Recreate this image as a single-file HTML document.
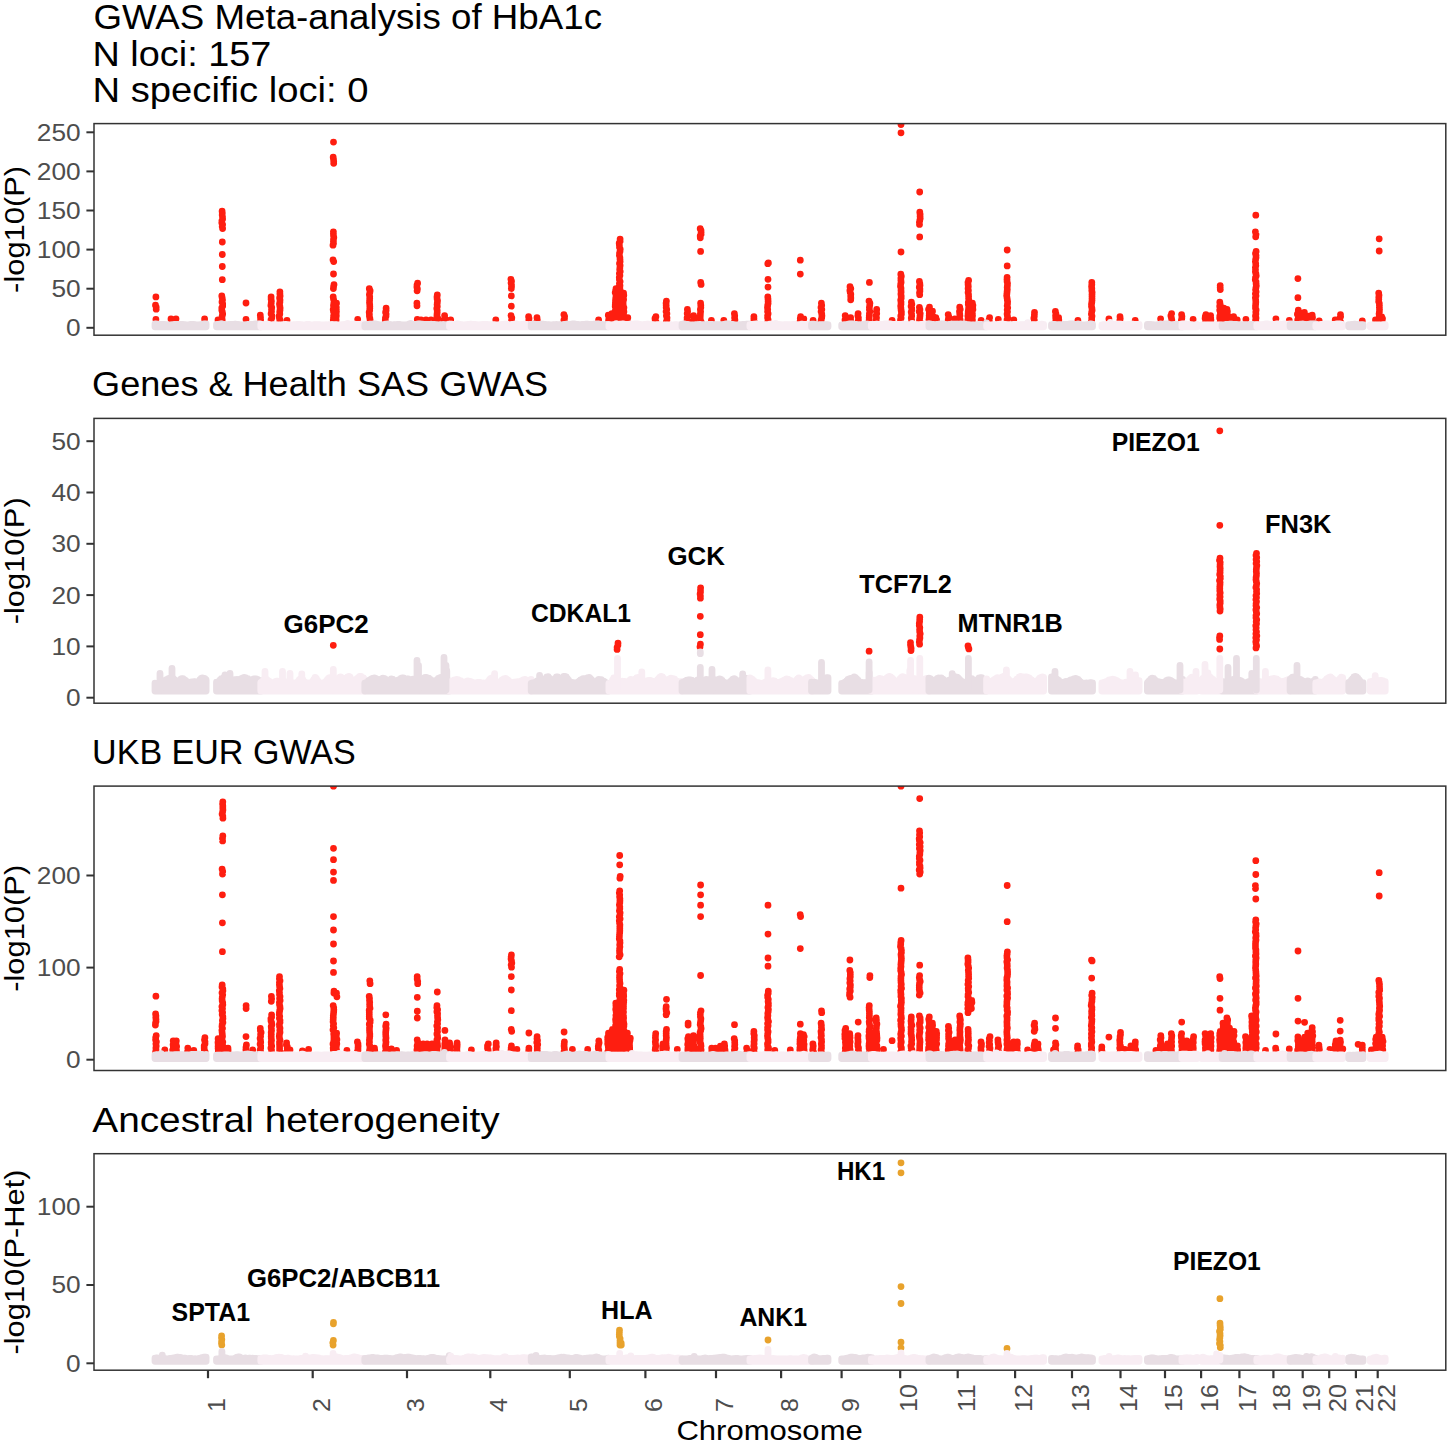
<!DOCTYPE html><html><head><meta charset="utf-8"><style>html,body{margin:0;padding:0;background:#fff;overflow:hidden;}svg{display:block;}</style></head><body><svg width="1450" height="1444" viewBox="0 0 1450 1444" font-family='"Liberation Sans", sans-serif'>
<rect width="1450" height="1444" fill="#FFFFFF"/>
<text x="93.5" y="29" font-size="34.5" fill="#000" font-weight="normal" text-anchor="start" textLength="508.5" lengthAdjust="spacingAndGlyphs">GWAS Meta-analysis of HbA1c</text>
<text x="92.5" y="65.8" font-size="34.5" fill="#000" font-weight="normal" text-anchor="start" textLength="178.9" lengthAdjust="spacingAndGlyphs">N loci: 157</text>
<text x="92.5" y="101.8" font-size="34.5" fill="#000" font-weight="normal" text-anchor="start" textLength="276.1" lengthAdjust="spacingAndGlyphs">N specific loci: 0</text>
<text x="92.1" y="396" font-size="34.5" fill="#000" font-weight="normal" text-anchor="start" textLength="456" lengthAdjust="spacingAndGlyphs">Genes &amp; Health SAS GWAS</text>
<text x="92.1" y="764" font-size="34.5" fill="#000" font-weight="normal" text-anchor="start" textLength="263.6" lengthAdjust="spacingAndGlyphs">UKB EUR GWAS</text>
<text x="92.3" y="1132" font-size="34.5" fill="#000" font-weight="normal" text-anchor="start" textLength="407.3" lengthAdjust="spacingAndGlyphs">Ancestral heterogeneity</text>
<clipPath id="c0"><rect x="94" y="123.6" width="1351.8" height="211.6"/></clipPath>
<g clip-path="url(#c0)">
<path d="M155.9 296.9h0M155.5 305.2h0M156.2 307.2h0M156.2 309.2h0M155.9 319.3h0M171 319h0M176 318.8h0M204.6 319h0M218 320h0M222.1 211.2h0M222.3 213.1h0M222.2 215.1h0M222.5 217h0M222.6 218.9h0M221.9 220.8h0M221.8 222.7h0M222.6 224.6h0M222.2 226.6h0M222.6 228.5h0M222.3 242h0M222.3 254.5h0M222.3 266.5h0M222.3 279.7h0M221.8 296h0M222.2 298h0M222.5 300h0M222 302h0M222.7 304h0M222.7 306h0M221.8 308h0M221.8 310h0M222.3 312h0M222.7 314h0M222.2 316h0M222 318h0M222.2 320h0M221.8 322h0M246 303h0M246 319.3h0M260.3 315.2h0M260.5 317.5h0M260.6 319.7h0M260.3 322h0M271.1 297h0M271.1 299.1h0M271.4 301.2h0M271.2 303.3h0M270.9 305.4h0M271.7 307.4h0M271.5 309.5h0M271.5 311.6h0M271.1 313.7h0M271.9 315.8h0M271.8 317.8h0M271 319.9h0M271.2 322h0M279.9 291.8h0M279.9 293.8h0M280.1 295.9h0M279.6 297.9h0M280 299.9h0M279.9 301.9h0M279.5 303.9h0M279.8 305.9h0M280.1 307.9h0M280 309.9h0M279.7 311.9h0M279.8 314h0M279.2 316h0M279.4 318h0M280 320h0M279.6 322h0M287 320.3h0M333.5 142.1h0M333.2 157.2h0M333.5 159.2h0M333.7 161.3h0M333.7 163.3h0M333.4 231.8h0M333.4 233.7h0M333.5 235.6h0M333.8 237.5h0M333.5 239.5h0M333.4 241.4h0M333.5 243.3h0M333 245.2h0M333 259.8h0M333.7 261.6h0M333.5 274h0M334 284.6h0M333.6 286.5h0M333.4 288.5h0M333.2 297h0M333.5 299.1h0M334 301.2h0M333.8 303.3h0M333.5 305.4h0M333.9 307.4h0M333.2 309.5h0M333.5 311.6h0M334 313.7h0M333.6 315.8h0M333.5 317.8h0M333.3 319.9h0M333.5 322h0M336.5 303.2h0M335.5 305.3h0M336.3 307.4h0M336.3 309.5h0M336.4 311.6h0M336.2 313.7h0M336.3 315.7h0M336 317.8h0M336.1 319.9h0M335.9 322h0M357.7 319.3h0M369.3 288.7h0M370.1 290.7h0M369.8 292.6h0M369.4 294.6h0M369.7 296.6h0M369.7 298.5h0M369.6 300.5h0M369.5 302.4h0M369.7 304.4h0M369.8 306.3h0M369.8 308.3h0M369.7 310.3h0M369.2 312.2h0M369.4 314.2h0M369.4 316.1h0M369.8 318.1h0M370.1 320h0M370 322h0M386.1 308.2h0M386.1 310.2h0M385.6 312.2h0M386.1 314.1h0M386 316.1h0M385.4 318.1h0M385.3 320h0M385.3 322h0M417.6 283.2h0M417 285.1h0M416.9 287h0M417.4 288.9h0M417.1 290.8h0M416.9 303.2h0M417 305.8h0M417.3 319.3h0M421 320h0M426 320h0M431 320h0M437.3 294.9h0M437 296.9h0M437.1 298.8h0M437.5 300.7h0M437.3 302.7h0M437.1 304.6h0M437.3 306.5h0M436.8 308.5h0M437.2 310.4h0M437.2 312.3h0M437 314.3h0M436.9 316.2h0M437.7 318.1h0M437.3 320.1h0M437 322h0M444.6 315.6h0M444.8 317.8h0M444 319.9h0M444 322h0M450.7 319.8h0M495.8 319.8h0M510.9 279.4h0M511.5 281.2h0M511 283h0M511.5 284.9h0M511.5 286.7h0M511.3 288.5h0M511.3 295.9h0M511.3 306.2h0M511 315.6h0M511.8 317.8h0M511.6 319.9h0M511.3 322h0M528.6 316.7h0M529 318.5h0M528.8 320.2h0M529 322h0M537 317.7h0M537.3 319.9h0M536.8 322h0M563.9 314.6h0M564.6 316.5h0M564.5 318.3h0M563.9 320.2h0M564.5 322h0M598.6 319.8h0M608.3 315.2h0M608.9 317.5h0M608.7 319.7h0M608.4 322h0M611.9 313.6h0M611.6 315.7h0M612.5 317.8h0M611.6 319.9h0M612.4 322h0M616 288.7h0M615.6 290.7h0M615.2 292.6h0M615.9 294.6h0M616 296.6h0M615.7 298.5h0M615.5 300.5h0M615.4 302.4h0M615.3 304.4h0M615.2 306.3h0M615.7 308.3h0M615.4 310.3h0M615.2 312.2h0M615.1 314.2h0M615.7 316.1h0M615.3 318.1h0M615.5 320h0M615.3 322h0M620.1 239.1h0M620.1 241.2h0M619.2 243.2h0M619.4 245.2h0M619.5 247.2h0M620.2 249.2h0M620 251.3h0M619.5 253.3h0M619.4 255.3h0M619.9 257.3h0M620 259.3h0M620.1 261.4h0M619.5 263.4h0M620.1 265.4h0M619.9 267.4h0M619.7 269.4h0M620.2 271.5h0M619.4 273.5h0M619.9 275.5h0M619.3 277.5h0M619.4 279.6h0M620.1 281.6h0M619.4 283.6h0M620 285.6h0M619.8 287.6h0M620 289.7h0M619.6 291.7h0M619.5 293.7h0M619.5 295.7h0M620.1 297.7h0M619.8 299.8h0M620.2 301.8h0M620.1 303.8h0M619.3 305.8h0M619.8 307.9h0M619.3 309.9h0M619.2 311.9h0M619.3 313.9h0M620.1 315.9h0M620 318h0M620 320h0M619.5 322h0M623.6 293.2h0M623.8 295.3h0M623.4 297.3h0M623.6 299.4h0M623.2 301.4h0M623.1 303.5h0M623.3 305.6h0M623.9 307.6h0M623.6 309.7h0M623.9 311.7h0M623.5 313.8h0M623.3 315.8h0M623.8 317.9h0M623.8 319.9h0M623 322h0M627.8 317.7h0M627.2 319.9h0M627.2 322h0M655.9 316.7h0M655 318.5h0M655.2 320.2h0M656 322h0M666.4 301.1h0M666.1 303.2h0M666.2 305.3h0M666.2 307.4h0M666.7 309.5h0M666.1 311.6h0M666.9 313.7h0M666.4 315.7h0M667 317.8h0M666.9 319.9h0M666.3 322h0M687.4 309.4h0M687.6 311.5h0M687.2 313.6h0M687.8 315.7h0M687.1 317.8h0M687.1 319.9h0M688.1 322h0M693.6 315.6h0M693.9 317.8h0M693.7 319.9h0M693.6 322h0M700.2 228.7h0M701 230.5h0M701.1 232.3h0M701.1 234.2h0M700.2 236h0M700.3 237.8h0M700.6 251.4h0M700.7 282.5h0M701.1 284.4h0M700.6 303.2h0M700.8 305.3h0M700.8 307.4h0M700.4 309.5h0M700.6 311.6h0M700.4 313.7h0M700.3 315.7h0M700.2 317.8h0M700.4 319.9h0M701.1 322h0M711.4 320.3h0M723.8 320.3h0M734.4 313.6h0M734.7 315.7h0M734.6 317.8h0M734.9 319.9h0M734.4 322h0M753.9 316.7h0M753.9 318.5h0M753.9 320.2h0M754.4 322h0M768.4 262.9h0M767.8 263.7h0M768 279.3h0M768 287.1h0M767.8 297h0M768 299.1h0M768.1 301.2h0M768.1 303.3h0M767.7 305.4h0M767.5 307.4h0M767.7 309.5h0M767.6 311.6h0M768.1 313.7h0M767.6 315.8h0M767.6 317.8h0M768.1 319.9h0M767.8 322h0M800.3 260.2h0M800.3 274.1h0M800.6 316.7h0M800.3 318.5h0M800.7 320.2h0M800 322h0M803.8 318.8h0M813.1 320.3h0M821.4 303.2h0M821.7 305.3h0M821 307.4h0M821.8 309.5h0M821.1 311.6h0M821.7 313.7h0M821.9 315.7h0M821.7 317.8h0M821.2 319.9h0M821 322h0M845.2 315.6h0M845.6 317.8h0M845 319.9h0M845.6 322h0M850 286.7h0M850.8 288.6h0M849.9 290.5h0M850.2 292.3h0M850.8 294.2h0M850.7 296h0M850.8 297.9h0M850.7 299.8h0M850.6 317.7h0M850.6 319.9h0M850.1 322h0M858.1 313.6h0M857.9 315.7h0M858.4 317.8h0M858.4 319.9h0M858 322h0M869.4 282.4h0M869 301.1h0M869.9 303.2h0M869.7 305.3h0M869.4 307.4h0M869.4 309.5h0M869.8 311.6h0M869.4 313.7h0M869.3 315.7h0M869.2 317.8h0M869.2 319.9h0M868.9 322h0M876.7 309.4h0M876.5 311.5h0M876.7 313.6h0M876.2 315.7h0M876.5 317.8h0M876.2 319.9h0M876.2 322h0M892.1 320.3h0M901 124.5h0M901 132.8h0M901 252h0M900.8 274.2h0M901.3 276.2h0M900.9 278.2h0M900.9 280.2h0M901.1 282.2h0M900.7 284.2h0M900.5 286.2h0M901 288.2h0M901 290.2h0M901.1 292.1h0M900.9 294.1h0M901.2 296.1h0M901.2 298.1h0M900.7 300.1h0M901 302.1h0M901 304.1h0M900.7 306.1h0M900.9 308.1h0M901.1 310.1h0M901.4 312h0M901.4 314h0M900.8 316h0M901.1 318h0M900.5 320h0M900.6 322h0M911.4 302.2h0M911.8 304.2h0M911.1 306.2h0M911.7 308.2h0M911.8 310.1h0M911.2 312.1h0M911.6 314.1h0M911.7 316.1h0M911.3 318h0M911.6 320h0M911.6 322h0M919.7 192h0M919.8 212.2h0M920.1 214.3h0M920.1 216.3h0M920.2 218.3h0M919.8 220.3h0M919.4 222.3h0M919.5 224.4h0M919.7 236.9h0M919.4 281.5h0M919.8 283.4h0M920 285.3h0M919.3 287.2h0M919.9 289h0M919.9 290.9h0M919.5 292.8h0M919.7 294.7h0M919.4 307.3h0M919.9 309.4h0M919.2 311.5h0M920.2 313.6h0M920 315.7h0M919.8 317.8h0M919.5 319.9h0M920.1 322h0M929.5 307.2h0M928.6 309.3h0M929.3 311.4h0M929.3 313.6h0M929.2 315.7h0M929.2 317.8h0M928.9 319.9h0M929.4 322h0M932.5 311.2h0M931.9 313.4h0M932.3 315.5h0M931.9 317.7h0M931.7 319.8h0M931.8 322h0M935.8 317.7h0M936.6 319.9h0M936.7 322h0M948.2 314.6h0M948.7 316.5h0M948.5 318.3h0M948.2 320.2h0M948.4 322h0M954.8 318.8h0M959.7 307.2h0M960.2 309.3h0M959.5 311.4h0M959.7 313.6h0M959.9 315.7h0M959.5 317.8h0M960.1 319.9h0M960.1 322h0M968.6 280.5h0M968 282.5h0M968.1 284.5h0M968.3 286.5h0M968.1 288.4h0M968.4 290.4h0M968.1 292.4h0M968.5 294.4h0M968.6 296.3h0M968.6 298.3h0M968.8 300.3h0M968.3 302.3h0M968.3 304.2h0M968.7 306.2h0M968.6 308.2h0M968.4 310.2h0M968.2 312.1h0M968.1 314.1h0M967.9 316.1h0M968.6 318.1h0M967.9 320h0M968.5 322h0M972.4 303.2h0M972.9 305.3h0M972.7 307.4h0M972.9 309.5h0M972 311.6h0M972.4 313.7h0M972.5 315.7h0M972.2 317.8h0M972.4 319.9h0M972.3 322h0M981.1 320.3h0M989.6 317.7h0M989.1 319.9h0M989.5 322h0M998.3 319.3h0M1007.2 250h0M1007.2 265.9h0M1007.1 277.3h0M1007 279.4h0M1007.1 281.4h0M1007.5 283.4h0M1007.4 285.5h0M1007.2 287.5h0M1007.3 289.5h0M1007.1 291.5h0M1006.9 293.6h0M1006.7 295.6h0M1007 297.6h0M1007.3 299.7h0M1007.6 301.7h0M1007.5 303.7h0M1007.2 305.8h0M1007.7 307.8h0M1007.2 309.8h0M1007.5 311.8h0M1007.1 313.9h0M1007.4 315.9h0M1007.7 317.9h0M1007 320h0M1006.9 322h0M1013.8 319.8h0M1034.5 312.5h0M1034.4 314.4h0M1034.3 316.3h0M1033.9 318.2h0M1034.3 320.1h0M1034.3 322h0M1055.4 311.5h0M1055.9 313.6h0M1055.6 315.7h0M1055.7 317.8h0M1055.9 319.9h0M1055.7 322h0M1058.6 317.7h0M1058.8 319.9h0M1058.7 322h0M1077.9 320.5h0M1091.8 282.5h0M1091.8 284.5h0M1091.6 286.5h0M1091.8 288.5h0M1091.8 290.4h0M1092.1 292.4h0M1092 294.4h0M1092 296.3h0M1092 298.3h0M1092 300.3h0M1091.8 302.3h0M1091.5 304.2h0M1091.5 306.2h0M1091.9 308.2h0M1092.1 310.2h0M1091.7 312.1h0M1091.4 314.1h0M1092 316.1h0M1091.7 318.1h0M1091.7 320h0M1091.2 322h0M1108.9 318.8h0M1120 316.7h0M1120.2 318.5h0M1119.9 320.2h0M1119.9 322h0M1135.2 320.5h0M1160.6 318.8h0M1171.6 313.6h0M1170.9 315.7h0M1171.4 317.8h0M1171.8 319.9h0M1171.6 322h0M1181.6 314.6h0M1181.9 316.5h0M1181.8 318.3h0M1181.4 320.2h0M1181.4 322h0M1193.1 319.3h0M1205.9 314.6h0M1205.3 316.5h0M1205.1 318.3h0M1205.8 320.2h0M1205.5 322h0M1210.6 315.6h0M1210.7 317.8h0M1210.9 319.9h0M1210.4 322h0M1220.2 285.6h0M1220.2 287.6h0M1220.3 289.6h0M1219.8 302.2h0M1220.1 304.2h0M1219.7 306.2h0M1220.1 308.2h0M1219.7 310.1h0M1220.3 312.1h0M1220.4 314.1h0M1219.8 316.1h0M1219.7 318h0M1220.5 320h0M1220.2 322h0M1223.8 308.2h0M1223 310.2h0M1223.9 312.2h0M1223.6 314.1h0M1223.3 316.1h0M1223.4 318.1h0M1223.8 320h0M1223.8 322h0M1227 309.4h0M1227.4 311.5h0M1227 313.6h0M1227.8 315.7h0M1227.2 317.8h0M1227.7 319.9h0M1227.5 322h0M1233.6 316.7h0M1233.3 318.5h0M1233.5 320.2h0M1233.1 322h0M1237.2 319.8h0M1245.9 319.3h0M1255.8 215.2h0M1255.4 231.8h0M1256 234.3h0M1255.7 236.8h0M1256.1 251.5h0M1255.5 253.5h0M1256 255.6h0M1256 257.6h0M1255.6 259.6h0M1255.4 261.6h0M1255.7 263.6h0M1255.8 265.6h0M1255.4 267.6h0M1255.5 269.7h0M1255.4 271.7h0M1255.9 273.7h0M1256.2 275.7h0M1255.5 277.7h0M1255.3 279.7h0M1256 281.7h0M1256.1 283.7h0M1256.3 285.8h0M1255.9 287.8h0M1255.6 289.8h0M1256.1 291.8h0M1255.4 293.8h0M1256 295.8h0M1255.4 297.8h0M1255.7 299.9h0M1255.8 301.9h0M1255.7 303.9h0M1255.5 305.9h0M1255.5 307.9h0M1256.1 309.9h0M1255.8 311.9h0M1255.9 313.9h0M1255.5 316h0M1256 318h0M1255.6 320h0M1255.9 322h0M1275.9 318.8h0M1289.3 320.5h0M1297.9 278.6h0M1297.9 297.7h0M1298.3 310.2h0M1298.4 312.2h0M1297.4 314.2h0M1298.2 316.1h0M1298.3 318.1h0M1297.7 320h0M1297.8 322h0M1304.4 312.4h0M1304.7 314.3h0M1304.2 316.3h0M1304.7 318.2h0M1304.6 320.1h0M1304 322h0M1308.9 316.2h0M1308 318.2h0M1308.1 320.1h0M1308.7 322h0M1312.2 315.2h0M1312.5 317.5h0M1312.2 319.7h0M1312.6 322h0M1319.2 320.9h0M1335.2 320h0M1340.5 314.6h0M1340.6 316.5h0M1339.7 318.3h0M1339.8 320.2h0M1340.5 322h0M1362.3 320.8h0M1375.5 320h0M1379.2 238.8h0M1379.2 251h0M1378.7 293.1h0M1379 295.2h0M1378.8 297.3h0M1378.8 299.3h0M1378.7 301.4h0M1379.3 303.4h0M1379.4 305.5h0M1379.4 307.6h0M1379.5 309.6h0M1379.4 311.7h0M1379.1 313.8h0M1379.3 315.8h0M1379.7 317.9h0M1379.3 319.9h0M1378.9 322h0M1381.7 316.9h0M1382.5 318.6h0M1382.2 320.3h0M1381.9 322h0" stroke="#FE1E10" stroke-width="6.8" stroke-linecap="round" fill="none"/>
<path d="M155 324V326.8M156.2 324V326.8M157.4 324.1V326.8M158.6 324.2V326.8M159.8 324.3V326.8M161.1 324.4V326.8M162.3 324.4V326.8M163.5 324.3V326.8M164.7 324.4V326.8M165.9 324.6V326.8M167.1 324.7V326.8M168.4 324.8V326.8M169.6 324.8V326.8M170.8 324.8V326.8M172 324.7V326.8M173.2 324.6V326.8M174.4 324.5V326.8M175.7 324.4V326.8M176.9 324.4V326.8M178.1 324.3V326.8M179.3 324.3V326.8M180.5 324.4V326.8M181.7 324.5V326.8M183 324.5V326.8M184.2 324.6V326.8M185.4 324.6V326.8M186.6 324.8V326.8M187.8 324.8V326.8M189 324.7V326.8M190.3 324.5V326.8M191.5 324.3V326.8M192.7 324.3V326.8M193.9 324.5V326.8M195.1 324.8V326.8M196.4 324.8V326.8M197.6 324.9V326.8M198.8 324.8V326.8M200 324.6V326.8M201.2 324.5V326.8M202.4 324.2V326.8M203.7 323.9V326.8M204.9 323.8V326.8M206.1 324V326.8M216.5 324.5V326.8M217.8 324.3V326.8M219 324.1V326.8M220.2 324V326.8M221.4 323.7V326.8M222.6 324.1V326.8M223.8 324.3V326.8M225 324.4V326.8M226.2 324.7V326.8M227.4 324.6V326.8M228.6 324.4V326.8M229.8 324.3V326.8M231 324.3V326.8M232.2 324.3V326.8M233.4 324.4V326.8M234.6 324.1V326.8M235.8 324.1V326.8M237 324.3V326.8M238.2 324.5V326.8M239.4 324.8V326.8M240.6 324.9V326.8M241.8 324.8V326.8M243 324.8V326.8M244.2 324.8V326.8M245.4 324.7V326.8M246.6 324.6V326.8M247.8 324.5V326.8M249 324.5V326.8M250.2 324.4V326.8M251.4 324.4V326.8M252.6 324.4V326.8M253.8 324.3V326.8M255 324V326.8M256.2 323.8V326.8M257.4 323.8V326.8M258.6 323.8V326.8M259.8 324V326.8M261 324.3V326.8" stroke="#E8DEE4" stroke-width="6.8" stroke-linecap="round" fill="none"/>
<path d="M260.8 324.1V326.8M262 324.4V326.8M263.2 324.7V326.8M264.4 324.5V326.8M265.6 324.3V326.8M266.8 324.2V326.8M268.1 324.2V326.8M269.3 324.4V326.8M270.5 324.6V326.8M271.7 324.8V326.8M272.9 324.7V326.8M274.1 324.7V326.8M275.3 324.6V326.8M276.5 324.6V326.8M277.7 324.8V326.8M278.9 324.8V326.8M280.1 324.9V326.8M281.3 324.8V326.8M282.5 324.7V326.8M283.7 324.6V326.8M284.9 324.5V326.8M286.2 324.5V326.8M287.4 324.6V326.8M288.6 324.7V326.8M289.8 324.8V326.8M291 324.8V326.8M292.2 324.8V326.8M293.4 324.7V326.8M294.6 324.6V326.8M295.8 324.6V326.8M297 324.5V326.8M298.2 324.5V326.8M299.4 324.5V326.8M300.6 324.6V326.8M301.8 324.6V326.8M303 324.8V326.8M304.3 324.8V326.8M305.5 324.6V326.8M306.7 324.4V326.8M307.9 324.4V326.8M309.1 324.5V326.8M310.3 324.7V326.8M311.5 324.8V326.8M312.7 324.8V326.8M313.9 324.7V326.8M315.1 324.7V326.8M316.3 324.7V326.8M317.5 324.7V326.8M318.7 324.7V326.8M319.9 324.7V326.8M321.1 324.8V326.8M322.4 324.8V326.8M323.6 324.8V326.8M324.8 324.8V326.8M326 324.7V326.8M327.2 324.8V326.8M328.4 324.6V326.8M329.6 324.7V326.8M330.8 324.6V326.8M332 324.5V326.8M333.2 324.6V326.8M334.4 324.6V326.8M335.6 324.7V326.8M336.8 324.7V326.8M338 324.8V326.8M339.2 324.8V326.8M340.5 324.8V326.8M341.7 324.7V326.8M342.9 324.7V326.8M344.1 324.5V326.8M345.3 324.2V326.8M346.5 324.1V326.8M347.7 323.4V326.8M348.9 324.3V326.8M350.1 324.3V326.8M351.3 324.2V326.8M352.5 324.1V326.8M353.7 324.1V326.8M354.9 324.1V326.8M356.1 324.3V326.8M357.3 324.4V326.8M358.6 324.5V326.8M359.8 324.5V326.8M361 324.2V326.8M362.2 324V326.8M363.4 323.8V326.8M364.6 323.9V326.8" stroke="#F8EDF3" stroke-width="6.8" stroke-linecap="round" fill="none"/>
<path d="M364.8 324.7V326.8M366 324.6V326.8M367.2 324.4V326.8M368.4 324.3V326.8M369.6 324.1V326.8M370.8 324.2V326.8M372 324.1V326.8M373.2 323.9V326.8M374.4 323.9V326.8M375.6 324V326.8M376.8 324.2V326.8M378 324.5V326.8M379.2 324.7V326.8M380.5 324.8V326.8M381.7 324.8V326.8M382.9 324.7V326.8M384.1 324.5V326.8M385.3 324.2V326.8M386.5 324.1V326.8M387.7 324V326.8M388.9 324.2V326.8M390.1 324.4V326.8M391.3 324.7V326.8M392.5 324.8V326.8M393.7 324.7V326.8M394.9 324.7V326.8M396.1 324.6V326.8M397.3 324.3V326.8M398.6 324.3V326.8M399.8 324.4V326.8M401 324.6V326.8M402.2 324.8V326.8M403.4 324.8V326.8M404.6 324.8V326.8M405.8 324.8V326.8M407 324.6V326.8M408.2 324.3V326.8M409.4 324V326.8M410.6 323.5V326.8M411.8 324V326.8M413 324.3V326.8M414.2 324.4V326.8M415.4 324.3V326.8M416.7 324.1V326.8M417.9 324V326.8M419.1 324V326.8M420.3 323.9V326.8M421.5 324.1V326.8M422.7 324.1V326.8M423.9 324.3V326.8M425.1 324.4V326.8M426.3 324.4V326.8M427.5 324.4V326.8M428.7 324.3V326.8M429.9 324.3V326.8M431.1 324.2V326.8M432.3 324.3V326.8M433.5 324.4V326.8M434.8 324.4V326.8M436 324.6V326.8M437.2 324.7V326.8M438.4 324.8V326.8M439.6 324.7V326.8M440.8 324.6V326.8M442 324.6V326.8M443.2 324.5V326.8M444.4 324.6V326.8M445.6 324.7V326.8M446.8 324.8V326.8M448 324.5V326.8M449.2 324.2V326.8" stroke="#E8DEE4" stroke-width="6.8" stroke-linecap="round" fill="none"/>
<path d="M449.5 324.1V326.8M450.8 324.1V326.8M452 324.2V326.8M453.2 324.3V326.8M454.4 324.4V326.8M455.6 324.2V326.8M456.8 323.9V326.8M458.1 323.8V326.8M459.3 324.1V326.8M460.5 324.5V326.8M461.7 324.8V326.8M462.9 324.8V326.8M464.1 324.8V326.8M465.4 324.7V326.8M466.6 324.6V326.8M467.8 324.4V326.8M469 324.4V326.8M470.2 324.2V326.8M471.4 324.2V326.8M472.7 324.3V326.8M473.9 324.4V326.8M475.1 324.5V326.8M476.3 324.7V326.8M477.5 324.7V326.8M478.7 324.8V326.8M480 324.7V326.8M481.2 324.6V326.8M482.4 324.5V326.8M483.6 324.4V326.8M484.8 324.4V326.8M486 324.4V326.8M487.3 324.5V326.8M488.5 324.6V326.8M489.7 324.7V326.8M490.9 324.7V326.8M492.1 324.8V326.8M493.3 324.7V326.8M494.6 324.7V326.8M495.8 324.8V326.8M497 324.8V326.8M498.2 324.8V326.8M499.4 324.7V326.8M500.6 324.7V326.8M501.9 324.4V326.8M503.1 324.3V326.8M504.3 324.2V326.8M505.5 324.2V326.8M506.7 324.2V326.8M507.9 324.4V326.8M509.2 324.6V326.8M510.4 324.6V326.8M511.6 324.5V326.8M512.8 324.3V326.8M514 324.1V326.8M515.2 323.9V326.8M516.5 324V326.8M517.7 324.2V326.8M518.9 324.5V326.8M520.1 324.6V326.8M521.3 324.4V326.8M522.5 324.3V326.8M523.8 324.2V326.8M525 324.2V326.8M526.2 324.3V326.8M527.4 324.4V326.8M528.6 324.6V326.8M529.8 324.4V326.8M531.1 324.3V326.8" stroke="#F8EDF3" stroke-width="6.8" stroke-linecap="round" fill="none"/>
<path d="M531.2 324.3V326.8M532.4 324.1V326.8M533.6 324.1V326.8M534.8 324.1V326.8M536 324.3V326.8M537.2 324.4V326.8M538.4 324.4V326.8M539.6 324.3V326.8M540.8 324.2V326.8M542 324.2V326.8M543.3 324.2V326.8M544.5 324.3V326.8M545.7 324.4V326.8M546.9 324.6V326.8M548.1 324.6V326.8M549.3 324.7V326.8M550.5 324.8V326.8M551.7 324.8V326.8M552.9 324.7V326.8M554.1 324.6V326.8M555.3 324.6V326.8M556.5 324.5V326.8M557.7 324.6V326.8M558.9 324.6V326.8M560.1 324.7V326.8M561.4 324.8V326.8M562.6 324.6V326.8M563.8 324.5V326.8M565 324.3V326.8M566.2 324.2V326.8M567.4 324.2V326.8M568.6 324.3V326.8M569.8 324.3V326.8M571 324.2V326.8M572.2 324V326.8M573.4 324V326.8M574.6 324V326.8M575.8 324.2V326.8M577 324.3V326.8M578.2 324.4V326.8M579.5 324.6V326.8M580.7 324.6V326.8M581.9 324.5V326.8M583.1 324.4V326.8M584.3 324.3V326.8M585.5 324.2V326.8M586.7 324.2V326.8M587.9 324.2V326.8M589.1 324.3V326.8M590.3 324.3V326.8M591.5 324.4V326.8M592.7 324.3V326.8M593.9 324.2V326.8M595.1 324.1V326.8M596.3 324V326.8M597.6 324V326.8M598.8 324V326.8M600 324.1V326.8M601.2 324.3V326.8M602.4 324.4V326.8M603.6 324.6V326.8M604.8 324.7V326.8M606 324.5V326.8M607.2 324.5V326.8M608.4 324.5V326.8" stroke="#E8DEE4" stroke-width="6.8" stroke-linecap="round" fill="none"/>
<path d="M608.9 324.8V326.8M610.2 324.8V326.8M611.4 324.8V326.8M612.6 324.7V326.8M613.8 324.6V326.8M615 324.5V326.8M616.2 323.6V326.8M617.4 324.3V326.8M618.7 324.3V326.8M619.9 324.2V326.8M621.1 324.1V326.8M622.3 324V326.8M623.5 324V326.8M624.7 324.2V326.8M626 324.4V326.8M627.2 324.5V326.8M628.4 324.4V326.8M629.6 324.2V326.8M630.8 324.2V326.8M632 324.1V326.8M633.2 324.1V326.8M634.5 323.9V326.8M635.7 323.8V326.8M636.9 323.8V326.8M638.1 324V326.8M639.3 324.3V326.8M640.5 324.5V326.8M641.8 324.7V326.8M643 324.6V326.8M644.2 324.5V326.8M645.4 324.3V326.8M646.6 324.1V326.8M647.8 324.1V326.8M649 324.1V326.8M650.3 324.3V326.8M651.5 324.5V326.8M652.7 324.6V326.8M653.9 324.7V326.8M655.1 324.8V326.8M656.3 324.7V326.8M657.6 324.7V326.8M658.8 324.6V326.8M660 324.6V326.8M661.2 324.7V326.8M662.4 324.8V326.8M663.6 324.8V326.8M664.8 324.8V326.8M666.1 324.9V326.8M667.3 324.9V326.8M668.5 324.9V326.8M669.7 324.8V326.8M670.9 324.7V326.8M672.1 324.8V326.8M673.4 324.8V326.8M674.6 324.7V326.8M675.8 324.7V326.8M677 324.7V326.8M678.2 324.8V326.8M679.4 324.9V326.8M680.6 324.8V326.8M681.9 324.8V326.8" stroke="#F8EDF3" stroke-width="6.8" stroke-linecap="round" fill="none"/>
<path d="M682 324.1V326.8M683.3 324V326.8M684.5 324V326.8M685.7 324.2V326.8M686.9 324.4V326.8M688.1 324.5V326.8M689.3 324.7V326.8M690.5 324.8V326.8M691.7 324.8V326.8M693 324.8V326.8M694.2 324.9V326.8M695.4 324.7V326.8M696.6 324.6V326.8M697.8 324.6V326.8M699 324.5V326.8M700.2 324.5V326.8M701.4 324.6V326.8M702.7 324.7V326.8M703.9 324.7V326.8M705.1 324.8V326.8M706.3 324.6V326.8M707.5 324.5V326.8M708.7 324.4V326.8M709.9 324.3V326.8M711.1 324.3V326.8M712.4 324.5V326.8M713.6 324.6V326.8M714.8 324.7V326.8M716 324.7V326.8M717.2 324.7V326.8M718.4 324.7V326.8M719.6 324.7V326.8M720.9 324.7V326.8M722.1 324.6V326.8M723.3 324.5V326.8M724.5 324.3V326.8M725.7 324V326.8M726.9 323.9V326.8M728.1 323.8V326.8M729.3 324V326.8M730.6 324.2V326.8M731.8 324.4V326.8M733 324.5V326.8M734.2 324.7V326.8M735.4 324.8V326.8M736.6 324.9V326.8M737.8 324.8V326.8M739 324.7V326.8M740.3 324.6V326.8M741.5 324.6V326.8M742.7 324.5V326.8M743.9 324.3V326.8M745.1 324.3V326.8M746.3 324.2V326.8M747.5 324.2V326.8M748.7 324.2V326.8M750 324.2V326.8" stroke="#E8DEE4" stroke-width="6.8" stroke-linecap="round" fill="none"/>
<path d="M749.9 324.6V326.8M751.1 324.4V326.8M752.4 324.3V326.8M753.6 324.2V326.8M754.8 324.1V326.8M756 324V326.8M757.2 324V326.8M758.5 324.1V326.8M759.7 324.1V326.8M760.9 324.2V326.8M762.1 324.4V326.8M763.4 324.6V326.8M764.6 324.7V326.8M765.8 324.7V326.8M767 324.6V326.8M768.3 324.4V326.8M769.5 324.2V326.8M770.7 324.1V326.8M771.9 324V326.8M773.1 324.1V326.8M774.4 324.3V326.8M775.6 323.4V326.8M776.8 324.6V326.8M778 324.4V326.8M779.3 324.5V326.8M780.5 324.6V326.8M781.7 324.7V326.8M782.9 324.8V326.8M784.2 324.7V326.8M785.4 324.7V326.8M786.6 324.7V326.8M787.8 324.7V326.8M789.1 324.7V326.8M790.3 324.6V326.8M791.5 324.6V326.8M792.7 324.5V326.8M793.9 324.5V326.8M795.2 324.5V326.8M796.4 324.6V326.8M797.6 324.6V326.8M798.8 324.7V326.8M800.1 324.4V326.8M801.3 324.2V326.8M802.5 324.1V326.8M803.7 324.3V326.8M805 324.4V326.8M806.2 324.3V326.8M807.4 324.3V326.8M808.6 324.2V326.8M809.8 324.3V326.8M811.1 324.4V326.8M812.3 324.3V326.8" stroke="#F8EDF3" stroke-width="6.8" stroke-linecap="round" fill="none"/>
<path d="M811.5 324.2V326.8M812.8 324.1V326.8M814.1 324.2V326.8M815.3 324.5V326.8M816.6 324.7V326.8M817.9 324.8V326.8M819.1 324.6V326.8M820.4 324.6V326.8M821.7 324.6V326.8M822.9 324.6V326.8M824.2 324.6V326.8M825.5 324.6V326.8M826.7 324.6V326.8M828 324.7V326.8M841.7 324.8V326.8M843 324.8V326.8M844.2 324.7V326.8M845.5 324.6V326.8M846.7 324.5V326.8M848 324.2V326.8M849.2 324V326.8M850.5 323.9V326.8M851.7 323.9V326.8M853 324V326.8M854.2 324.1V326.8M855.5 324.3V326.8M856.7 324.5V326.8M858 324.7V326.8M859.2 324.7V326.8M860.5 324.7V326.8M861.7 324.6V326.8M862.9 324.4V326.8M864.2 324.2V326.8M865.4 324.2V326.8M866.7 324.1V326.8M867.9 324.2V326.8M869.2 324.3V326.8M870.4 324.5V326.8M871.7 324.3V326.8" stroke="#E8DEE4" stroke-width="6.8" stroke-linecap="round" fill="none"/>
<path d="M871.3 324.7V326.8M872.5 324.6V326.8M873.7 324.5V326.8M874.9 324.3V326.8M876.1 324.2V326.8M877.3 324.2V326.8M878.5 324.3V326.8M879.7 324.4V326.8M880.9 324.5V326.8M882.1 324.4V326.8M883.3 324.2V326.8M884.5 324V326.8M885.7 323.9V326.8M887 323.8V326.8M888.2 323.9V326.8M889.4 323.9V326.8M890.6 324V326.8M891.8 324.2V326.8M893 324.4V326.8M894.2 324.5V326.8M895.4 324.5V326.8M896.6 324.5V326.8M897.8 324.5V326.8M899 324.5V326.8M900.2 324.5V326.8M901.4 324.4V326.8M902.6 324.2V326.8M903.8 324.2V326.8M905 324.2V326.8M906.2 324.3V326.8M907.4 324.4V326.8M908.6 324.6V326.8M909.8 324.7V326.8M911 324.6V326.8M912.2 323.5V326.8M913.4 324.7V326.8M914.7 324.7V326.8M915.9 324.6V326.8M917.1 324.7V326.8M918.3 324.7V326.8M919.5 324.6V326.8M920.7 324.4V326.8M921.9 324.3V326.8M923.1 324.2V326.8M924.3 324.1V326.8M925.5 324V326.8M926.7 324.1V326.8M927.9 324.1V326.8M929.1 324.1V326.8" stroke="#F8EDF3" stroke-width="6.8" stroke-linecap="round" fill="none"/>
<path d="M928.9 323.8V326.8M930.2 323.9V326.8M931.4 324.1V326.8M932.6 324.3V326.8M933.8 324.5V326.8M935.1 324.6V326.8M936.3 324.5V326.8M937.5 324.3V326.8M938.7 324.1V326.8M940 324V326.8M941.2 323.9V326.8M942.4 324V326.8M943.6 324V326.8M944.9 324.2V326.8M946.1 324.4V326.8M947.3 324.6V326.8M948.5 324.4V326.8M949.7 324.4V326.8M951 324.2V326.8M952.2 324.1V326.8M953.4 324.1V326.8M954.6 324.1V326.8M955.9 324.1V326.8M957.1 324.2V326.8M958.3 324.1V326.8M959.5 324.1V326.8M960.8 324V326.8M962 324.2V326.8M963.2 324.2V326.8M964.4 324.2V326.8M965.7 324.2V326.8M966.9 324.4V326.8M968.1 324.6V326.8M969.3 324.7V326.8M970.5 324.8V326.8M971.8 324.8V326.8M973 324.9V326.8M974.2 324.8V326.8M975.4 324.8V326.8M976.7 324.6V326.8M977.9 324.5V326.8M979.1 324.3V326.8M980.3 324.4V326.8M981.6 324.5V326.8M982.8 324.7V326.8M984 324.8V326.8M985.2 324.8V326.8M986.5 322.9V326.8" stroke="#E8DEE4" stroke-width="6.8" stroke-linecap="round" fill="none"/>
<path d="M986.6 324.8V326.8M987.8 324.8V326.8M989 324.8V326.8M990.2 324.8V326.8M991.4 324.8V326.8M992.7 324.7V326.8M993.9 324.7V326.8M995.1 324.7V326.8M996.3 324.6V326.8M997.5 324.4V326.8M998.7 324.3V326.8M999.9 324.2V326.8M1001.1 324.1V326.8M1002.4 324.1V326.8M1003.6 324.2V326.8M1004.8 324.3V326.8M1006 324.5V326.8M1007.2 324.6V326.8M1008.4 324.7V326.8M1009.6 324.7V326.8M1010.9 324.7V326.8M1012.1 324.6V326.8M1013.3 324.5V326.8M1014.5 324.5V326.8M1015.7 324.5V326.8M1016.9 324.5V326.8M1018.1 324.6V326.8M1019.3 324.6V326.8M1020.6 324.7V326.8M1021.8 324.7V326.8M1023 324.7V326.8M1024.2 324.7V326.8M1025.4 324.7V326.8M1026.6 324.7V326.8M1027.8 322.6V326.8M1029.1 324.7V326.8M1030.3 324.7V326.8M1031.5 324.7V326.8M1032.7 324.7V326.8M1033.9 324.7V326.8M1035.1 324.7V326.8M1036.3 324.6V326.8M1037.5 324.5V326.8M1038.8 324.3V326.8M1040 324.3V326.8M1041.2 324.2V326.8M1042.4 324.2V326.8M1043.6 324.3V326.8" stroke="#F8EDF3" stroke-width="6.8" stroke-linecap="round" fill="none"/>
<path d="M1051.5 324.6V326.8M1052.7 324.5V326.8M1053.9 324.5V326.8M1055.1 324.5V326.8M1056.3 324.6V326.8M1057.5 324.7V326.8M1058.7 324.7V326.8M1059.9 324.7V326.8M1061.1 324.7V326.8M1062.3 324.6V326.8M1063.6 324.5V326.8M1064.8 324.5V326.8M1066 324.5V326.8M1067.2 324.3V326.8M1068.4 324.1V326.8M1069.6 323.9V326.8M1070.8 323.8V326.8M1072 323.9V326.8M1073.2 324V326.8M1074.4 324.3V326.8M1075.6 324.4V326.8M1076.8 324.1V326.8M1078 324V326.8M1079.2 324.1V326.8M1080.4 324.4V326.8M1081.7 324.7V326.8M1082.9 324.8V326.8M1084.1 324.9V326.8M1085.3 324.8V326.8M1086.5 324.7V326.8M1087.7 324.6V326.8M1088.9 324.3V326.8M1090.1 323.9V326.8M1091.3 323.8V326.8M1092.5 324.1V326.8" stroke="#E8DEE4" stroke-width="6.8" stroke-linecap="round" fill="none"/>
<path d="M1101.9 324.8V326.8M1103.1 324.7V326.8M1104.3 324.7V326.8M1105.5 324.6V326.8M1106.7 324.7V326.8M1107.9 324.8V326.8M1109.1 324.7V326.8M1110.3 322.4V326.8M1111.5 324.8V326.8M1112.7 324.7V326.8M1113.9 324.5V326.8M1115.1 324.4V326.8M1116.3 324.2V326.8M1117.5 324.2V326.8M1118.7 324.1V326.8M1119.9 324.1V326.8M1121.1 324.1V326.8M1122.3 324.3V326.8M1123.5 324.5V326.8M1124.7 324.6V326.8M1125.9 324.6V326.8M1127.1 324.6V326.8M1128.3 324.4V326.8M1129.5 324.4V326.8M1130.7 324.2V326.8M1131.9 324.2V326.8M1133.1 324.2V326.8M1134.3 324.3V326.8M1135.5 324.3V326.8M1136.7 324.4V326.8M1137.9 324.5V326.8M1139.1 324.4V326.8" stroke="#F8EDF3" stroke-width="6.8" stroke-linecap="round" fill="none"/>
<path d="M1147.4 324.4V326.8M1148.6 324.4V326.8M1149.8 324.4V326.8M1151 324.5V326.8M1152.2 324.7V326.8M1153.5 324.7V326.8M1154.7 324.8V326.8M1155.9 324.8V326.8M1157.1 324.6V326.8M1158.3 324.4V326.8M1159.5 324.1V326.8M1160.7 324V326.8M1162 324.1V326.8M1163.2 324.2V326.8M1164.4 324V326.8M1165.6 323.8V326.8M1166.8 323.8V326.8M1168 324V326.8M1169.3 324.4V326.8M1170.5 324.6V326.8M1171.7 324.6V326.8M1172.9 324.6V326.8M1174.1 324.4V326.8M1175.3 324.4V326.8M1176.5 324.3V326.8M1177.8 324.4V326.8M1179 324.3V326.8M1180.2 324.4V326.8M1181.4 324.4V326.8M1182.6 324.5V326.8" stroke="#E8DEE4" stroke-width="6.8" stroke-linecap="round" fill="none"/>
<path d="M1181.9 323.9V326.8M1183.1 323.8V326.8M1184.4 323.8V326.8M1185.6 323.9V326.8M1186.9 324.1V326.8M1188.1 324.3V326.8M1189.4 324.5V326.8M1190.6 324.6V326.8M1191.9 324.7V326.8M1193.1 324.8V326.8M1194.4 324.8V326.8M1195.6 324.7V326.8M1196.9 324.4V326.8M1201.7 324.9V326.8M1202.9 324.9V326.8M1204.2 324.8V326.8M1205.4 324.8V326.8M1206.7 324.9V326.8M1207.9 324.8V326.8M1209.1 324.8V326.8M1210.4 324.8V326.8M1211.6 324.8V326.8M1212.9 324.8V326.8M1214.1 324.8V326.8M1215.4 324.8V326.8M1216.6 324.9V326.8M1217.9 324.8V326.8M1219.1 324.9V326.8M1220.3 324.9V326.8" stroke="#F8EDF3" stroke-width="6.8" stroke-linecap="round" fill="none"/>
<path d="M1222.1 324.8V326.8M1223.3 324.8V326.8M1224.5 324.7V326.8M1225.8 324.5V326.8M1227 324.4V326.8M1228.3 324.3V326.8M1229.5 324.2V326.8M1230.7 324.2V326.8M1232 324.1V326.8M1233.2 324.3V326.8M1234.4 324.3V326.8M1235.7 324.5V326.8M1236.9 324.5V326.8M1238.2 324.7V326.8M1239.4 324.7V326.8M1240.6 324.7V326.8M1241.9 324.7V326.8M1243.1 324.6V326.8M1244.4 324.7V326.8M1245.6 324.7V326.8M1246.8 324.7V326.8M1248.1 324.7V326.8M1249.3 324.5V326.8M1250.5 324.5V326.8M1251.8 324.5V326.8M1253 324.5V326.8M1254.3 324.7V326.8M1255.5 324.7V326.8M1256.7 324.8V326.8" stroke="#E8DEE4" stroke-width="6.8" stroke-linecap="round" fill="none"/>
<path d="M1256.8 324.6V326.8M1258 324.6V326.8M1259.2 324.6V326.8M1260.5 324.7V326.8M1261.7 324.7V326.8M1262.9 324.4V326.8M1264.2 324.2V326.8M1265.4 324V326.8M1266.6 324V326.8M1267.9 324V326.8M1269.1 324.4V326.8M1270.3 324.5V326.8M1271.6 324.6V326.8M1272.8 324.5V326.8M1274 324.3V326.8M1275.2 324.2V326.8M1276.5 324V326.8M1277.7 324V326.8M1278.9 324.1V326.8M1280.2 324.2V326.8M1281.4 324.4V326.8M1282.6 324.3V326.8M1283.9 324V326.8M1285.1 323.9V326.8M1286.3 324.3V326.8M1287.6 324.2V326.8M1288.8 324.1V326.8M1290 323.9V326.8" stroke="#F8EDF3" stroke-width="6.8" stroke-linecap="round" fill="none"/>
<path d="M1290.1 324.3V326.8M1291.4 324.1V326.8M1292.6 323.9V326.8M1293.9 324.1V326.8M1295.2 324.5V326.8M1296.4 324.4V326.8M1297.7 324.3V326.8M1298.9 324.3V326.8M1300.2 324.2V326.8M1301.4 324.1V326.8M1302.7 323.9V326.8M1304 324.1V326.8M1305.2 324.3V326.8M1306.5 324.5V326.8M1307.7 324.4V326.8M1309 324.1V326.8M1310.2 324V326.8M1311.5 323.9V326.8M1312.8 323.9V326.8M1314 323.8V326.8M1315.3 323.9V326.8" stroke="#E8DEE4" stroke-width="6.8" stroke-linecap="round" fill="none"/>
<path d="M1315.8 324.8V326.8M1317 324.8V326.8M1318.2 324.7V326.8M1319.4 324.6V326.8M1320.7 324.5V326.8M1321.9 324.4V326.8M1323.1 324.2V326.8M1324.3 324V326.8M1325.5 324V326.8M1326.8 323.9V326.8M1328 323.9V326.8M1329.2 324V326.8M1330.4 324.2V326.8M1331.6 324.3V326.8M1332.9 324.5V326.8M1334.1 324.5V326.8M1335.3 324.3V326.8M1336.5 324V326.8M1337.7 323.9V326.8M1339 323.8V326.8M1340.2 324V326.8M1341.4 324.2V326.8M1342.6 324.5V326.8" stroke="#F8EDF3" stroke-width="6.8" stroke-linecap="round" fill="none"/>
<path d="M1348.8 324.7V326.8M1350.1 324.6V326.8M1351.4 324.5V326.8M1352.7 324.3V326.8M1354 324.2V326.8M1355.3 324.1V326.8M1356.5 324.3V326.8M1357.8 324.4V326.8M1359.1 324.6V326.8M1360.4 324.7V326.8M1361.7 324.7V326.8M1363 324.7V326.8" stroke="#E8DEE4" stroke-width="6.8" stroke-linecap="round" fill="none"/>
<path d="M1370.2 324.8V326.8M1371.4 324.9V326.8M1372.7 324.9V326.8M1373.9 324.8V326.8M1375.2 324.8V326.8M1376.4 324.8V326.8M1377.7 324.8V326.8M1379 324.8V326.8M1380.2 324.8V326.8M1381.5 324.8V326.8M1382.7 324.7V326.8M1384 324.6V326.8M1385.2 324.6V326.8" stroke="#F8EDF3" stroke-width="6.8" stroke-linecap="round" fill="none"/>
</g>
<rect x="94" y="123.6" width="1351.8" height="211.6" fill="none" stroke="#333333" stroke-width="1.5"/>
<line x1="86.4" x2="94" y1="327.8" y2="327.8" stroke="#333333" stroke-width="2"/>
<text x="80.6" y="336.2" font-size="23.5" fill="#4D4D4D" font-weight="normal" text-anchor="end" textLength="14.6" lengthAdjust="spacingAndGlyphs">0</text>
<line x1="86.4" x2="94" y1="288.7" y2="288.7" stroke="#333333" stroke-width="2"/>
<text x="80.6" y="297.1" font-size="23.5" fill="#4D4D4D" font-weight="normal" text-anchor="end" textLength="29.2" lengthAdjust="spacingAndGlyphs">50</text>
<line x1="86.4" x2="94" y1="249.6" y2="249.6" stroke="#333333" stroke-width="2"/>
<text x="80.6" y="258" font-size="23.5" fill="#4D4D4D" font-weight="normal" text-anchor="end" textLength="43.8" lengthAdjust="spacingAndGlyphs">100</text>
<line x1="86.4" x2="94" y1="210.5" y2="210.5" stroke="#333333" stroke-width="2"/>
<text x="80.6" y="218.9" font-size="23.5" fill="#4D4D4D" font-weight="normal" text-anchor="end" textLength="43.8" lengthAdjust="spacingAndGlyphs">150</text>
<line x1="86.4" x2="94" y1="171.4" y2="171.4" stroke="#333333" stroke-width="2"/>
<text x="80.6" y="179.8" font-size="23.5" fill="#4D4D4D" font-weight="normal" text-anchor="end" textLength="43.8" lengthAdjust="spacingAndGlyphs">200</text>
<line x1="86.4" x2="94" y1="132.3" y2="132.3" stroke="#333333" stroke-width="2"/>
<text x="80.6" y="140.7" font-size="23.5" fill="#4D4D4D" font-weight="normal" text-anchor="end" textLength="43.8" lengthAdjust="spacingAndGlyphs">250</text>
<text transform="translate(23.5 229.4) rotate(-90)" font-size="28" fill="#000" text-anchor="middle" textLength="127" lengthAdjust="spacingAndGlyphs">-log10(P)</text>
<clipPath id="c1"><rect x="94" y="418.4" width="1351.8" height="284.8"/></clipPath>
<g clip-path="url(#c1)">
<path d="M333.3 645.3h0M618 643.2h0M617.9 645.3h0M617.1 647.3h0M617.1 649.4h0M700.6 587.8h0M700.5 589.9h0M700.5 592h0M700.1 594h0M700.4 596.1h0M700.4 598.2h0M700.3 616.3h0M700.3 634.7h0M700.4 644.2h0M700 646.8h0M869.1 651.2h0M910.5 642.7h0M910.5 644.7h0M910.8 646.6h0M911.1 648.5h0M911 650.5h0M919.8 617.2h0M919.7 619.3h0M919.6 621.4h0M919.3 623.4h0M919.3 625.5h0M919.8 627.6h0M919.6 629.7h0M919.7 631.7h0M920.2 633.8h0M919.8 635.9h0M919.9 638h0M919.5 640h0M919.3 642.1h0M919.6 644.2h0M968 645.8h0M968.4 647.4h0M968.9 648.9h0M1219.8 430.8h0M1219.8 525.3h0M1220 558.2h0M1219.5 560.3h0M1220.2 562.3h0M1220.1 564.3h0M1220 566.4h0M1220.2 568.4h0M1220.1 570.4h0M1220.1 572.5h0M1219.7 574.5h0M1220.3 576.5h0M1220.3 578.6h0M1219.5 580.6h0M1220.1 582.6h0M1220 584.6h0M1219.8 586.7h0M1219.8 588.7h0M1219.8 590.7h0M1220.2 592.8h0M1219.8 594.8h0M1220.1 596.8h0M1219.7 598.9h0M1220.2 600.9h0M1220.2 602.9h0M1219.8 605h0M1219.9 607h0M1220.2 609h0M1220 611.1h0M1219.8 635.9h0M1219.5 637.7h0M1219.6 639.4h0M1219.8 649h0M1256.5 553.3h0M1256 555.3h0M1256.7 557.4h0M1256.1 559.4h0M1256.7 561.4h0M1256.1 563.4h0M1256.8 565.4h0M1256.5 567.4h0M1256.3 569.4h0M1256.3 571.4h0M1256.5 573.4h0M1256.4 575.5h0M1256.1 577.5h0M1256 579.5h0M1256.3 581.5h0M1256.7 583.5h0M1256.4 585.5h0M1255.9 587.5h0M1256.6 589.5h0M1256.5 591.5h0M1256.7 593.6h0M1256 595.6h0M1256.5 597.6h0M1255.9 599.6h0M1256.5 601.6h0M1256.1 603.6h0M1256 605.6h0M1256.7 607.6h0M1255.9 609.7h0M1256.3 611.7h0M1256.7 613.7h0M1256 615.7h0M1256 617.7h0M1256.7 619.7h0M1256.2 621.7h0M1256.5 623.7h0M1255.8 625.7h0M1256.2 627.8h0M1256 629.8h0M1256.5 631.8h0M1255.9 633.8h0M1256.8 635.8h0M1255.8 637.8h0M1256.5 639.8h0M1255.8 641.8h0M1256.1 643.8h0M1256.6 645.9h0M1256 647.9h0" stroke="#FE1E10" stroke-width="6.8" stroke-linecap="round" fill="none"/>
<path d="M155 683.2V691M156.2 683.3V691M157.4 683.4V691M158.6 683.3V691M159.8 682.9V691M161.1 682.8V691M162.3 682.4V691M163.5 681.5V691M164.7 680.9V691M165.9 680V691M167.1 679.4V691M168.4 678.7V691M169.6 678.1V691M170.8 678.1V691M172 668.4V691M173.2 678.5V691M174.4 679.6V691M175.7 680.8V691M176.9 681.1V691M178.1 681.8V691M179.3 680.8V691M180.5 679.5V691M181.7 678.7V691M183 678.6V691M184.2 679.6V691M185.4 680.4V691M186.6 681.5V691M187.8 682.8V691M189 682.5V691M190.3 682.2V691M191.5 682V691M192.7 681.8V691M193.9 681.7V691M195.1 681.6V691M196.4 682.1V691M197.6 682V691M198.8 681.3V691M200 679.7V691M201.2 678.5V691M202.4 678V691M203.7 678.1V691M204.9 678.7V691M206.1 680V691M216.5 682.2V691M217.8 681.9V691M219 681.3V691M220.2 679.9V691M221.4 678.7V691M222.6 678.3V691M223.8 677.3V691M225 674.8V691M226.2 677V691M227.4 677.5V691M228.6 678.2V691M229.8 679.3V691M231 680.7V691M232.2 681.3V691M233.4 680.4V691M234.6 679.7V691M235.8 679.9V691M237 679.3V691M238.2 679.6V691M239.4 680.4V691M240.6 679.2V691M241.8 678.4V691M243 677.8V691M244.2 677.5V691M245.4 677.7V691M246.6 678.3V691M247.8 678.6V691M249 680V691M250.2 681.1V691M251.4 680.5V691M252.6 679.6V691M253.8 679V691M255 679V691M256.2 678.9V691M257.4 679.5V691M258.6 680.8V691M259.8 680.7V691M261 680.7V691" stroke="#E8DEE4" stroke-width="6.8" stroke-linecap="round" fill="none"/>
<path d="M260.8 682.6V691M262 681.6V691M263.2 680.6V691M264.4 679.2V691M265.6 679V691M266.8 679.7V691M268.1 680.6V691M269.3 681.4V691M270.5 682.6V691M271.7 683.2V691M272.9 683.2V691M274.1 682.4V691M275.3 681.6V691M276.5 681.2V691M277.7 681.1V691M278.9 682.1V691M280.1 682.6V691M281.3 682.7V691M282.5 671.5V691M283.7 682.2V691M284.9 681.8V691M286.2 682V691M287.4 682.1V691M288.6 682.4V691M289.8 682.3V691M291 682.9V691M292.2 683.2V691M293.4 683V691M294.6 683.2V691M295.8 683.1V691M297 682.7V691M298.2 681.5V691M299.4 679.7V691M300.6 678.6V691M301.8 673.9V691M303 679.8V691M304.3 681.8V691M305.5 682.6V691M306.7 682.9V691M307.9 683V691M309.1 683.2V691M310.3 682.9V691M311.5 682.5V691M312.7 681.2V691M313.9 679.3V691M315.1 677.3V691M316.3 678.5V691M317.5 680.5V691M318.7 682.1V691M319.9 682.8V691M321.1 683.3V691M322.4 682.8V691M323.6 682.7V691M324.8 682.3V691M326 681.3V691M327.2 679.8V691M328.4 678.5V691M329.6 677.7V691M330.8 677.8V691M332 677.9V691M333.2 678.9V691M334.4 679.9V691M335.6 681.2V691M336.8 680.9V691M338 679.3V691M339.2 677.7V691M340.5 676.8V691M341.7 677.6V691M342.9 678.8V691M344.1 680.6V691M345.3 680.3V691M346.5 678.2V691M347.7 677V691M348.9 676.4V691M350.1 677.1V691M351.3 679.3V691M352.5 681.2V691M353.7 681.6V691M354.9 680.8V691M356.1 679.5V691M357.3 678.4V691M358.6 677.4V691M359.8 676.4V691M361 676.4V691M362.2 677.3V691M363.4 677.9V691M364.6 679.3V691" stroke="#F8EDF3" stroke-width="6.8" stroke-linecap="round" fill="none"/>
<path d="M364.8 683.1V691M366 682.7V691M367.2 682.3V691M368.4 681V691M369.6 680.1V691M370.8 679.5V691M372 678.7V691M373.2 678.2V691M374.4 677.9V691M375.6 678.5V691M376.8 679.2V691M378 679.6V691M379.2 680.9V691M380.5 679.4V691M381.7 678.8V691M382.9 678.1V691M384.1 678.3V691M385.3 679.2V691M386.5 680.1V691M387.7 681.1V691M388.9 681.5V691M390.1 679.9V691M391.3 679V691M392.5 679.2V691M393.7 680.2V691M394.9 681.6V691M396.1 681.7V691M397.3 681.1V691M398.6 680V691M399.8 679.3V691M401 678.5V691M402.2 678V691M403.4 678V691M404.6 679V691M405.8 679.1V691M407 678.8V691M408.2 679V691M409.4 679.6V691M410.6 679.8V691M411.8 679.3V691M413 679.1V691M414.2 680V691M415.4 681.7V691M416.7 682.5V691M417.9 681.8V691M419.1 681.4V691M420.3 680.8V691M421.5 680V691M422.7 678.9V691M423.9 678.2V691M425.1 677.5V691M426.3 677.5V691M427.5 677.9V691M428.7 678.1V691M429.9 679.2V691M431.1 680.1V691M432.3 680.8V691M433.5 681.9V691M434.8 681.3V691M436 680.6V691M437.2 679.6V691M438.4 678.5V691M439.6 678V691M440.8 677.3V691M442 677.6V691M443.2 678.2V691M444.4 679.4V691M445.6 680V691M446.8 671V691M448 680.4V691M449.2 681.1V691" stroke="#E8DEE4" stroke-width="6.8" stroke-linecap="round" fill="none"/>
<path d="M449.5 682.4V691M450.8 681.8V691M452 680.9V691M453.2 680.6V691M454.4 679.9V691M455.6 679.6V691M456.8 679.5V691M458.1 679.6V691M459.3 680.6V691M460.5 680.7V691M461.7 681.7V691M462.9 682.1V691M464.1 682.4V691M465.4 682V691M466.6 681.5V691M467.8 680.9V691M469 681.3V691M470.2 681.3V691M471.4 682V691M472.7 682.5V691M473.9 682.7V691M475.1 682.9V691M476.3 682.7V691M477.5 682.5V691M478.7 682.4V691M480 682.5V691M481.2 683.1V691M482.4 683.3V691M483.6 683V691M484.8 683.4V691M486 682.8V691M487.3 682.4V691M488.5 681.2V691M489.7 679.5V691M490.9 678.3V691M492.1 677.9V691M493.3 679.3V691M494.6 673.7V691M495.8 682.3V691M497 682.7V691M498.2 682.6V691M499.4 682.4V691M500.6 681.4V691M501.9 680.1V691M503.1 679.3V691M504.3 678.7V691M505.5 678.5V691M506.7 679.2V691M507.9 680V691M509.2 681.3V691M510.4 682.3V691M511.6 682.6V691M512.8 682.8V691M514 682.2V691M515.2 682.1V691M516.5 682.1V691M517.7 681.7V691M518.9 682V691M520.1 681.7V691M521.3 680.9V691M522.5 680.3V691M523.8 679.6V691M525 679.5V691M526.2 680.1V691M527.4 680.9V691M528.6 681.7V691M529.8 680.9V691M531.1 679.4V691" stroke="#F8EDF3" stroke-width="6.8" stroke-linecap="round" fill="none"/>
<path d="M531.2 683.3V691M532.4 682.9V691M533.6 682.8V691M534.8 682.6V691M536 681.8V691M537.2 680.9V691M538.4 681.1V691M539.6 675.5V691M540.8 682.3V691M542 682.5V691M543.3 682V691M544.5 679.9V691M545.7 678.3V691M546.9 677V691M548.1 676.6V691M549.3 678.2V691M550.5 680V691M551.7 681.4V691M552.9 682.5V691M554.1 680.8V691M555.3 678.3V691M556.5 677V691M557.7 677V691M558.9 679V691M560.1 680.9V691M561.4 679.8V691M562.6 678.2V691M563.8 676.5V691M565 676.4V691M566.2 676.9V691M567.4 678.6V691M568.6 680.2V691M569.8 681.9V691M571 682.4V691M572.2 682.5V691M573.4 683V691M574.6 683.1V691M575.8 682.6V691M577 682.6V691M578.2 681.8V691M579.5 681V691M580.7 679.9V691M581.9 679.4V691M583.1 678.7V691M584.3 678.7V691M585.5 678.3V691M586.7 678.5V691M587.9 677.7V691M589.1 677.4V691M590.3 678.3V691M591.5 679.7V691M592.7 681.4V691M593.9 682.2V691M595.1 681.9V691M596.3 681.3V691M597.6 680.3V691M598.8 679.5V691M600 679.8V691M601.2 679.7V691M602.4 680.6V691M603.6 681.1V691M604.8 682V691M606 682.8V691M607.2 683.1V691M608.4 683.4V691" stroke="#E8DEE4" stroke-width="6.8" stroke-linecap="round" fill="none"/>
<path d="M608.9 683.3V691M610.2 683.2V691M611.4 682.2V691M612.6 680V691M613.8 677.9V691M615 677.8V691M616.2 679.8V691M617.4 681.9V691M618.7 682.2V691M619.9 681.7V691M621.1 681.5V691M622.3 681.2V691M623.5 681.5V691M624.7 681.5V691M626 682.2V691M627.2 682.4V691M628.4 681.7V691M629.6 680.5V691M630.8 679.3V691M632 680.1V691M633.2 681.5V691M634.5 680.3V691M635.7 678.9V691M636.9 677.6V691M638.1 677.4V691M639.3 677.8V691M640.5 678.8V691M641.8 671.8V691M643 681.7V691M644.2 682.3V691M645.4 681.6V691M646.6 680.9V691M647.8 681V691M649 680.4V691M650.3 680.3V691M651.5 680.8V691M652.7 681.7V691M653.9 681.8V691M655.1 682.1V691M656.3 681.3V691M657.6 679.7V691M658.8 678.5V691M660 677.1V691M661.2 676.3V691M662.4 676.9V691M663.6 678.5V691M664.8 680.4V691M666.1 680.8V691M667.3 680.1V691M668.5 679.6V691M669.7 678.8V691M670.9 678.1V691M672.1 678.3V691M673.4 678.6V691M674.6 679.2V691M675.8 680.6V691M677 681.2V691M678.2 682V691M679.4 681.8V691M680.6 681.7V691M681.9 681.6V691" stroke="#F8EDF3" stroke-width="6.8" stroke-linecap="round" fill="none"/>
<path d="M682 682.7V691M683.3 682.1V691M684.5 681.6V691M685.7 681V691M686.9 680.2V691M688.1 680V691M689.3 679.8V691M690.5 680V691M691.7 680.1V691M693 681.1V691M694.2 681.4V691M695.4 681.7V691M696.6 680.8V691M697.8 679.8V691M699 679.7V691M700.2 680.3V691M701.4 680.8V691M702.7 681.5V691M703.9 680.6V691M705.1 679.8V691M706.3 679.5V691M707.5 680.1V691M708.7 681V691M709.9 680V691M711.1 678.9V691M712.4 678.7V691M713.6 679.5V691M714.8 680V691M716 680.9V691M717.2 680.9V691M718.4 679.4V691M719.6 678.8V691M720.9 679.3V691M722.1 680.5V691M723.3 682V691M724.5 682.6V691M725.7 683.3V691M726.9 683.2V691M728.1 683.1V691M729.3 682.7V691M730.6 681.5V691M731.8 680.5V691M733 679.2V691M734.2 678.7V691M735.4 679.3V691M736.6 680.6V691M737.8 681.7V691M739 681.6V691M740.3 681.3V691M741.5 680V691M742.7 673.9V691M743.9 679.1V691M745.1 678.2V691M746.3 678.3V691M747.5 678.4V691M748.7 679.2V691M750 679.7V691" stroke="#E8DEE4" stroke-width="6.8" stroke-linecap="round" fill="none"/>
<path d="M749.9 678V691M751.1 678.6V691M752.4 679.3V691M753.6 680.4V691M754.8 681.9V691M756 682.5V691M757.2 682.6V691M758.5 682.6V691M759.7 683.2V691M760.9 683.5V691M762.1 683.3V691M763.4 683V691M764.6 682.9V691M765.8 682V691M767 681.7V691M768.3 681.5V691M769.5 681.1V691M770.7 681.6V691M771.9 681.3V691M773.1 680.7V691M774.4 681V691M775.6 681.9V691M776.8 682.7V691M778 682.9V691M779.3 682.9V691M780.5 682V691M781.7 681.4V691M782.9 680.8V691M784.2 680.1V691M785.4 679.7V691M786.6 678.9V691M787.8 679.1V691M789.1 679.9V691M790.3 680.4V691M791.5 681.6V691M792.7 682.4V691M793.9 682.7V691M795.2 681.6V691M796.4 680.1V691M797.6 678.9V691M798.8 678V691M800.1 679.1V691M801.3 680.5V691M802.5 681.3V691M803.7 680.1V691M805 679.1V691M806.2 678.4V691M807.4 677.7V691M808.6 677.5V691M809.8 678.3V691M811.1 679.7V691M812.3 680.7V691" stroke="#F8EDF3" stroke-width="6.8" stroke-linecap="round" fill="none"/>
<path d="M811.5 682.2V691M812.8 682.5V691M814.1 682.5V691M815.3 682.3V691M816.6 682.6V691M817.9 683.2V691M819.1 683.2V691M820.4 683.4V691M821.7 683.2V691M822.9 682.5V691M824.2 681.1V691M825.5 679V691M826.7 677.7V691M828 677.6V691M841.7 683.3V691M843 683.1V691M844.2 682.7V691M845.5 681.9V691M846.7 680.8V691M848 679.4V691M849.2 678.9V691M850.5 678.4V691M851.7 679.4V691M853 678V691M854.2 676.9V691M855.5 677.6V691M856.7 679V691M858 680.1V691M859.2 681.7V691M860.5 682.2V691M861.7 682.6V691M862.9 682.7V691M864.2 682.7V691M865.4 682.7V691M866.7 682.7V691M867.9 683.1V691M869.2 672.6V691M870.4 682.8V691M871.7 683V691" stroke="#E8DEE4" stroke-width="6.8" stroke-linecap="round" fill="none"/>
<path d="M871.3 681.2V691M872.5 681V691M873.7 680.2V691M874.9 680.5V691M876.1 680.5V691M877.3 679.6V691M878.5 679.2V691M879.7 678.3V691M880.9 678.6V691M882.1 679.2V691M883.3 679.6V691M884.5 680.6V691M885.7 679V691M887 677.8V691M888.2 676.8V691M889.4 676.5V691M890.6 676.9V691M891.8 677.9V691M893 679.2V691M894.2 681.1V691M895.4 682V691M896.6 682.6V691M897.8 681.5V691M899 680.2V691M900.2 678.7V691M901.4 677.5V691M902.6 676.7V691M903.8 677.1V691M905 677.9V691M906.2 679.7V691M907.4 681.1V691M908.6 681.9V691M909.8 670.5V691M911 680V691M912.2 679.1V691M913.4 678.6V691M914.7 678.6V691M915.9 679.3V691M917.1 680.7V691M918.3 681.4V691M919.5 681.8V691M920.7 681.7V691M921.9 680.9V691M923.1 679.8V691M924.3 679.1V691M925.5 678.8V691M926.7 678.3V691M927.9 678.5V691M929.1 678.5V691" stroke="#F8EDF3" stroke-width="6.8" stroke-linecap="round" fill="none"/>
<path d="M928.9 678.1V691M930.2 678.6V691M931.4 679.6V691M932.6 680.4V691M933.8 681.4V691M935.1 680.4V691M936.3 679.5V691M937.5 678.5V691M938.7 678V691M940 678.1V691M941.2 678V691M942.4 679V691M943.6 679.7V691M944.9 680.7V691M946.1 681.7V691M947.3 682.3V691M948.5 680.9V691M949.7 680V691M951 679.3V691M952.2 673.6V691M953.4 676.9V691M954.6 676.9V691M955.9 676.9V691M957.1 677.1V691M958.3 678.2V691M959.5 679.4V691M960.8 680.7V691M962 681.9V691M963.2 682V691M964.4 682.6V691M965.7 683V691M966.9 682.3V691M968.1 680.9V691M969.3 679.9V691M970.5 678.9V691M971.8 678.6V691M973 680.1V691M974.2 681.4V691M975.4 681.2V691M976.7 680.1V691M977.9 679.3V691M979.1 678V691M980.3 677.6V691M981.6 677.7V691M982.8 678.6V691M984 679.9V691M985.2 681V691M986.5 681.7V691" stroke="#E8DEE4" stroke-width="6.8" stroke-linecap="round" fill="none"/>
<path d="M986.6 678.9V691M987.8 680.4V691M989 682.4V691M990.2 682.3V691M991.4 681.9V691M992.7 681.1V691M993.9 680V691M995.1 679.2V691M996.3 678.3V691M997.5 677.7V691M998.7 677.9V691M999.9 677.8V691M1001.1 677.7V691M1002.4 676.9V691M1003.6 676.5V691M1004.8 676V691M1006 676.8V691M1007.2 678.3V691M1008.4 679.1V691M1009.6 680.5V691M1010.9 681.5V691M1012.1 682V691M1013.3 681.8V691M1014.5 681.3V691M1015.7 680.7V691M1016.9 679.2V691M1018.1 678.3V691M1019.3 676.8V691M1020.6 676.3V691M1021.8 676.7V691M1023 677.2V691M1024.2 677.5V691M1025.4 676.8V691M1026.6 676.8V691M1027.8 677.3V691M1029.1 677.9V691M1030.3 679.1V691M1031.5 680V691M1032.7 681.1V691M1033.9 682V691M1035.1 681.9V691M1036.3 681.7V691M1037.5 680.6V691M1038.8 679.2V691M1040 677.9V691M1041.2 677.3V691M1042.4 676.9V691M1043.6 677.5V691" stroke="#F8EDF3" stroke-width="6.8" stroke-linecap="round" fill="none"/>
<path d="M1051.5 676.8V691M1052.7 676.7V691M1053.9 677.1V691M1055.1 677.8V691M1056.3 678.8V691M1057.5 679.6V691M1058.7 680.4V691M1059.9 681.6V691M1061.1 682.1V691M1062.3 682.6V691M1063.6 682.3V691M1064.8 681.8V691M1066 681.5V691M1067.2 682.1V691M1068.4 681.3V691M1069.6 680.7V691M1070.8 680V691M1072 680V691M1073.2 679.3V691M1074.4 678.6V691M1075.6 678.4V691M1076.8 678.9V691M1078 679.4V691M1079.2 680.6V691M1080.4 681.9V691M1081.7 682.8V691M1082.9 682.8V691M1084.1 683.2V691M1085.3 683.2V691M1086.5 683V691M1087.7 683.1V691M1088.9 682.9V691M1090.1 682.6V691M1091.3 682.7V691M1092.5 682.8V691" stroke="#E8DEE4" stroke-width="6.8" stroke-linecap="round" fill="none"/>
<path d="M1101.9 682.8V691M1103.1 683.1V691M1104.3 682.5V691M1105.5 681.8V691M1106.7 681.5V691M1107.9 681.1V691M1109.1 680V691M1110.3 679.7V691M1111.5 679.3V691M1112.7 679.1V691M1113.9 679.3V691M1115.1 679.9V691M1116.3 680.3V691M1117.5 681.1V691M1118.7 681.9V691M1119.9 682.3V691M1121.1 682.7V691M1122.3 683.2V691M1123.5 683V691M1124.7 682.8V691M1125.9 682.2V691M1127.1 682.6V691M1128.3 682.2V691M1129.5 682.9V691M1130.7 683.1V691M1131.9 683.3V691M1133.1 683V691M1134.3 683.2V691M1135.5 674.9V691M1136.7 682.9V691M1137.9 682V691M1139.1 680.6V691" stroke="#F8EDF3" stroke-width="6.8" stroke-linecap="round" fill="none"/>
<path d="M1147.4 682.8V691M1148.6 681.5V691M1149.8 680.3V691M1151 679V691M1152.2 678.2V691M1153.5 678.3V691M1154.7 679.6V691M1155.9 681.1V691M1157.1 681.6V691M1158.3 681.6V691M1159.5 681.8V691M1160.7 682.2V691M1162 682.7V691M1163.2 682.3V691M1164.4 682.2V691M1165.6 681.5V691M1166.8 680.5V691M1168 679.8V691M1169.3 679.8V691M1170.5 680.3V691M1171.7 681.2V691M1172.9 681.9V691M1174.1 682.6V691M1175.3 682.7V691M1176.5 683.4V691M1177.8 683.3V691M1179 683.3V691M1180.2 682.9V691M1181.4 681.4V691M1182.6 679.4V691" stroke="#E8DEE4" stroke-width="6.8" stroke-linecap="round" fill="none"/>
<path d="M1181.9 682.1V691M1183.1 682V691M1184.4 682.8V691M1185.6 682.5V691M1186.9 681.8V691M1188.1 680.6V691M1189.4 679.5V691M1190.6 678.1V691M1191.9 677.2V691M1193.1 677.3V691M1194.4 678.2V691M1195.6 679.8V691M1196.9 680.9V691M1201.7 679.8V691M1202.9 678.5V691M1204.2 677.8V691M1205.4 676.7V691M1206.7 676.1V691M1207.9 673V691M1209.1 676.3V691M1210.4 677.3V691M1211.6 678.6V691M1212.9 679.4V691M1214.1 680.6V691M1215.4 681.1V691M1216.6 681.5V691M1217.9 681.5V691M1219.1 681.7V691M1220.3 682.1V691" stroke="#F8EDF3" stroke-width="6.8" stroke-linecap="round" fill="none"/>
<path d="M1222.1 682.3V691M1223.3 681.7V691M1224.5 682.2V691M1225.8 682.3V691M1227 682.4V691M1228.3 681.7V691M1229.5 680.9V691M1230.7 680.3V691M1232 680V691M1233.2 679.4V691M1234.4 680V691M1235.7 680.5V691M1236.9 681.2V691M1238.2 680.5V691M1239.4 680.2V691M1240.6 680.7V691M1241.9 681.4V691M1243.1 682.3V691M1244.4 682.8V691M1245.6 683.1V691M1246.8 682.3V691M1248.1 681.8V691M1249.3 681.5V691M1250.5 681.7V691M1251.8 673.3V691M1253 681.8V691M1254.3 682.2V691M1255.5 682.7V691M1256.7 682.1V691" stroke="#E8DEE4" stroke-width="6.8" stroke-linecap="round" fill="none"/>
<path d="M1256.8 681.6V691M1258 681.8V691M1259.2 681.5V691M1260.5 681.7V691M1261.7 681.9V691M1262.9 682.8V691M1264.2 682.4V691M1265.4 671.4V691M1266.6 681.4V691M1267.9 681.2V691M1269.1 680.3V691M1270.3 679.7V691M1271.6 678.8V691M1272.8 678.6V691M1274 678.4V691M1275.2 678.7V691M1276.5 678.8V691M1277.7 680V691M1278.9 680.6V691M1280.2 681.6V691M1281.4 682.1V691M1282.6 681.7V691M1283.9 681.2V691M1285.1 681V691M1286.3 680.4V691M1287.6 679.8V691M1288.8 679.4V691M1290 679.6V691" stroke="#F8EDF3" stroke-width="6.8" stroke-linecap="round" fill="none"/>
<path d="M1290.1 679.4V691M1291.4 678.1V691M1292.6 677.2V691M1293.9 677.2V691M1295.2 677.2V691M1296.4 677.9V691M1297.7 679.2V691M1298.9 679.4V691M1300.2 679.4V691M1301.4 680.2V691M1302.7 681V691M1304 681.6V691M1305.2 681.8V691M1306.5 681.4V691M1307.7 680.8V691M1309 681.6V691M1310.2 682.4V691M1311.5 682.1V691M1312.8 681.3V691M1314 680.9V691M1315.3 679.4V691" stroke="#E8DEE4" stroke-width="6.8" stroke-linecap="round" fill="none"/>
<path d="M1315.8 683V691M1317 682.8V691M1318.2 682.3V691M1319.4 682V691M1320.7 682.5V691M1321.9 682.3V691M1323.1 682.3V691M1324.3 681.5V691M1325.5 680.4V691M1326.8 679V691M1328 678.2V691M1329.2 677.3V691M1330.4 676.9V691M1331.6 678V691M1332.9 679.1V691M1334.1 680.1V691M1335.3 681.5V691M1336.5 682.2V691M1337.7 681.6V691M1339 680V691M1340.2 678.3V691M1341.4 677.2V691M1342.6 677.6V691" stroke="#F8EDF3" stroke-width="6.8" stroke-linecap="round" fill="none"/>
<path d="M1348.8 682.5V691M1350.1 682V691M1351.4 680.1V691M1352.7 678.7V691M1354 676.9V691M1355.3 676.5V691M1356.5 677V691M1357.8 678.1V691M1359.1 680V691M1360.4 681.4V691M1361.7 682.4V691M1363 682.6V691" stroke="#E8DEE4" stroke-width="6.8" stroke-linecap="round" fill="none"/>
<path d="M1370.2 681.6V691M1371.4 681.5V691M1372.7 681.4V691M1373.9 681V691M1375.2 675.6V691M1376.4 681.2V691M1377.7 680.7V691M1379 680.7V691M1380.2 680.5V691M1381.5 680.5V691M1382.7 680.7V691M1384 681.5V691M1385.2 681.7V691" stroke="#F8EDF3" stroke-width="6.8" stroke-linecap="round" fill="none"/>
<path d="M417 660.4V690M418.5 665.4V690M444 657.4V690M446 665.4V690M700.3 653.7V652M700.3 667.4V690M712 669.4V690M821.5 662.4V690M869.1 661.9V690M968.4 658.4V690M1055 671.4V690M1236.5 658.4V690M1256.3 658.4V690M1297 665.4V690M230 673.4V690M160 673.4V690M1180 665.4V690M1228 667.4V690" stroke="#E8DEE4" stroke-width="6.8" stroke-linecap="round" fill="none"/>
<path d="M333.3 669.4V690M617.5 658.4V690M1205 664.4V690M767.9 669.8V690M910.6 660.4V690M919.8 658.4V690M1006.4 669.8V690M1219.8 658.4V690M1130 671.4V690M265 671.4V690M290 673.4V690M1196 671.4V690" stroke="#F8EDF3" stroke-width="6.8" stroke-linecap="round" fill="none"/>
</g>
<rect x="94" y="418.4" width="1351.8" height="284.8" fill="none" stroke="#333333" stroke-width="1.5"/>
<line x1="86.4" x2="94" y1="697.7" y2="697.7" stroke="#333333" stroke-width="2"/>
<text x="80.6" y="706.1" font-size="23.5" fill="#4D4D4D" font-weight="normal" text-anchor="end" textLength="14.6" lengthAdjust="spacingAndGlyphs">0</text>
<line x1="86.4" x2="94" y1="646.4" y2="646.4" stroke="#333333" stroke-width="2"/>
<text x="80.6" y="654.8" font-size="23.5" fill="#4D4D4D" font-weight="normal" text-anchor="end" textLength="29.2" lengthAdjust="spacingAndGlyphs">10</text>
<line x1="86.4" x2="94" y1="595.1" y2="595.1" stroke="#333333" stroke-width="2"/>
<text x="80.6" y="603.5" font-size="23.5" fill="#4D4D4D" font-weight="normal" text-anchor="end" textLength="29.2" lengthAdjust="spacingAndGlyphs">20</text>
<line x1="86.4" x2="94" y1="543.8" y2="543.8" stroke="#333333" stroke-width="2"/>
<text x="80.6" y="552.2" font-size="23.5" fill="#4D4D4D" font-weight="normal" text-anchor="end" textLength="29.2" lengthAdjust="spacingAndGlyphs">30</text>
<line x1="86.4" x2="94" y1="492.5" y2="492.5" stroke="#333333" stroke-width="2"/>
<text x="80.6" y="500.9" font-size="23.5" fill="#4D4D4D" font-weight="normal" text-anchor="end" textLength="29.2" lengthAdjust="spacingAndGlyphs">40</text>
<line x1="86.4" x2="94" y1="441.2" y2="441.2" stroke="#333333" stroke-width="2"/>
<text x="80.6" y="449.6" font-size="23.5" fill="#4D4D4D" font-weight="normal" text-anchor="end" textLength="29.2" lengthAdjust="spacingAndGlyphs">50</text>
<text transform="translate(23.5 560.8) rotate(-90)" font-size="28" fill="#000" text-anchor="middle" textLength="127" lengthAdjust="spacingAndGlyphs">-log10(P)</text>
<clipPath id="c2"><rect x="94" y="786.1" width="1351.8" height="284.4"/></clipPath>
<g clip-path="url(#c2)">
<path d="M155.9 996.2h0M155.6 1013.9h0M155.9 1015.8h0M155.8 1017.6h0M156 1019.5h0M156 1021.4h0M155.5 1023.2h0M155.4 1025.1h0M156.2 1035.6h0M155.7 1037.7h0M155.6 1039.7h0M156.4 1041.8h0M155.9 1043.8h0M156.2 1045.9h0M155.9 1047.9h0M156 1050h0M155.6 1052h0M164.8 1050h0M173.2 1040.8h0M173.5 1042.7h0M173.1 1044.6h0M173.3 1046.4h0M173.3 1048.3h0M172.7 1050.1h0M173.4 1052h0M176.3 1040.8h0M176 1042.7h0M175.7 1044.6h0M176.6 1046.4h0M176.2 1048.3h0M176.4 1050.1h0M176.6 1052h0M187.8 1048.1h0M188 1050.1h0M187.5 1052h0M193.8 1050.5h0M204.9 1037.7h0M204.5 1039.8h0M205 1041.8h0M205 1043.8h0M204.2 1045.9h0M204.2 1047.9h0M204.3 1050h0M205.1 1052h0M218.1 1038.7h0M218.3 1040.6h0M218 1042.5h0M218.2 1044.4h0M218.1 1046.3h0M218.1 1048.2h0M218.3 1050.1h0M218.3 1052h0M222.8 801.8h0M222.6 803.9h0M222.8 805.9h0M222.8 808h0M222.9 810h0M222.6 812h0M222.1 814.1h0M222.8 816.1h0M222.9 818.2h0M222.8 836h0M222.5 838.5h0M222.6 840.9h0M222.1 869.1h0M222.7 871.5h0M222.5 874h0M222.4 894.8h0M222.4 922.8h0M222.4 951.7h0M222.2 984.9h0M222 986.9h0M222.8 988.9h0M222.9 990.8h0M222 992.8h0M222.7 994.8h0M222.3 996.8h0M222.1 998.7h0M222.2 1000.7h0M222.7 1002.7h0M222.8 1004.7h0M221.9 1006.6h0M222.5 1008.6h0M221.9 1010.6h0M222.6 1012.5h0M222.2 1014.5h0M222.8 1016.5h0M222.9 1018.5h0M222.4 1020.4h0M222.9 1022.4h0M222.2 1024.4h0M222 1026.4h0M222.5 1028.3h0M221.9 1030.3h0M222.1 1032.3h0M222.3 1034.2h0M222.5 1036.2h0M222.1 1038.2h0M221.9 1040.2h0M222.8 1042.1h0M222.2 1044.1h0M222.9 1046.1h0M222.8 1048.1h0M222.3 1050h0M222.4 1052h0M228 1048.2h0M228.1 1050.1h0M228.1 1052h0M246.1 1005.6h0M246.1 1008.5h0M246 1036.6h0M246.4 1045h0M246 1047.4h0M245.9 1049.7h0M246.2 1052h0M252.8 1050h0M260.3 1028.4h0M260.4 1030.4h0M261.1 1032.4h0M260.6 1034.3h0M260.6 1036.3h0M260.1 1038.3h0M260.5 1040.2h0M260.7 1042.2h0M260.1 1044.1h0M260.7 1046.1h0M260.7 1048.1h0M260.2 1050h0M260.7 1052h0M271.4 996.3h0M271.6 998.8h0M271.3 1001.3h0M271.6 1014.9h0M271.6 1016.9h0M270.9 1018.8h0M271 1020.8h0M271.6 1022.7h0M271.9 1024.7h0M271.2 1026.6h0M271.4 1028.6h0M271.5 1030.5h0M271.2 1032.5h0M271.3 1034.4h0M271.2 1036.4h0M271.3 1038.3h0M271.5 1040.3h0M271.2 1042.2h0M271.3 1044.2h0M271.7 1046.1h0M270.9 1048.1h0M271.5 1050h0M271.6 1052h0M279.5 976.7h0M279.4 978.7h0M280 980.7h0M279.4 982.7h0M279.4 984.7h0M279.6 986.6h0M279.9 988.6h0M279.3 990.6h0M279.5 992.6h0M279.5 994.6h0M280 996.5h0M279.6 998.5h0M280.1 1000.5h0M279.4 1002.5h0M279.5 1004.5h0M279.9 1006.4h0M280.1 1008.4h0M279.7 1010.4h0M279.4 1012.4h0M279.3 1014.4h0M279.7 1016.3h0M279.4 1018.3h0M280 1020.3h0M280 1022.3h0M279.4 1024.3h0M279.5 1026.2h0M280 1028.2h0M279.8 1030.2h0M280 1032.2h0M279.5 1034.2h0M279.3 1036.2h0M279.5 1038.1h0M280 1040.1h0M279.5 1042.1h0M279.5 1044.1h0M279.6 1046.1h0M279.6 1048h0M279.6 1050h0M280.1 1052h0M286.6 1042.9h0M286.4 1044.7h0M287.3 1046.6h0M287.3 1048.4h0M287.4 1050.2h0M286.8 1052h0M290 1050h0M302.4 1051h0M308.6 1049.5h0M333.5 786.2h0M333.5 848.3h0M333.5 859.7h0M333.5 872.1h0M333.5 880.4h0M333.5 916.6h0M333.5 930h0M333.5 944h0M333.5 961h0M333.5 972.4h0M334 991.2h0M333.9 993h0M333.2 1005.6h0M333.7 1007.6h0M333.8 1009.7h0M333.7 1011.7h0M333.5 1013.7h0M333.3 1015.7h0M333.3 1017.7h0M333.2 1019.7h0M333.1 1021.8h0M333.6 1023.8h0M333.3 1025.8h0M333.8 1027.8h0M333 1029.8h0M333.9 1031.8h0M333.7 1033.9h0M333.9 1035.9h0M333.9 1037.9h0M333.9 1039.9h0M333.6 1041.9h0M333 1043.9h0M333.7 1046h0M333.2 1048h0M333.3 1050h0M333.7 1052h0M336.5 993.2h0M336.4 995h0M336.9 996.8h0M336.6 1033.2h0M336.3 1035.3h0M336.3 1037.4h0M336.9 1039.5h0M336.5 1041.6h0M336.8 1043.7h0M336.4 1045.7h0M336.2 1047.8h0M336.5 1049.9h0M336.8 1052h0M346.9 1050.5h0M357.4 1041.9h0M358 1043.9h0M358.1 1046h0M358 1048h0M358 1050h0M357.2 1052h0M369.8 980.8h0M370.1 983.7h0M369.2 996.3h0M369.5 998.3h0M369.5 1000.3h0M369.7 1002.3h0M369.6 1004.3h0M369.7 1006.3h0M370 1008.3h0M369.2 1010.2h0M369.3 1012.2h0M369.3 1014.2h0M369.3 1016.2h0M369.3 1018.2h0M370.2 1020.2h0M370.1 1022.2h0M369.3 1024.2h0M369.7 1026.2h0M369.5 1028.1h0M369.5 1030.1h0M369.6 1032.1h0M369.8 1034.1h0M369.8 1036.1h0M369.6 1038.1h0M369.4 1040.1h0M369.5 1042.1h0M369.3 1044h0M369.8 1046h0M369.9 1048h0M369.6 1050h0M369.3 1052h0M374.5 1048.2h0M374.7 1050.1h0M374.9 1052h0M385.8 1014.8h0M386.1 1024.2h0M385.7 1026.2h0M386.1 1028.2h0M385.9 1030.2h0M385.7 1032.2h0M385.7 1034.1h0M385.8 1036.1h0M386 1038.1h0M385.7 1040.1h0M386 1042.1h0M385.8 1044.1h0M385.5 1046h0M385.8 1048h0M386 1050h0M385.4 1052h0M391.4 1049h0M396.6 1050.5h0M417.2 976.7h0M417.2 979h0M417.7 981.4h0M417.7 983.7h0M417.3 997.3h0M417.3 1011.2h0M417.3 1018h0M417.2 1039.8h0M417.7 1041.9h0M417.6 1043.9h0M417.1 1045.9h0M417.3 1047.9h0M416.9 1050h0M417.6 1052h0M423.2 1043.9h0M423.4 1045.9h0M423.3 1048h0M423.2 1050h0M423.2 1052h0M427.1 1043.9h0M426.6 1045.9h0M427.1 1048h0M426.5 1050h0M426.6 1052h0M432 1043.9h0M431.2 1045.9h0M431.3 1048h0M431.3 1050h0M432.1 1052h0M437.3 992h0M437 1005.6h0M436.8 1007.6h0M437.6 1009.7h0M436.9 1011.7h0M437.6 1013.7h0M437.5 1015.7h0M437.6 1017.7h0M437.8 1019.7h0M437.4 1021.8h0M437.6 1023.8h0M436.8 1025.8h0M437.6 1027.8h0M437.3 1029.8h0M437.5 1031.8h0M436.9 1033.9h0M437.5 1035.9h0M437.7 1037.9h0M436.9 1039.9h0M437.1 1041.9h0M437.4 1043.9h0M437.6 1046h0M437 1048h0M437 1050h0M437 1052h0M444.9 1030.4h0M445 1039.8h0M445.2 1041.9h0M444.8 1043.9h0M444.8 1045.9h0M444.8 1047.9h0M444.8 1050h0M444.8 1052h0M449.6 1042.9h0M450 1044.7h0M450.5 1046.6h0M449.9 1048.4h0M450.2 1050.2h0M449.7 1052h0M457.1 1042.9h0M457.2 1044.7h0M457.1 1046.6h0M456.9 1048.4h0M456.9 1050.2h0M457 1052h0M471.4 1050h0M488.3 1043.9h0M487.5 1045.9h0M487.5 1048h0M488.1 1050h0M488.3 1052h0M496.2 1042.9h0M496.1 1044.7h0M496.4 1046.6h0M495.9 1048.4h0M496 1050.2h0M495.9 1052h0M511.4 954.9h0M511.1 957h0M511 959h0M511.5 961h0M511.8 963.1h0M511.1 965.1h0M511.5 967.2h0M511.3 976.6h0M511.3 990h0M511.3 1010.7h0M511.2 1029.4h0M511.7 1031.3h0M511.4 1046h0M511.1 1048h0M511 1050h0M510.8 1052h0M516.9 1049.5h0M528.9 1033h0M528.9 1048.1h0M528.8 1050.1h0M528.6 1052h0M537.1 1036.7h0M537 1038.6h0M537.5 1040.5h0M536.8 1042.5h0M537.7 1044.4h0M537.2 1046.3h0M537.3 1048.2h0M537.2 1050.1h0M537.5 1052h0M564.1 1032h0M564.4 1041.8h0M564.2 1043.9h0M564.1 1045.9h0M564.3 1047.9h0M564.5 1050h0M564 1052h0M572.4 1049.5h0M587.7 1049.5h0M598.8 1040.8h0M599.1 1042.7h0M598.6 1044.6h0M598.3 1046.4h0M598.3 1048.3h0M598.8 1050.1h0M598.8 1052h0M608.5 1033.2h0M608.4 1035.3h0M607.7 1037.4h0M607.7 1039.5h0M607.8 1041.6h0M607.7 1043.7h0M608.2 1045.7h0M608.4 1047.8h0M608.4 1049.9h0M607.8 1052h0M612.5 1029.4h0M611.9 1031.5h0M612 1033.5h0M612.3 1035.6h0M611.7 1037.6h0M611.7 1039.7h0M612.4 1041.7h0M611.9 1043.8h0M612 1045.8h0M612.2 1047.9h0M612.3 1049.9h0M611.6 1052h0M615.8 1003.2h0M615.9 1005.3h0M616 1007.3h0M615.7 1009.3h0M616.1 1011.4h0M616.5 1013.4h0M615.9 1015.4h0M616 1017.5h0M615.6 1019.5h0M615.8 1021.5h0M616.2 1023.6h0M615.6 1025.6h0M616.4 1027.6h0M616.4 1029.6h0M615.6 1031.7h0M616.4 1033.7h0M615.9 1035.7h0M616.3 1037.8h0M616.3 1039.8h0M615.8 1041.8h0M616.2 1043.9h0M616.2 1045.9h0M616.3 1047.9h0M615.8 1050h0M616.3 1052h0M619.7 855.5h0M619.7 864.8h0M620.2 876.3h0M619.9 878.2h0M619.7 890.8h0M619.3 892.8h0M619.7 894.8h0M619.6 896.8h0M619.9 898.8h0M619.9 900.8h0M619.8 902.8h0M619.4 904.8h0M619.8 906.8h0M619.8 908.8h0M619.4 910.8h0M620.1 912.8h0M619.9 914.8h0M619.3 916.8h0M620.1 918.8h0M619.3 920.8h0M619.5 922.8h0M619.9 924.8h0M619.8 926.8h0M619.8 928.8h0M619.8 930.8h0M619.7 932.8h0M619.5 934.8h0M619.4 936.8h0M619.3 938.8h0M619.9 940.8h0M620 942.8h0M619.7 944.8h0M619.9 946.8h0M619.6 948.8h0M619.5 950.8h0M619.6 952.8h0M620.1 954.8h0M619.2 956.8h0M619.7 969.4h0M619.4 971.4h0M620 973.5h0M619.6 975.5h0M619.5 977.5h0M619.6 979.5h0M619.7 981.5h0M620 983.5h0M619.6 985.5h0M620 987.6h0M619.3 989.6h0M619.5 991.6h0M619.3 993.6h0M619.3 995.6h0M620 997.6h0M619.9 999.6h0M619.4 1001.7h0M619.4 1003.7h0M619.6 1005.7h0M619.9 1007.7h0M620 1009.7h0M619.9 1011.7h0M619.8 1013.7h0M619.3 1015.7h0M619.6 1017.8h0M619.4 1019.8h0M619.7 1021.8h0M619.8 1023.8h0M619.4 1025.8h0M619.5 1027.8h0M620 1029.8h0M619.2 1031.9h0M620 1033.9h0M620.1 1035.9h0M620.1 1037.9h0M619.6 1039.9h0M619.8 1041.9h0M619.8 1043.9h0M619.8 1046h0M620.2 1048h0M619.9 1050h0M619.5 1052h0M623.9 990.2h0M623.5 992.2h0M623.6 994.2h0M623.7 996.2h0M623 998.2h0M623.8 1000.2h0M623.7 1002.2h0M623.5 1004.2h0M623.5 1006.2h0M623.5 1008.2h0M623.2 1010.2h0M623.5 1012.1h0M623 1014.1h0M623.5 1016.1h0M623.6 1018.1h0M623.4 1020.1h0M623.6 1022.1h0M624 1024.1h0M623.9 1026.1h0M623.1 1028.1h0M623.8 1030.1h0M623.6 1032.1h0M623.1 1034.1h0M623.4 1036.1h0M623.2 1038.1h0M623.1 1040h0M623.5 1042h0M623.9 1044h0M623.3 1046h0M623.9 1048h0M623.7 1050h0M623.1 1052h0M627.4 1033.2h0M627.1 1035.3h0M627.4 1037.4h0M627.2 1039.5h0M627.2 1041.6h0M626.8 1043.7h0M627.3 1045.7h0M627.4 1047.8h0M627.4 1049.9h0M626.9 1052h0M630.3 1038.2h0M630 1040.2h0M629.6 1042.2h0M629.5 1044.1h0M629.6 1046.1h0M629.7 1048.1h0M629.7 1050h0M630 1052h0M655.7 1033.6h0M655.5 1035.7h0M655.4 1037.7h0M655.6 1039.8h0M655.3 1041.8h0M655.5 1043.8h0M655.8 1045.9h0M655.4 1047.9h0M655.2 1050h0M655.9 1052h0M663 1043.9h0M662.7 1045.9h0M662.7 1048h0M662.8 1050h0M662.9 1052h0M666.5 999.3h0M666.2 1006.7h0M666 1008.7h0M666.2 1010.8h0M666.8 1012.8h0M666.1 1014.8h0M666.5 1029.4h0M666.2 1031.5h0M666.2 1033.5h0M666.2 1035.6h0M666.4 1037.6h0M666.2 1039.7h0M666 1041.7h0M666.1 1043.8h0M666.2 1045.8h0M666.5 1047.9h0M666.1 1049.9h0M666 1052h0M677.3 1049.5h0M688.1 1023.2h0M688.1 1025.1h0M688.4 1036.7h0M687.8 1038.6h0M688.1 1040.5h0M688.1 1042.5h0M687.7 1044.4h0M688.7 1046.3h0M687.9 1048.2h0M687.8 1050.1h0M688.2 1052h0M693.5 1035.6h0M693.9 1037.7h0M693.6 1039.7h0M693.4 1041.8h0M693.4 1043.8h0M694 1045.9h0M693.6 1047.9h0M694.1 1050h0M693.8 1052h0M700.6 885h0M700.6 894.8h0M700.6 905.2h0M700.6 916.6h0M700.6 975.5h0M701 1010.8h0M700.4 1012.8h0M700.3 1014.8h0M700.4 1016.7h0M700.9 1018.7h0M700.7 1020.6h0M700.4 1022.6h0M700.2 1024.6h0M700.8 1026.5h0M701.1 1028.5h0M700.7 1030.4h0M700.1 1032.4h0M700.1 1034.4h0M700.2 1036.3h0M700.3 1038.3h0M700.1 1040.2h0M700.2 1042.2h0M700.8 1044.2h0M701 1046.1h0M700.3 1048.1h0M701.1 1050h0M700.6 1052h0M711.7 1048.1h0M711.8 1050.1h0M711.8 1052h0M715.5 1048.2h0M715.8 1050.1h0M716.1 1052h0M720.4 1046.2h0M719.6 1048.2h0M719.8 1050.1h0M720.3 1052h0M724.4 1043.9h0M724.7 1045.9h0M724.6 1048h0M725 1050h0M725.2 1052h0M734.5 1024.7h0M734.2 1038.7h0M734.7 1040.6h0M734.7 1042.5h0M734.8 1044.4h0M734.6 1046.3h0M734.9 1048.2h0M734.4 1050.1h0M734.4 1052h0M746.6 1048.1h0M747.2 1050.1h0M746.9 1052h0M753.9 1031.5h0M753.8 1033.6h0M754.3 1035.6h0M754.2 1037.7h0M754.3 1039.7h0M754 1041.8h0M754.1 1043.8h0M753.8 1045.9h0M754.3 1047.9h0M753.6 1050h0M754.1 1052h0M768 905.2h0M768 934.1h0M768 958h0M768 966.2h0M768.3 991.2h0M768.2 993.3h0M767.6 995.3h0M767.7 997.3h0M768.3 999.3h0M768.1 1001.4h0M768.4 1003.4h0M768.4 1005.4h0M767.9 1007.4h0M768.4 1009.5h0M768.2 1011.5h0M767.8 1013.5h0M767.9 1015.5h0M767.6 1017.6h0M767.9 1019.6h0M768.5 1021.6h0M767.6 1023.6h0M768.1 1025.7h0M767.6 1027.7h0M767.6 1029.7h0M768.1 1031.7h0M767.7 1033.8h0M767.5 1035.8h0M767.7 1037.8h0M768.1 1039.8h0M768.1 1041.9h0M767.5 1043.9h0M767.7 1045.9h0M768.5 1047.9h0M767.7 1050h0M768.1 1052h0M774.8 1050.5h0M790.3 1050h0M800.2 914.6h0M800.6 916.5h0M800.3 948.6h0M800.3 1024.2h0M800.4 1033.6h0M800.6 1035.7h0M800.3 1037.7h0M800 1039.8h0M800 1041.8h0M799.9 1043.8h0M800.6 1045.9h0M799.9 1047.9h0M799.8 1050h0M800.8 1052h0M803.5 1034.6h0M804.2 1036.6h0M803.4 1038.5h0M803.8 1040.4h0M803.5 1042.4h0M804.1 1044.3h0M803.9 1046.2h0M803.9 1048.1h0M804.1 1050.1h0M804.2 1052h0M812.9 1043.9h0M813.2 1045.9h0M813 1048h0M812.7 1050h0M813.4 1052h0M821.5 1010.8h0M821.7 1012.7h0M821.1 1023.2h0M821.4 1025.3h0M821.4 1027.3h0M821.6 1029.4h0M821 1031.5h0M821.2 1033.5h0M821.4 1035.6h0M821 1037.6h0M821.5 1039.7h0M821.6 1041.7h0M821.3 1043.8h0M821.5 1045.8h0M821.5 1047.9h0M821.1 1049.9h0M821.3 1052h0M845.7 1028.4h0M845 1030.4h0M845.1 1032.4h0M844.8 1034.3h0M844.9 1036.3h0M844.9 1038.3h0M845.6 1040.2h0M845.4 1042.2h0M845.6 1044.1h0M845.7 1046.1h0M845.3 1048.1h0M845.6 1050h0M845.2 1052h0M849.9 960h0M849.8 970.5h0M850.3 972.6h0M850.3 974.6h0M850.3 976.7h0M849.9 978.7h0M850.2 980.8h0M849.8 982.8h0M850.4 984.9h0M850.3 986.9h0M849.7 989h0M850.3 991h0M849.6 993.1h0M849.5 995.1h0M850.1 997.2h0M849.7 1033.6h0M849.9 1035.7h0M850 1037.7h0M849.4 1039.8h0M850.1 1041.8h0M849.7 1043.8h0M849.8 1045.9h0M849.7 1047.9h0M850.1 1050h0M850.1 1052h0M858.2 1022.1h0M858 1035.6h0M857.8 1037.7h0M858 1039.7h0M858.1 1041.8h0M857.8 1043.8h0M857.9 1045.9h0M858.5 1047.9h0M858.4 1050h0M858.7 1052h0M869.9 975.6h0M869.8 977.5h0M869.3 1005.6h0M869.1 1007.6h0M869.2 1009.7h0M869.4 1011.7h0M869.4 1013.7h0M869.4 1015.7h0M869.3 1017.7h0M869.8 1019.7h0M869.2 1021.8h0M869.4 1023.8h0M869.8 1025.8h0M869.7 1027.8h0M869.2 1029.8h0M869.1 1031.8h0M869.7 1033.9h0M868.9 1035.9h0M869 1037.9h0M869.4 1039.9h0M869.4 1041.9h0M869.1 1043.9h0M869 1046h0M869.1 1048h0M869.7 1050h0M869.4 1052h0M873.5 1033.2h0M873.3 1035.3h0M873.5 1037.4h0M872.5 1039.5h0M872.7 1041.6h0M872.5 1043.7h0M872.9 1045.7h0M872.8 1047.8h0M872.6 1049.9h0M873 1052h0M876.2 1018h0M876.4 1020h0M876.3 1022h0M876.9 1024h0M876.5 1026h0M876.4 1028h0M876.1 1030h0M876.5 1032h0M876.7 1034h0M876.8 1036h0M877 1038h0M876.9 1040h0M876.3 1042h0M876.2 1044h0M876.9 1046h0M876.9 1048h0M876.6 1050h0M876.9 1052h0M883.5 1049.5h0M892.1 1040.7h0M901 786.2h0M901 888.2h0M901.1 940.5h0M900.8 942.5h0M900.7 944.5h0M900.5 946.5h0M901.1 948.5h0M901.4 950.5h0M901.4 952.5h0M901 954.5h0M901.2 956.5h0M901.4 958.4h0M901.3 960.4h0M901.1 962.4h0M900.9 964.4h0M901 966.4h0M900.7 968.4h0M900.7 970.4h0M901.2 972.4h0M901.5 974.4h0M901 976.4h0M900.9 978.4h0M900.9 980.3h0M901 982.3h0M901.3 984.3h0M901 986.3h0M901.5 988.3h0M900.7 990.3h0M900.8 992.3h0M901 994.3h0M900.9 996.3h0M901.4 998.3h0M901.3 1000.2h0M901.4 1002.2h0M901.1 1004.2h0M900.5 1006.2h0M901.1 1008.2h0M901 1010.2h0M901 1012.2h0M900.8 1014.2h0M901.2 1016.2h0M901.4 1018.2h0M900.6 1020.2h0M901.2 1022.1h0M900.9 1024.1h0M901 1026.1h0M901.4 1028.1h0M901.5 1030.1h0M901.1 1032.1h0M900.7 1034.1h0M901.4 1036.1h0M900.7 1038.1h0M900.9 1040.1h0M901.3 1042h0M900.8 1044h0M900.8 1046h0M901.4 1048h0M901.4 1050h0M900.8 1052h0M911.3 1017h0M911.2 1019.1h0M911 1021.1h0M911.2 1023.2h0M911.9 1025.3h0M911 1027.3h0M911.1 1029.4h0M911.1 1031.4h0M911 1033.5h0M911.4 1035.5h0M911.6 1037.6h0M911.7 1039.7h0M911.5 1041.7h0M911.7 1043.8h0M910.9 1045.8h0M911.2 1047.9h0M911.9 1049.9h0M911 1052h0M919.7 798.6h0M919.5 830.8h0M919.7 832.8h0M919.5 834.8h0M919.7 836.7h0M919.2 838.7h0M919.4 840.6h0M920.2 842.6h0M919.3 844.6h0M920.1 846.5h0M919.4 848.5h0M920.2 850.4h0M919.9 852.4h0M919.8 854.4h0M919.3 856.3h0M919.3 858.3h0M920 860.2h0M919.4 862.2h0M919.4 864.2h0M920 866.1h0M920.1 868.1h0M919.2 870h0M920.2 872h0M919.7 874h0M919.7 965.2h0M919.6 975.6h0M919.3 977.6h0M919.6 979.5h0M920.2 981.5h0M919.5 983.4h0M919.3 985.3h0M919.3 987.3h0M919.3 989.2h0M919.6 991.2h0M920.1 993.1h0M919.3 995.1h0M919.4 1016h0M920.1 1018h0M920.2 1020h0M920.2 1022h0M919.4 1024h0M919.6 1026h0M920.2 1028h0M919.7 1030h0M919.9 1032h0M919.5 1034h0M919.2 1036h0M919.5 1038h0M919.9 1040h0M920 1042h0M919.8 1044h0M919.7 1046h0M919.7 1048h0M919.6 1050h0M919.7 1052h0M929.3 1017h0M928.7 1019.1h0M929.1 1021.1h0M929.4 1023.2h0M929.3 1025.3h0M928.7 1027.3h0M929.5 1029.4h0M929.3 1031.4h0M928.7 1033.5h0M928.8 1035.5h0M928.7 1037.6h0M928.6 1039.7h0M929.5 1041.7h0M928.9 1043.8h0M929.4 1045.8h0M928.6 1047.9h0M928.5 1049.9h0M929.4 1052h0M932.4 1023.2h0M932.6 1025.3h0M932.3 1027.3h0M932.1 1029.4h0M932.4 1031.5h0M931.7 1033.5h0M932.1 1035.6h0M932 1037.6h0M931.7 1039.7h0M932.2 1041.7h0M931.9 1043.8h0M932.1 1045.8h0M932 1047.9h0M931.9 1049.9h0M932 1052h0M936.3 1031.5h0M936.7 1033.6h0M936.6 1035.6h0M936.6 1037.7h0M936.5 1039.7h0M936 1041.8h0M936.7 1043.8h0M936 1045.9h0M935.8 1047.9h0M936.2 1050h0M936.4 1052h0M948.4 1026.3h0M948.7 1028.3h0M948.4 1030.3h0M949.1 1032.3h0M948.6 1034.2h0M948.6 1036.2h0M948.6 1038.2h0M949 1040.2h0M949.1 1042.1h0M948.6 1044.1h0M948.5 1046.1h0M948.7 1048.1h0M948.2 1050h0M948.5 1052h0M955.1 1039.8h0M955.1 1041.9h0M954.4 1043.9h0M955.2 1045.9h0M954.7 1047.9h0M955.3 1050h0M954.7 1052h0M959.7 1016h0M960 1018h0M960.4 1020h0M959.9 1022h0M960.4 1024h0M960.2 1026h0M959.9 1028h0M959.8 1030h0M960 1032h0M959.9 1034h0M959.9 1036h0M960.2 1038h0M960.4 1040h0M960.1 1042h0M959.6 1044h0M959.7 1046h0M959.9 1048h0M960.1 1050h0M959.6 1052h0M967.9 958h0M968.1 960.1h0M968.1 962.1h0M967.8 964.1h0M968.3 966.1h0M968.7 968.1h0M968.3 970.2h0M968.5 972.2h0M968.6 974.2h0M968.6 976.2h0M968.7 978.3h0M968.2 980.3h0M968.5 982.3h0M967.9 984.3h0M968.7 986.4h0M968.2 988.4h0M968.3 990.4h0M968.7 992.4h0M968.1 994.5h0M968 996.5h0M968.6 998.5h0M968.4 1000.5h0M967.9 1002.6h0M967.8 1004.6h0M968.2 1006.6h0M967.8 1008.6h0M968.6 1010.6h0M968 1012.7h0M968.1 1029.4h0M968.2 1031.5h0M968.3 1033.5h0M968.2 1035.6h0M968.4 1037.6h0M968.5 1039.7h0M968.2 1041.7h0M967.9 1043.8h0M968.8 1045.8h0M968.5 1047.9h0M967.9 1049.9h0M968.2 1052h0M971.7 1000.5h0M971.9 1002.5h0M971 1004.5h0M970.9 1006.5h0M971.4 1008.5h0M981 1041.9h0M981.5 1043.9h0M981.4 1046h0M980.9 1048h0M981 1050h0M981.2 1052h0M990 1036.7h0M989.3 1038.6h0M989.5 1040.5h0M989.2 1042.5h0M989.7 1044.4h0M989.1 1046.3h0M990 1048.2h0M989.6 1050.1h0M989.7 1052h0M997.9 1039.8h0M998 1041.9h0M998.3 1043.9h0M998.7 1045.9h0M998.3 1047.9h0M998.1 1050h0M998.8 1052h0M1007.2 885.5h0M1007.2 921.7h0M1007.4 951.8h0M1007.2 953.8h0M1006.9 955.8h0M1007 957.8h0M1007.6 959.8h0M1006.8 961.8h0M1007.2 963.9h0M1007.3 965.9h0M1007.1 967.9h0M1007.5 969.9h0M1007.6 971.9h0M1007.6 973.9h0M1007.4 975.9h0M1006.9 977.9h0M1006.8 979.9h0M1007.1 981.9h0M1007 983.9h0M1006.9 985.9h0M1007.6 987.9h0M1006.9 989.9h0M1007.5 991.9h0M1007.6 993.9h0M1006.8 995.9h0M1007.6 997.9h0M1007.1 999.9h0M1006.9 1001.9h0M1006.9 1003.9h0M1006.7 1005.9h0M1007.2 1007.9h0M1007.1 1009.9h0M1007.6 1011.9h0M1007.5 1013.9h0M1006.8 1015.9h0M1007.1 1017.9h0M1007.1 1019.9h0M1006.9 1021.9h0M1007 1024h0M1007 1026h0M1007.4 1028h0M1007 1030h0M1006.8 1032h0M1006.9 1034h0M1007.1 1036h0M1007.3 1038h0M1006.9 1040h0M1007.4 1042h0M1006.9 1044h0M1007.4 1046h0M1007.3 1048h0M1006.9 1050h0M1007.5 1052h0M1013.7 1041.9h0M1013.8 1043.9h0M1013.9 1046h0M1013.9 1048h0M1013.7 1050h0M1013.4 1052h0M1017.3 1041.9h0M1017.4 1043.9h0M1017 1046h0M1017.1 1048h0M1016.8 1050h0M1017.4 1052h0M1027.6 1050h0M1034.6 1023.2h0M1034.1 1025.2h0M1034.7 1027.2h0M1034.9 1029.3h0M1034.2 1031.3h0M1034.9 1041.9h0M1034.4 1043.9h0M1034.1 1046h0M1034.6 1048h0M1034.2 1050h0M1034.6 1052h0M1038 1043.9h0M1037.5 1045.9h0M1037.9 1048h0M1038.3 1050h0M1037.9 1052h0M1053.5 1050h0M1055.5 1018h0M1055.5 1028.3h0M1055.5 1042.9h0M1055.9 1044.7h0M1055.4 1046.6h0M1055.5 1048.4h0M1055.6 1050.2h0M1055.8 1052h0M1077.6 1046h0M1077.5 1048h0M1078.2 1050h0M1078 1052h0M1091.5 960.1h0M1092.1 960.9h0M1091.7 978.1h0M1092.1 993.2h0M1091.7 995.3h0M1092.2 997.3h0M1092 999.3h0M1091.9 1001.3h0M1091.5 1003.4h0M1091.2 1005.4h0M1091.9 1007.4h0M1091.9 1009.4h0M1091.6 1011.5h0M1091.7 1013.5h0M1091.8 1015.5h0M1091.4 1017.5h0M1091.9 1019.6h0M1091.8 1021.6h0M1091.6 1023.6h0M1091.3 1025.7h0M1091.8 1027.7h0M1091.5 1029.7h0M1091.9 1031.7h0M1091.4 1033.8h0M1091.6 1035.8h0M1091.4 1037.8h0M1091.6 1039.8h0M1091.8 1041.9h0M1091.3 1043.9h0M1091.3 1045.9h0M1091.7 1047.9h0M1091.4 1050h0M1091.7 1052h0M1101.8 1047h0M1101.7 1049.5h0M1102.1 1052h0M1108.9 1037.1h0M1120.5 1032.5h0M1120.5 1034.5h0M1120.1 1036.4h0M1120 1038.4h0M1119.7 1040.3h0M1119.9 1042.3h0M1119.9 1044.2h0M1120.5 1046.2h0M1119.7 1048.1h0M1120.5 1050.1h0M1120.1 1052h0M1124.8 1049.5h0M1130.9 1046h0M1130.8 1048h0M1131.5 1050h0M1130.7 1052h0M1135.3 1041.9h0M1135.2 1043.9h0M1134.9 1046h0M1134.9 1048h0M1135.7 1050h0M1135.5 1052h0M1155.9 1050.5h0M1160.8 1035.6h0M1161 1037.7h0M1160.2 1039.7h0M1160.8 1041.8h0M1160.9 1043.8h0M1160.3 1045.9h0M1160.6 1047.9h0M1161.1 1050h0M1160.4 1052h0M1167.6 1043.9h0M1167 1045.9h0M1167.5 1048h0M1167.1 1050h0M1167.3 1052h0M1171.3 1033.6h0M1171.8 1035.7h0M1171.6 1037.7h0M1171.4 1039.8h0M1171.6 1041.8h0M1171.3 1043.8h0M1171.7 1045.9h0M1171.2 1047.9h0M1171.4 1050h0M1171.5 1052h0M1181.7 1022.1h0M1181.6 1033.6h0M1181.2 1035.7h0M1181.4 1037.7h0M1181.8 1039.8h0M1181.4 1041.8h0M1182 1043.8h0M1181.7 1045.9h0M1182.2 1047.9h0M1182 1050h0M1181.9 1052h0M1186.8 1040.8h0M1186.4 1042.7h0M1187 1044.6h0M1187.1 1046.4h0M1187.3 1048.3h0M1186.6 1050.1h0M1186.6 1052h0M1193.6 1036.7h0M1193.3 1038.6h0M1193.1 1040.5h0M1193.3 1042.5h0M1192.7 1044.4h0M1193.1 1046.3h0M1193.3 1048.2h0M1193.2 1050.1h0M1192.8 1052h0M1205.1 1033.6h0M1205.6 1035.7h0M1205.9 1037.7h0M1205.1 1039.8h0M1205 1041.8h0M1205.1 1043.8h0M1205.8 1045.9h0M1205.4 1047.9h0M1205.5 1050h0M1206 1052h0M1208.1 1038.2h0M1207.8 1040.2h0M1208.2 1042.2h0M1207.5 1044.1h0M1207.8 1046.1h0M1208.2 1048.1h0M1207.7 1050h0M1207.5 1052h0M1210.7 1033.6h0M1210.5 1035.7h0M1211.2 1037.7h0M1210.3 1039.8h0M1211 1041.8h0M1210.6 1043.8h0M1211 1045.9h0M1210.6 1047.9h0M1210.9 1050h0M1210.5 1052h0M1219.7 976.7h0M1220 978.5h0M1220 998.3h0M1220 1010.2h0M1220.3 1031.5h0M1219.8 1033.6h0M1219.7 1035.6h0M1219.9 1037.7h0M1219.6 1039.7h0M1219.8 1041.8h0M1220.1 1043.8h0M1220 1045.9h0M1220.1 1047.9h0M1219.8 1050h0M1219.5 1052h0M1223 1023.2h0M1223.3 1025.3h0M1223.2 1027.3h0M1223.6 1029.4h0M1223.3 1031.5h0M1223.8 1033.5h0M1223.6 1035.6h0M1223.7 1037.6h0M1223.7 1039.7h0M1223.5 1041.7h0M1223.4 1043.8h0M1223.3 1045.8h0M1223.1 1047.9h0M1223.8 1049.9h0M1223.5 1052h0M1226.9 1018h0M1227.7 1020h0M1227.4 1022h0M1227.4 1024h0M1227.2 1026h0M1226.9 1028h0M1227.8 1030h0M1227 1032h0M1227.2 1034h0M1227.8 1036h0M1226.9 1038h0M1227.3 1040h0M1227.3 1042h0M1227 1044h0M1227.7 1046h0M1227.2 1048h0M1226.8 1050h0M1227.3 1052h0M1229.5 1028.2h0M1230.2 1030.2h0M1230.4 1032.2h0M1230.4 1034.2h0M1229.5 1036.2h0M1230.2 1038.1h0M1229.8 1040.1h0M1230 1042.1h0M1229.8 1044.1h0M1229.8 1046.1h0M1229.6 1048h0M1230.1 1050h0M1229.6 1052h0M1234 1031.5h0M1233 1033.6h0M1234 1035.6h0M1233.2 1037.7h0M1233.1 1039.7h0M1233.7 1041.8h0M1233.5 1043.8h0M1233.8 1045.9h0M1233.5 1047.9h0M1233.6 1050h0M1233.1 1052h0M1237.4 1046h0M1237.2 1048h0M1237.7 1050h0M1236.7 1052h0M1245.5 1036.7h0M1246.1 1038.6h0M1246.3 1040.5h0M1245.8 1042.5h0M1246.1 1044.4h0M1246 1046.3h0M1245.8 1048.2h0M1245.9 1050.1h0M1246 1052h0M1251.6 1016h0M1251.9 1018h0M1252.3 1020h0M1251.9 1022h0M1252.1 1024h0M1251.9 1026h0M1252 1028h0M1252.3 1030h0M1252.3 1032h0M1252.6 1034h0M1252.1 1036h0M1251.8 1038h0M1251.9 1040h0M1251.7 1042h0M1251.8 1044h0M1252.2 1046h0M1252.2 1048h0M1251.8 1050h0M1251.8 1052h0M1255.8 860.7h0M1255.8 874.5h0M1255.4 885.6h0M1255.5 888.5h0M1255.8 899h0M1255.8 919.8h0M1255.6 921.8h0M1256.2 923.8h0M1255.9 925.8h0M1255.6 927.8h0M1255.7 929.8h0M1255.3 931.8h0M1256 933.8h0M1256.1 935.9h0M1255.7 937.9h0M1256 939.9h0M1255.6 941.9h0M1255.5 943.9h0M1255.5 945.9h0M1255.5 947.9h0M1255.9 949.9h0M1255.9 951.9h0M1256 953.9h0M1255.4 955.9h0M1256.1 957.9h0M1255.8 959.9h0M1255.7 961.9h0M1255.8 963.9h0M1255.7 965.9h0M1255.5 967.9h0M1255.7 969.9h0M1255.9 971.9h0M1256 973.9h0M1256.2 975.9h0M1255.5 977.9h0M1256.2 979.9h0M1256.1 981.9h0M1256 983.9h0M1256.3 985.9h0M1255.4 987.9h0M1256.1 989.9h0M1256.2 991.9h0M1255.4 993.9h0M1255.9 995.9h0M1256.2 997.9h0M1255.6 999.9h0M1256.2 1001.9h0M1256.2 1003.9h0M1255.7 1005.9h0M1255.4 1007.9h0M1255.5 1009.9h0M1256.1 1011.9h0M1255.7 1014h0M1255.6 1016h0M1255.7 1018h0M1256.2 1020h0M1255.6 1022h0M1255.3 1024h0M1256.2 1026h0M1255.6 1028h0M1255.7 1030h0M1256.3 1032h0M1255.6 1034h0M1255.4 1036h0M1256.2 1038h0M1255.5 1040h0M1255.5 1042h0M1256.2 1044h0M1255.5 1046h0M1256.2 1048h0M1255.6 1050h0M1255.6 1052h0M1265.5 1050.5h0M1275.9 1034h0M1275.6 1048.1h0M1275.9 1050.1h0M1276 1052h0M1289.3 1049h0M1298 951h0M1298 998.3h0M1298 1021.1h0M1297.9 1036.8h0M1298 1038.7h0M1297.8 1040.6h0M1298.3 1042.5h0M1298.4 1044.4h0M1298.3 1046.3h0M1298.3 1048.2h0M1297.6 1050.1h0M1297.8 1052h0M1300.7 1043.2h0M1300.7 1045.4h0M1301.5 1047.6h0M1301.4 1049.8h0M1301.4 1052h0M1304.6 1022.3h0M1304.7 1037.2h0M1304.2 1039.3h0M1304.5 1041.5h0M1304.2 1043.6h0M1305 1045.7h0M1304.4 1047.8h0M1304.4 1049.9h0M1305 1052h0M1307.7 1033.2h0M1308.4 1035.3h0M1307.8 1037.4h0M1308.2 1039.5h0M1307.6 1041.6h0M1308.4 1043.7h0M1307.9 1045.7h0M1307.8 1047.8h0M1308.2 1049.9h0M1308.1 1052h0M1312.2 1027.6h0M1312 1029.7h0M1312.5 1031.7h0M1311.9 1033.7h0M1312.8 1035.8h0M1312.2 1037.8h0M1312.1 1039.8h0M1312.2 1041.8h0M1312 1043.9h0M1312.2 1045.9h0M1312.4 1047.9h0M1312.3 1050h0M1312.2 1052h0M1318.9 1045.1h0M1319.1 1047.4h0M1319.4 1049.7h0M1319 1052h0M1329.9 1049.5h0M1336 1040.9h0M1335.7 1042.8h0M1335.3 1044.6h0M1335.4 1046.5h0M1336 1048.3h0M1335.7 1050.2h0M1335.6 1052h0M1340.2 1020.3h0M1340.2 1031.1h0M1340.2 1040.1h0M1340.5 1042.1h0M1340.1 1044.1h0M1340.1 1046.1h0M1340.1 1048h0M1339.7 1050h0M1340.2 1052h0M1342.8 1049h0M1358.1 1044.3h0M1362.3 1045.1h0M1362.3 1047.4h0M1362.3 1049.7h0M1362.3 1052h0M1371.4 1049.8h0M1376.2 1037.2h0M1375.7 1039.3h0M1376.5 1041.5h0M1375.6 1043.6h0M1376.4 1045.7h0M1375.7 1047.8h0M1376.3 1049.9h0M1375.8 1052h0M1379.2 872.7h0M1379.2 896h0M1378.8 980.3h0M1379.2 982.3h0M1379.5 984.3h0M1379.5 986.3h0M1379.6 988.3h0M1379.7 990.3h0M1378.8 992.3h0M1379.1 994.3h0M1378.8 996.3h0M1379.5 998.2h0M1379.2 1000.2h0M1379.4 1002.2h0M1379.5 1004.2h0M1379.7 1006.2h0M1379.4 1008.2h0M1379.6 1010.2h0M1379.2 1012.2h0M1378.8 1014.2h0M1379.6 1016.2h0M1378.8 1018.2h0M1378.8 1020.1h0M1379.5 1022.1h0M1379 1024.1h0M1379.4 1026.1h0M1378.7 1028.1h0M1378.9 1030.1h0M1379.4 1032.1h0M1378.7 1034.1h0M1379.2 1036.1h0M1379.6 1038.1h0M1378.9 1040.1h0M1379.4 1042h0M1379.4 1044h0M1379.3 1046h0M1379.5 1048h0M1379.4 1050h0M1378.7 1052h0M1382.2 1037.2h0M1382.5 1039.3h0M1383 1041.5h0M1382.2 1043.6h0M1382.6 1045.7h0M1382.1 1047.8h0M1382.8 1049.9h0M1382.4 1052h0" stroke="#FE1E10" stroke-width="6.8" stroke-linecap="round" fill="none"/>
<path d="M155 1054.8V1058.5M156.2 1054.7V1058.5M157.4 1054.7V1058.5M158.6 1054.8V1058.5M159.8 1054.8V1058.5M161.1 1053.7V1058.5M162.3 1055V1058.5M163.5 1055.1V1058.5M164.7 1055.1V1058.5M165.9 1055V1058.5M167.1 1055V1058.5M168.4 1054.9V1058.5M169.6 1054.8V1058.5M170.8 1054.9V1058.5M172 1054.9V1058.5M173.2 1054.9V1058.5M174.4 1054.7V1058.5M175.7 1054.7V1058.5M176.9 1054.6V1058.5M178.1 1054.6V1058.5M179.3 1054.6V1058.5M180.5 1054.6V1058.5M181.7 1054.7V1058.5M183 1054.7V1058.5M184.2 1054.8V1058.5M185.4 1054.9V1058.5M186.6 1055V1058.5M187.8 1054.9V1058.5M189 1054.8V1058.5M190.3 1054.6V1058.5M191.5 1054.4V1058.5M192.7 1054.4V1058.5M193.9 1054.4V1058.5M195.1 1054.5V1058.5M196.4 1054.3V1058.5M197.6 1054.2V1058.5M198.8 1054.1V1058.5M200 1054.2V1058.5M201.2 1054.3V1058.5M202.4 1054.5V1058.5M203.7 1054.7V1058.5M204.9 1054.8V1058.5M206.1 1054.5V1058.5M216.5 1055.1V1058.5M217.8 1055.1V1058.5M219 1055.1V1058.5M220.2 1055.2V1058.5M221.4 1055.1V1058.5M222.6 1055.1V1058.5M223.8 1055V1058.5M225 1055V1058.5M226.2 1055V1058.5M227.4 1055V1058.5M228.6 1055V1058.5M229.8 1055.1V1058.5M231 1055.1V1058.5M232.2 1054.9V1058.5M233.4 1054.8V1058.5M234.6 1054.8V1058.5M235.8 1054.7V1058.5M237 1054.7V1058.5M238.2 1054.7V1058.5M239.4 1054.8V1058.5M240.6 1054.9V1058.5M241.8 1055V1058.5M243 1054.8V1058.5M244.2 1054.5V1058.5M245.4 1054.2V1058.5M246.6 1054.1V1058.5M247.8 1054V1058.5M249 1054.1V1058.5M250.2 1054.3V1058.5M251.4 1054.5V1058.5M252.6 1054.8V1058.5M253.8 1055V1058.5M255 1055V1058.5M256.2 1054.9V1058.5M257.4 1054.7V1058.5M258.6 1054.5V1058.5M259.8 1054.5V1058.5M261 1054.7V1058.5" stroke="#E8DEE4" stroke-width="6.8" stroke-linecap="round" fill="none"/>
<path d="M260.8 1054.9V1058.5M262 1054.9V1058.5M263.2 1054.7V1058.5M264.4 1054.8V1058.5M265.6 1054.8V1058.5M266.8 1054.9V1058.5M268.1 1054.9V1058.5M269.3 1055.1V1058.5M270.5 1055.1V1058.5M271.7 1055.2V1058.5M272.9 1055V1058.5M274.1 1055V1058.5M275.3 1054.9V1058.5M276.5 1054.9V1058.5M277.7 1055V1058.5M278.9 1055.1V1058.5M280.1 1055.1V1058.5M281.3 1055.1V1058.5M282.5 1055.1V1058.5M283.7 1055V1058.5M284.9 1054.9V1058.5M286.2 1054.9V1058.5M287.4 1054.8V1058.5M288.6 1054.8V1058.5M289.8 1054.8V1058.5M291 1054.9V1058.5M292.2 1054.9V1058.5M293.4 1054.9V1058.5M294.6 1055V1058.5M295.8 1055.2V1058.5M297 1055.2V1058.5M298.2 1055V1058.5M299.4 1054.7V1058.5M300.6 1054.3V1058.5M301.8 1054.2V1058.5M303 1054.2V1058.5M304.3 1054.6V1058.5M305.5 1054.9V1058.5M306.7 1055.1V1058.5M307.9 1055.2V1058.5M309.1 1055.2V1058.5M310.3 1055.2V1058.5M311.5 1055.1V1058.5M312.7 1055.1V1058.5M313.9 1055.1V1058.5M315.1 1055V1058.5M316.3 1055V1058.5M317.5 1055V1058.5M318.7 1055V1058.5M319.9 1055.1V1058.5M321.1 1055.1V1058.5M322.4 1055.1V1058.5M323.6 1055V1058.5M324.8 1054.9V1058.5M326 1054.9V1058.5M327.2 1054.8V1058.5M328.4 1054.9V1058.5M329.6 1054.9V1058.5M330.8 1054.8V1058.5M332 1054.6V1058.5M333.2 1054.5V1058.5M334.4 1054.4V1058.5M335.6 1054.4V1058.5M336.8 1054.4V1058.5M338 1054.2V1058.5M339.2 1053.5V1058.5M340.5 1054V1058.5M341.7 1054.1V1058.5M342.9 1054.1V1058.5M344.1 1054.4V1058.5M345.3 1054.6V1058.5M346.5 1054.9V1058.5M347.7 1055V1058.5M348.9 1054.9V1058.5M350.1 1054.6V1058.5M351.3 1054.4V1058.5M352.5 1054.2V1058.5M353.7 1054.2V1058.5M354.9 1054.5V1058.5M356.1 1054.8V1058.5M357.3 1055V1058.5M358.6 1055.1V1058.5M359.8 1055.2V1058.5M361 1055.3V1058.5M362.2 1055.3V1058.5M363.4 1055.2V1058.5M364.6 1055.1V1058.5" stroke="#F8EDF3" stroke-width="6.8" stroke-linecap="round" fill="none"/>
<path d="M364.8 1054.9V1058.5M366 1054.7V1058.5M367.2 1054.7V1058.5M368.4 1054.7V1058.5M369.6 1054.8V1058.5M370.8 1055V1058.5M372 1055.1V1058.5M373.2 1055.1V1058.5M374.4 1055V1058.5M375.6 1054.9V1058.5M376.8 1054.8V1058.5M378 1054.7V1058.5M379.2 1054.7V1058.5M380.5 1054.7V1058.5M381.7 1054.8V1058.5M382.9 1054.9V1058.5M384.1 1055V1058.5M385.3 1055V1058.5M386.5 1055V1058.5M387.7 1055V1058.5M388.9 1055.2V1058.5M390.1 1055.1V1058.5M391.3 1055V1058.5M392.5 1054.8V1058.5M393.7 1054.8V1058.5M394.9 1054.8V1058.5M396.1 1054.6V1058.5M397.3 1054.7V1058.5M398.6 1054.7V1058.5M399.8 1054.8V1058.5M401 1054.7V1058.5M402.2 1054.7V1058.5M403.4 1054.9V1058.5M404.6 1055V1058.5M405.8 1055.1V1058.5M407 1055V1058.5M408.2 1054.9V1058.5M409.4 1054.8V1058.5M410.6 1054.8V1058.5M411.8 1054.7V1058.5M413 1054.6V1058.5M414.2 1054.8V1058.5M415.4 1054.8V1058.5M416.7 1054.9V1058.5M417.9 1054.9V1058.5M419.1 1055.1V1058.5M420.3 1055.1V1058.5M421.5 1055V1058.5M422.7 1054.8V1058.5M423.9 1054.7V1058.5M425.1 1054.6V1058.5M426.3 1054.6V1058.5M427.5 1054.7V1058.5M428.7 1054.8V1058.5M429.9 1054.9V1058.5M431.1 1054.7V1058.5M432.3 1054.5V1058.5M433.5 1054.3V1058.5M434.8 1054.3V1058.5M436 1054.3V1058.5M437.2 1054.6V1058.5M438.4 1054.7V1058.5M439.6 1054.8V1058.5M440.8 1054.7V1058.5M442 1054.6V1058.5M443.2 1054.6V1058.5M444.4 1052.5V1058.5M445.6 1054.6V1058.5M446.8 1054.7V1058.5M448 1054.6V1058.5M449.2 1054.3V1058.5" stroke="#E8DEE4" stroke-width="6.8" stroke-linecap="round" fill="none"/>
<path d="M449.5 1055.1V1058.5M450.8 1055.1V1058.5M452 1055V1058.5M453.2 1055V1058.5M454.4 1055V1058.5M455.6 1054.9V1058.5M456.8 1055V1058.5M458.1 1055V1058.5M459.3 1055V1058.5M460.5 1055.1V1058.5M461.7 1055.2V1058.5M462.9 1055.1V1058.5M464.1 1055.2V1058.5M465.4 1054.9V1058.5M466.6 1054.7V1058.5M467.8 1054.5V1058.5M469 1054.6V1058.5M470.2 1054.6V1058.5M471.4 1054.9V1058.5M472.7 1055.1V1058.5M473.9 1055.1V1058.5M475.1 1055.2V1058.5M476.3 1055.1V1058.5M477.5 1055V1058.5M478.7 1054.8V1058.5M480 1054.7V1058.5M481.2 1054.6V1058.5M482.4 1054.5V1058.5M483.6 1054.5V1058.5M484.8 1054.6V1058.5M486 1054.5V1058.5M487.3 1054.7V1058.5M488.5 1054.8V1058.5M489.7 1054.9V1058.5M490.9 1055V1058.5M492.1 1054.7V1058.5M493.3 1054.6V1058.5M494.6 1054.4V1058.5M495.8 1054.1V1058.5M497 1054.2V1058.5M498.2 1054.2V1058.5M499.4 1054.3V1058.5M500.6 1054.5V1058.5M501.9 1053.3V1058.5M503.1 1054.8V1058.5M504.3 1054.6V1058.5M505.5 1054.3V1058.5M506.7 1054.1V1058.5M507.9 1053.9V1058.5M509.2 1054V1058.5M510.4 1054.2V1058.5M511.6 1054.4V1058.5M512.8 1054.6V1058.5M514 1054.9V1058.5M515.2 1055V1058.5M516.5 1055.1V1058.5M517.7 1055.2V1058.5M518.9 1055.1V1058.5M520.1 1055V1058.5M521.3 1054.9V1058.5M522.5 1054.8V1058.5M523.8 1054.8V1058.5M525 1054.9V1058.5M526.2 1055V1058.5M527.4 1055.1V1058.5M528.6 1055.1V1058.5M529.8 1055.2V1058.5M531.1 1055.2V1058.5" stroke="#F8EDF3" stroke-width="6.8" stroke-linecap="round" fill="none"/>
<path d="M531.2 1055.2V1058.5M532.4 1055.1V1058.5M533.6 1054.9V1058.5M534.8 1054.8V1058.5M536 1054.6V1058.5M537.2 1054.6V1058.5M538.4 1054.7V1058.5M539.6 1054.8V1058.5M540.8 1054.7V1058.5M542 1054.5V1058.5M543.3 1054.4V1058.5M544.5 1054.3V1058.5M545.7 1054.4V1058.5M546.9 1054.4V1058.5M548.1 1054.6V1058.5M549.3 1054.8V1058.5M550.5 1054.9V1058.5M551.7 1055.1V1058.5M552.9 1054.8V1058.5M554.1 1054.5V1058.5M555.3 1054.4V1058.5M556.5 1054.5V1058.5M557.7 1054.7V1058.5M558.9 1054.9V1058.5M560.1 1055.1V1058.5M561.4 1055.1V1058.5M562.6 1055.1V1058.5M563.8 1054.9V1058.5M565 1054.5V1058.5M566.2 1054.2V1058.5M567.4 1054.1V1058.5M568.6 1054.2V1058.5M569.8 1054.6V1058.5M571 1054.9V1058.5M572.2 1055.1V1058.5M573.4 1055.2V1058.5M574.6 1055V1058.5M575.8 1054.8V1058.5M577 1054.4V1058.5M578.2 1054.1V1058.5M579.5 1054V1058.5M580.7 1054.3V1058.5M581.9 1054.6V1058.5M583.1 1054.4V1058.5M584.3 1054.3V1058.5M585.5 1054.3V1058.5M586.7 1054.4V1058.5M587.9 1054.7V1058.5M589.1 1054.9V1058.5M590.3 1055V1058.5M591.5 1054.9V1058.5M592.7 1054.6V1058.5M593.9 1054.5V1058.5M595.1 1054.4V1058.5M596.3 1054.4V1058.5M597.6 1054.4V1058.5M598.8 1054.6V1058.5M600 1054.8V1058.5M601.2 1055V1058.5M602.4 1055.1V1058.5M603.6 1055V1058.5M604.8 1054.8V1058.5M606 1054.6V1058.5M607.2 1054.4V1058.5M608.4 1054.3V1058.5" stroke="#E8DEE4" stroke-width="6.8" stroke-linecap="round" fill="none"/>
<path d="M608.9 1055.2V1058.5M610.2 1055.2V1058.5M611.4 1055.2V1058.5M612.6 1055.2V1058.5M613.8 1055.2V1058.5M615 1055.1V1058.5M616.2 1055.1V1058.5M617.4 1055.1V1058.5M618.7 1055.1V1058.5M619.9 1055.1V1058.5M621.1 1055.1V1058.5M622.3 1055.2V1058.5M623.5 1055.1V1058.5M624.7 1055.1V1058.5M626 1055V1058.5M627.2 1055V1058.5M628.4 1055.1V1058.5M629.6 1055.1V1058.5M630.8 1054.9V1058.5M632 1053.5V1058.5M633.2 1054.8V1058.5M634.5 1054.8V1058.5M635.7 1054.7V1058.5M636.9 1054.7V1058.5M638.1 1054.8V1058.5M639.3 1054.9V1058.5M640.5 1054.9V1058.5M641.8 1055V1058.5M643 1055.1V1058.5M644.2 1055.1V1058.5M645.4 1055.2V1058.5M646.6 1055.1V1058.5M647.8 1055.1V1058.5M649 1055V1058.5M650.3 1055V1058.5M651.5 1055V1058.5M652.7 1055V1058.5M653.9 1055.1V1058.5M655.1 1055.1V1058.5M656.3 1055.2V1058.5M657.6 1055.1V1058.5M658.8 1054.9V1058.5M660 1054.8V1058.5M661.2 1054.5V1058.5M662.4 1054.3V1058.5M663.6 1054.1V1058.5M664.8 1054V1058.5M666.1 1054.1V1058.5M667.3 1054.2V1058.5M668.5 1054.5V1058.5M669.7 1054.7V1058.5M670.9 1054.9V1058.5M672.1 1055.1V1058.5M673.4 1054.9V1058.5M674.6 1054.9V1058.5M675.8 1054.8V1058.5M677 1054.8V1058.5M678.2 1054.7V1058.5M679.4 1054.8V1058.5M680.6 1054.8V1058.5M681.9 1054.9V1058.5" stroke="#F8EDF3" stroke-width="6.8" stroke-linecap="round" fill="none"/>
<path d="M682 1055.2V1058.5M683.3 1055.2V1058.5M684.5 1055.1V1058.5M685.7 1054.9V1058.5M686.9 1054.8V1058.5M688.1 1054.7V1058.5M689.3 1054.9V1058.5M690.5 1055.1V1058.5M691.7 1055.2V1058.5M693 1055.2V1058.5M694.2 1055.2V1058.5M695.4 1055.2V1058.5M696.6 1055.2V1058.5M697.8 1055.2V1058.5M699 1055.1V1058.5M700.2 1055.2V1058.5M701.4 1055.1V1058.5M702.7 1055V1058.5M703.9 1055.1V1058.5M705.1 1055.1V1058.5M706.3 1055.1V1058.5M707.5 1055.2V1058.5M708.7 1055.1V1058.5M709.9 1054.9V1058.5M711.1 1054.6V1058.5M712.4 1054.4V1058.5M713.6 1054.4V1058.5M714.8 1054.6V1058.5M716 1055V1058.5M717.2 1055.1V1058.5M718.4 1055.1V1058.5M719.6 1055.1V1058.5M720.9 1055.2V1058.5M722.1 1055.1V1058.5M723.3 1055.1V1058.5M724.5 1055.1V1058.5M725.7 1055V1058.5M726.9 1054.9V1058.5M728.1 1055V1058.5M729.3 1054.9V1058.5M730.6 1055V1058.5M731.8 1055V1058.5M733 1055V1058.5M734.2 1054.8V1058.5M735.4 1054.5V1058.5M736.6 1054.3V1058.5M737.8 1054.1V1058.5M739 1054.1V1058.5M740.3 1054.3V1058.5M741.5 1054.6V1058.5M742.7 1054.9V1058.5M743.9 1055.1V1058.5M745.1 1055.1V1058.5M746.3 1055.1V1058.5M747.5 1054.9V1058.5M748.7 1054.7V1058.5M750 1054.6V1058.5" stroke="#E8DEE4" stroke-width="6.8" stroke-linecap="round" fill="none"/>
<path d="M749.9 1055.2V1058.5M751.1 1055.2V1058.5M752.4 1055.2V1058.5M753.6 1055.3V1058.5M754.8 1055.2V1058.5M756 1055.2V1058.5M757.2 1055.1V1058.5M758.5 1055V1058.5M759.7 1054.8V1058.5M760.9 1054.8V1058.5M762.1 1054.9V1058.5M763.4 1054.7V1058.5M764.6 1054.6V1058.5M765.8 1054.6V1058.5M767 1054.6V1058.5M768.3 1054.6V1058.5M769.5 1054.6V1058.5M770.7 1054.7V1058.5M771.9 1054.8V1058.5M773.1 1054.9V1058.5M774.4 1054.8V1058.5M775.6 1054.7V1058.5M776.8 1054.7V1058.5M778 1054.8V1058.5M779.3 1054.8V1058.5M780.5 1054.9V1058.5M781.7 1054.9V1058.5M782.9 1055V1058.5M784.2 1055V1058.5M785.4 1055.1V1058.5M786.6 1055V1058.5M787.8 1054.8V1058.5M789.1 1054.7V1058.5M790.3 1054.6V1058.5M791.5 1054.5V1058.5M792.7 1054.6V1058.5M793.9 1054.7V1058.5M795.2 1054.7V1058.5M796.4 1054.8V1058.5M797.6 1055V1058.5M798.8 1055V1058.5M800.1 1055V1058.5M801.3 1054.7V1058.5M802.5 1054.3V1058.5M803.7 1054.2V1058.5M805 1054.5V1058.5M806.2 1054.8V1058.5M807.4 1055.1V1058.5M808.6 1055.1V1058.5M809.8 1055.1V1058.5M811.1 1055.1V1058.5M812.3 1055V1058.5" stroke="#F8EDF3" stroke-width="6.8" stroke-linecap="round" fill="none"/>
<path d="M811.5 1055.3V1058.5M812.8 1055.2V1058.5M814.1 1055.3V1058.5M815.3 1055.2V1058.5M816.6 1055.3V1058.5M817.9 1055.2V1058.5M819.1 1055V1058.5M820.4 1055V1058.5M821.7 1055V1058.5M822.9 1055V1058.5M824.2 1055.1V1058.5M825.5 1055.2V1058.5M826.7 1055.2V1058.5M828 1055V1058.5M841.7 1055.2V1058.5M843 1055.2V1058.5M844.2 1055.1V1058.5M845.5 1055.1V1058.5M846.7 1054.9V1058.5M848 1054.7V1058.5M849.2 1054.5V1058.5M850.5 1054.1V1058.5M851.7 1054.1V1058.5M853 1054.1V1058.5M854.2 1054.2V1058.5M855.5 1054.6V1058.5M856.7 1054.8V1058.5M858 1054.9V1058.5M859.2 1054.9V1058.5M860.5 1054.8V1058.5M861.7 1054.9V1058.5M862.9 1054.9V1058.5M864.2 1054.9V1058.5M865.4 1055V1058.5M866.7 1055V1058.5M867.9 1055V1058.5M869.2 1055.1V1058.5M870.4 1055.1V1058.5M871.7 1055.1V1058.5" stroke="#E8DEE4" stroke-width="6.8" stroke-linecap="round" fill="none"/>
<path d="M871.3 1054.6V1058.5M872.5 1054.5V1058.5M873.7 1054.5V1058.5M874.9 1054.5V1058.5M876.1 1054.7V1058.5M877.3 1054.8V1058.5M878.5 1054.9V1058.5M879.7 1055.1V1058.5M880.9 1055.2V1058.5M882.1 1055.2V1058.5M883.3 1055.1V1058.5M884.5 1055.1V1058.5M885.7 1055V1058.5M887 1055V1058.5M888.2 1055V1058.5M889.4 1055V1058.5M890.6 1055V1058.5M891.8 1054.9V1058.5M893 1055V1058.5M894.2 1055V1058.5M895.4 1055.1V1058.5M896.6 1055.1V1058.5M897.8 1054.9V1058.5M899 1054.7V1058.5M900.2 1054.5V1058.5M901.4 1054.2V1058.5M902.6 1054.1V1058.5M903.8 1054V1058.5M905 1054.1V1058.5M906.2 1054.3V1058.5M907.4 1054.5V1058.5M908.6 1054.7V1058.5M909.8 1055V1058.5M911 1055V1058.5M912.2 1054.9V1058.5M913.4 1053.7V1058.5M914.7 1054.7V1058.5M915.9 1054.6V1058.5M917.1 1054.6V1058.5M918.3 1054.7V1058.5M919.5 1054.8V1058.5M920.7 1054.9V1058.5M921.9 1054.9V1058.5M923.1 1055V1058.5M924.3 1055.1V1058.5M925.5 1055.2V1058.5M926.7 1055.1V1058.5M927.9 1055.1V1058.5M929.1 1055V1058.5" stroke="#F8EDF3" stroke-width="6.8" stroke-linecap="round" fill="none"/>
<path d="M928.9 1054V1058.5M930.2 1054V1058.5M931.4 1054.3V1058.5M932.6 1054.6V1058.5M933.8 1054.9V1058.5M935.1 1054.7V1058.5M936.3 1054.6V1058.5M937.5 1054.3V1058.5M938.7 1054.3V1058.5M940 1054.3V1058.5M941.2 1054.4V1058.5M942.4 1054.6V1058.5M943.6 1054.7V1058.5M944.9 1055V1058.5M946.1 1055.1V1058.5M947.3 1055V1058.5M948.5 1054.8V1058.5M949.7 1054.6V1058.5M951 1054.3V1058.5M952.2 1054.3V1058.5M953.4 1054.2V1058.5M954.6 1054.2V1058.5M955.9 1054.2V1058.5M957.1 1053.9V1058.5M958.3 1054.1V1058.5M959.5 1054.3V1058.5M960.8 1054.6V1058.5M962 1054.6V1058.5M963.2 1054.6V1058.5M964.4 1054.7V1058.5M965.7 1055V1058.5M966.9 1055.1V1058.5M968.1 1055.1V1058.5M969.3 1055V1058.5M970.5 1055.1V1058.5M971.8 1055.1V1058.5M973 1055V1058.5M974.2 1055V1058.5M975.4 1055V1058.5M976.7 1054.9V1058.5M977.9 1055V1058.5M979.1 1055V1058.5M980.3 1055V1058.5M981.6 1055V1058.5M982.8 1055.1V1058.5M984 1055.1V1058.5M985.2 1055.1V1058.5M986.5 1055.1V1058.5" stroke="#E8DEE4" stroke-width="6.8" stroke-linecap="round" fill="none"/>
<path d="M986.6 1054.2V1058.5M987.8 1053.9V1058.5M989 1054.1V1058.5M990.2 1054.5V1058.5M991.4 1055V1058.5M992.7 1055V1058.5M993.9 1055V1058.5M995.1 1054.8V1058.5M996.3 1052.9V1058.5M997.5 1054.4V1058.5M998.7 1054.3V1058.5M999.9 1054.2V1058.5M1001.1 1054.2V1058.5M1002.4 1054.2V1058.5M1003.6 1054.3V1058.5M1004.8 1054.5V1058.5M1006 1054.6V1058.5M1007.2 1054.8V1058.5M1008.4 1054.9V1058.5M1009.6 1055V1058.5M1010.9 1055V1058.5M1012.1 1054.9V1058.5M1013.3 1054.8V1058.5M1014.5 1054.6V1058.5M1015.7 1054.5V1058.5M1016.9 1054.5V1058.5M1018.1 1054.6V1058.5M1019.3 1054.6V1058.5M1020.6 1054.8V1058.5M1021.8 1054.8V1058.5M1023 1055V1058.5M1024.2 1055.1V1058.5M1025.4 1055.1V1058.5M1026.6 1055V1058.5M1027.8 1054.8V1058.5M1029.1 1054.5V1058.5M1030.3 1054.5V1058.5M1031.5 1054.6V1058.5M1032.7 1054.9V1058.5M1033.9 1055.1V1058.5M1035.1 1055.1V1058.5M1036.3 1054.9V1058.5M1037.5 1054.6V1058.5M1038.8 1054.4V1058.5M1040 1054.4V1058.5M1041.2 1054.7V1058.5M1042.4 1054.9V1058.5M1043.6 1054.9V1058.5" stroke="#F8EDF3" stroke-width="6.8" stroke-linecap="round" fill="none"/>
<path d="M1051.5 1054.9V1058.5M1052.7 1054.9V1058.5M1053.9 1054.9V1058.5M1055.1 1053.4V1058.5M1056.3 1054.8V1058.5M1057.5 1054.7V1058.5M1058.7 1054.8V1058.5M1059.9 1054.8V1058.5M1061.1 1054.9V1058.5M1062.3 1054.9V1058.5M1063.6 1054.7V1058.5M1064.8 1054.5V1058.5M1066 1054.3V1058.5M1067.2 1054.3V1058.5M1068.4 1054.4V1058.5M1069.6 1054.7V1058.5M1070.8 1054.9V1058.5M1072 1055V1058.5M1073.2 1055.1V1058.5M1074.4 1055.2V1058.5M1075.6 1055.2V1058.5M1076.8 1055V1058.5M1078 1054.9V1058.5M1079.2 1054.8V1058.5M1080.4 1054.7V1058.5M1081.7 1054.8V1058.5M1082.9 1054.9V1058.5M1084.1 1055.1V1058.5M1085.3 1055V1058.5M1086.5 1054.8V1058.5M1087.7 1054.5V1058.5M1088.9 1054.2V1058.5M1090.1 1054.1V1058.5M1091.3 1054V1058.5M1092.5 1054.1V1058.5" stroke="#E8DEE4" stroke-width="6.8" stroke-linecap="round" fill="none"/>
<path d="M1101.9 1054.5V1058.5M1103.1 1054.6V1058.5M1104.3 1054.6V1058.5M1105.5 1054.7V1058.5M1106.7 1054.8V1058.5M1107.9 1054.9V1058.5M1109.1 1055.1V1058.5M1110.3 1055V1058.5M1111.5 1054.9V1058.5M1112.7 1054.9V1058.5M1113.9 1055V1058.5M1115.1 1054.9V1058.5M1116.3 1054.9V1058.5M1117.5 1054.7V1058.5M1118.7 1054.6V1058.5M1119.9 1054.6V1058.5M1121.1 1054.4V1058.5M1122.3 1054.5V1058.5M1123.5 1054.6V1058.5M1124.7 1054.7V1058.5M1125.9 1054.6V1058.5M1127.1 1054.4V1058.5M1128.3 1054.4V1058.5M1129.5 1054.3V1058.5M1130.7 1054.3V1058.5M1131.9 1054.5V1058.5M1133.1 1054.6V1058.5M1134.3 1054.7V1058.5M1135.5 1054.9V1058.5M1136.7 1055V1058.5M1137.9 1054.9V1058.5M1139.1 1054.8V1058.5" stroke="#F8EDF3" stroke-width="6.8" stroke-linecap="round" fill="none"/>
<path d="M1147.4 1054.6V1058.5M1148.6 1054.6V1058.5M1149.8 1054.8V1058.5M1151 1055V1058.5M1152.2 1055.1V1058.5M1153.5 1055.1V1058.5M1154.7 1055V1058.5M1155.9 1054.6V1058.5M1157.1 1054.4V1058.5M1158.3 1054.3V1058.5M1159.5 1054.3V1058.5M1160.7 1054.6V1058.5M1162 1054.7V1058.5M1163.2 1054.5V1058.5M1164.4 1054.4V1058.5M1165.6 1054.4V1058.5M1166.8 1054.5V1058.5M1168 1054.6V1058.5M1169.3 1054.7V1058.5M1170.5 1054.6V1058.5M1171.7 1054.7V1058.5M1172.9 1054.7V1058.5M1174.1 1054.7V1058.5M1175.3 1054.9V1058.5M1176.5 1054.9V1058.5M1177.8 1054.7V1058.5M1179 1054.5V1058.5M1180.2 1054.5V1058.5M1181.4 1054.4V1058.5M1182.6 1054.4V1058.5" stroke="#E8DEE4" stroke-width="6.8" stroke-linecap="round" fill="none"/>
<path d="M1181.9 1054.2V1058.5M1183.1 1054.1V1058.5M1184.4 1054.1V1058.5M1185.6 1054.1V1058.5M1186.9 1054.2V1058.5M1188.1 1054.4V1058.5M1189.4 1054.5V1058.5M1190.6 1054.5V1058.5M1191.9 1054.3V1058.5M1193.1 1054.2V1058.5M1194.4 1054.1V1058.5M1195.6 1054.2V1058.5M1196.9 1054.2V1058.5M1201.7 1055.1V1058.5M1202.9 1054.9V1058.5M1204.2 1054.7V1058.5M1205.4 1054.6V1058.5M1206.7 1054.7V1058.5M1207.9 1053.7V1058.5M1209.1 1055.1V1058.5M1210.4 1055.2V1058.5M1211.6 1055.2V1058.5M1212.9 1055.2V1058.5M1214.1 1055.1V1058.5M1215.4 1055.1V1058.5M1216.6 1055V1058.5M1217.9 1055.1V1058.5M1219.1 1055.2V1058.5M1220.3 1055.2V1058.5" stroke="#F8EDF3" stroke-width="6.8" stroke-linecap="round" fill="none"/>
<path d="M1222.1 1055V1058.5M1223.3 1055V1058.5M1224.5 1053.5V1058.5M1225.8 1054.7V1058.5M1227 1054.5V1058.5M1228.3 1054.4V1058.5M1229.5 1054.3V1058.5M1230.7 1054.3V1058.5M1232 1054.4V1058.5M1233.2 1054.5V1058.5M1234.4 1054.6V1058.5M1235.7 1054.7V1058.5M1236.9 1054.8V1058.5M1238.2 1054.8V1058.5M1239.4 1054.9V1058.5M1240.6 1055V1058.5M1241.9 1054.9V1058.5M1243.1 1054.7V1058.5M1244.4 1054.2V1058.5M1245.6 1054.1V1058.5M1246.8 1054.3V1058.5M1248.1 1054.7V1058.5M1249.3 1054.4V1058.5M1250.5 1054V1058.5M1251.8 1054V1058.5M1253 1054.3V1058.5M1254.3 1054.8V1058.5M1255.5 1055V1058.5M1256.7 1054.7V1058.5" stroke="#E8DEE4" stroke-width="6.8" stroke-linecap="round" fill="none"/>
<path d="M1256.8 1055.2V1058.5M1258 1055.2V1058.5M1259.2 1055.2V1058.5M1260.5 1055.1V1058.5M1261.7 1055V1058.5M1262.9 1054.7V1058.5M1264.2 1054.5V1058.5M1265.4 1054.6V1058.5M1266.6 1054.8V1058.5M1267.9 1055V1058.5M1269.1 1055.1V1058.5M1270.3 1055.1V1058.5M1271.6 1055.2V1058.5M1272.8 1055V1058.5M1274 1055V1058.5M1275.2 1054.9V1058.5M1276.5 1054.9V1058.5M1277.7 1054.7V1058.5M1278.9 1054.5V1058.5M1280.2 1054.3V1058.5M1281.4 1054.1V1058.5M1282.6 1054V1058.5M1283.9 1054.2V1058.5M1285.1 1054.4V1058.5M1286.3 1054.6V1058.5M1287.6 1054.8V1058.5M1288.8 1055V1058.5M1290 1055.1V1058.5" stroke="#F8EDF3" stroke-width="6.8" stroke-linecap="round" fill="none"/>
<path d="M1290.1 1055.2V1058.5M1291.4 1055.2V1058.5M1292.6 1055.2V1058.5M1293.9 1055.2V1058.5M1295.2 1055.1V1058.5M1296.4 1055.1V1058.5M1297.7 1055.1V1058.5M1298.9 1054.9V1058.5M1300.2 1054.9V1058.5M1301.4 1054.9V1058.5M1302.7 1055V1058.5M1304 1055.1V1058.5M1305.2 1055.1V1058.5M1306.5 1055.1V1058.5M1307.7 1054.9V1058.5M1309 1054.5V1058.5M1310.2 1054.4V1058.5M1311.5 1054.2V1058.5M1312.8 1054.3V1058.5M1314 1054.6V1058.5M1315.3 1054.8V1058.5" stroke="#E8DEE4" stroke-width="6.8" stroke-linecap="round" fill="none"/>
<path d="M1315.8 1055.2V1058.5M1317 1055.2V1058.5M1318.2 1055V1058.5M1319.4 1055V1058.5M1320.7 1054.8V1058.5M1321.9 1054.7V1058.5M1323.1 1054.5V1058.5M1324.3 1054.3V1058.5M1325.5 1053.1V1058.5M1326.8 1054.1V1058.5M1328 1054V1058.5M1329.2 1054.2V1058.5M1330.4 1054.3V1058.5M1331.6 1054.4V1058.5M1332.9 1054.6V1058.5M1334.1 1054.8V1058.5M1335.3 1054.9V1058.5M1336.5 1055V1058.5M1337.7 1055.1V1058.5M1339 1054.9V1058.5M1340.2 1054.8V1058.5M1341.4 1054.8V1058.5M1342.6 1054.8V1058.5" stroke="#F8EDF3" stroke-width="6.8" stroke-linecap="round" fill="none"/>
<path d="M1348.8 1055.2V1058.5M1350.1 1055.2V1058.5M1351.4 1055.3V1058.5M1352.7 1055.2V1058.5M1354 1055.1V1058.5M1355.3 1055.1V1058.5M1356.5 1055V1058.5M1357.8 1055V1058.5M1359.1 1055V1058.5M1360.4 1054.9V1058.5M1361.7 1054.8V1058.5M1363 1054.6V1058.5" stroke="#E8DEE4" stroke-width="6.8" stroke-linecap="round" fill="none"/>
<path d="M1370.2 1055.2V1058.5M1371.4 1055.2V1058.5M1372.7 1055.1V1058.5M1373.9 1054.9V1058.5M1375.2 1054.8V1058.5M1376.4 1054.5V1058.5M1377.7 1054.3V1058.5M1379 1054.2V1058.5M1380.2 1054.2V1058.5M1381.5 1054.5V1058.5M1382.7 1054.7V1058.5M1384 1054.9V1058.5M1385.2 1054.7V1058.5" stroke="#F8EDF3" stroke-width="6.8" stroke-linecap="round" fill="none"/>
</g>
<rect x="94" y="786.1" width="1351.8" height="284.4" fill="none" stroke="#333333" stroke-width="1.5"/>
<line x1="86.4" x2="94" y1="1059.7" y2="1059.7" stroke="#333333" stroke-width="2"/>
<text x="80.6" y="1068.1" font-size="23.5" fill="#4D4D4D" font-weight="normal" text-anchor="end" textLength="14.6" lengthAdjust="spacingAndGlyphs">0</text>
<line x1="86.4" x2="94" y1="967.6" y2="967.6" stroke="#333333" stroke-width="2"/>
<text x="80.6" y="976" font-size="23.5" fill="#4D4D4D" font-weight="normal" text-anchor="end" textLength="43.8" lengthAdjust="spacingAndGlyphs">100</text>
<line x1="86.4" x2="94" y1="875.5" y2="875.5" stroke="#333333" stroke-width="2"/>
<text x="80.6" y="883.9" font-size="23.5" fill="#4D4D4D" font-weight="normal" text-anchor="end" textLength="43.8" lengthAdjust="spacingAndGlyphs">200</text>
<text transform="translate(23.5 928.3) rotate(-90)" font-size="28" fill="#000" text-anchor="middle" textLength="127" lengthAdjust="spacingAndGlyphs">-log10(P)</text>
<clipPath id="c3"><rect x="94" y="1153.7" width="1351.8" height="216.5"/></clipPath>
<g clip-path="url(#c3)">
<path d="M221.6 1335.9h0M221.5 1337.7h0M221.8 1339.5h0M221.6 1341.4h0M221.5 1343.2h0M221.8 1345h0M333.5 1322.4h0M333.4 1323.8h0M333.4 1340.5h0M332.8 1342.8h0M333.1 1345h0M619.5 1330.2h0M619.4 1332.3h0M619.3 1334.4h0M619.4 1336.5h0M620.1 1338.7h0M620 1340.8h0M620 1342.9h0M620 1345h0M621.2 1343.2h0M621.3 1345h0M768 1340h0M901 1162.8h0M901 1172.8h0M901 1286.6h0M901 1303.5h0M901 1342.2h0M901 1347.8h0M1007 1348.4h0M1219.9 1298.7h0M1220 1323.2h0M1220.1 1325.3h0M1220.3 1327.3h0M1220.3 1329.3h0M1219.5 1331.3h0M1220 1333.4h0M1220.1 1335.4h0M1219.9 1337.4h0M1219.6 1339.5h0M1219.9 1341.5h0M1219.5 1343.5h0M1220.3 1345.5h0M1220.3 1347.6h0" stroke="#E8A22C" stroke-width="6.8" stroke-linecap="round" fill="none"/>
<path d="M155 1358.2V1361.3M156.2 1357.9V1361.3M157.4 1357.9V1361.3M158.6 1358.2V1361.3M159.8 1358.6V1361.3M161.1 1358.2V1361.3M162.3 1355.1V1361.3M163.5 1358V1361.3M164.7 1358.4V1361.3M165.9 1358.7V1361.3M167.1 1358.9V1361.3M168.4 1358.7V1361.3M169.6 1358.5V1361.3M170.8 1358.4V1361.3M172 1358.2V1361.3M173.2 1357.8V1361.3M174.4 1357.6V1361.3M175.7 1357.3V1361.3M176.9 1357.1V1361.3M178.1 1357.2V1361.3M179.3 1357.3V1361.3M180.5 1357.5V1361.3M181.7 1357.8V1361.3M183 1358.2V1361.3M184.2 1358.2V1361.3M185.4 1358.2V1361.3M186.6 1358.4V1361.3M187.8 1358.6V1361.3M189 1358.4V1361.3M190.3 1358.3V1361.3M191.5 1358.4V1361.3M192.7 1358.6V1361.3M193.9 1358.8V1361.3M195.1 1358.7V1361.3M196.4 1358.8V1361.3M197.6 1358.6V1361.3M198.8 1358.4V1361.3M200 1358.1V1361.3M201.2 1357.8V1361.3M202.4 1357.5V1361.3M203.7 1357.2V1361.3M204.9 1357.2V1361.3M206.1 1357.1V1361.3M216.5 1358.8V1361.3M217.8 1358.8V1361.3M219 1358.7V1361.3M220.2 1358.5V1361.3M221.4 1358.1V1361.3M222.6 1357.7V1361.3M223.8 1357.6V1361.3M225 1357.7V1361.3M226.2 1357.9V1361.3M227.4 1358.4V1361.3M228.6 1358.6V1361.3M229.8 1358.8V1361.3M231 1358.9V1361.3M232.2 1358.9V1361.3M233.4 1358.7V1361.3M234.6 1358.4V1361.3M235.8 1357.9V1361.3M237 1357.2V1361.3M238.2 1356.9V1361.3M239.4 1357V1361.3M240.6 1357.7V1361.3M241.8 1358.4V1361.3M243 1358.6V1361.3M244.2 1358.3V1361.3M245.4 1358V1361.3M246.6 1358.1V1361.3M247.8 1358.3V1361.3M249 1358.2V1361.3M250.2 1358.2V1361.3M251.4 1358.3V1361.3M252.6 1358.1V1361.3M253.8 1358.3V1361.3M255 1358.3V1361.3M256.2 1358.5V1361.3M257.4 1358.7V1361.3M258.6 1358.7V1361.3M259.8 1358.5V1361.3M261 1358.3V1361.3" stroke="#E8DEE4" stroke-width="6.8" stroke-linecap="round" fill="none"/>
<path d="M260.8 1358.4V1361.3M262 1358.2V1361.3M263.2 1357.9V1361.3M264.4 1357.9V1361.3M265.6 1357.9V1361.3M266.8 1358V1361.3M268.1 1358.2V1361.3M269.3 1358.3V1361.3M270.5 1358.5V1361.3M271.7 1358.7V1361.3M272.9 1358.4V1361.3M274.1 1358.1V1361.3M275.3 1357.8V1361.3M276.5 1357.5V1361.3M277.7 1357.3V1361.3M278.9 1357.2V1361.3M280.1 1357.3V1361.3M281.3 1357.5V1361.3M282.5 1358V1361.3M283.7 1358.4V1361.3M284.9 1358.4V1361.3M286.2 1358.3V1361.3M287.4 1358.1V1361.3M288.6 1358.1V1361.3M289.8 1358.3V1361.3M291 1358.6V1361.3M292.2 1358.8V1361.3M293.4 1358.7V1361.3M294.6 1358.9V1361.3M295.8 1358.9V1361.3M297 1358.8V1361.3M298.2 1358.8V1361.3M299.4 1358.6V1361.3M300.6 1358.5V1361.3M301.8 1358.5V1361.3M303 1358.6V1361.3M304.3 1358.5V1361.3M305.5 1356.2V1361.3M306.7 1358.3V1361.3M307.9 1358.2V1361.3M309.1 1357.8V1361.3M310.3 1357.8V1361.3M311.5 1357.6V1361.3M312.7 1357.4V1361.3M313.9 1357.3V1361.3M315.1 1357.6V1361.3M316.3 1357.7V1361.3M317.5 1358V1361.3M318.7 1358V1361.3M319.9 1358.3V1361.3M321.1 1358.6V1361.3M322.4 1358.6V1361.3M323.6 1358.8V1361.3M324.8 1358.7V1361.3M326 1358.6V1361.3M327.2 1358.7V1361.3M328.4 1358.7V1361.3M329.6 1358.6V1361.3M330.8 1358.4V1361.3M332 1358.2V1361.3M333.2 1357.6V1361.3M334.4 1357.2V1361.3M335.6 1356.9V1361.3M336.8 1356.9V1361.3M338 1357.1V1361.3M339.2 1357.5V1361.3M340.5 1358V1361.3M341.7 1358.3V1361.3M342.9 1358.6V1361.3M344.1 1358.6V1361.3M345.3 1358.4V1361.3M346.5 1358.4V1361.3M347.7 1358.5V1361.3M348.9 1358.4V1361.3M350.1 1358.2V1361.3M351.3 1357.7V1361.3M352.5 1357.4V1361.3M353.7 1356.9V1361.3M354.9 1357V1361.3M356.1 1357.1V1361.3M357.3 1357.4V1361.3M358.6 1357.9V1361.3M359.8 1358.3V1361.3M361 1358.3V1361.3M362.2 1358.3V1361.3M363.4 1358.3V1361.3M364.6 1358.4V1361.3" stroke="#F8EDF3" stroke-width="6.8" stroke-linecap="round" fill="none"/>
<path d="M364.8 1358.5V1361.3M366 1358.5V1361.3M367.2 1358.2V1361.3M368.4 1357.9V1361.3M369.6 1357.8V1361.3M370.8 1357.6V1361.3M372 1357.5V1361.3M373.2 1357.5V1361.3M374.4 1357.6V1361.3M375.6 1357.8V1361.3M376.8 1357.8V1361.3M378 1358V1361.3M379.2 1358.2V1361.3M380.5 1358.4V1361.3M381.7 1358.3V1361.3M382.9 1358.3V1361.3M384.1 1358.1V1361.3M385.3 1358.1V1361.3M386.5 1358.1V1361.3M387.7 1358.2V1361.3M388.9 1358.4V1361.3M390.1 1358.5V1361.3M391.3 1358.8V1361.3M392.5 1358.7V1361.3M393.7 1358.6V1361.3M394.9 1358.3V1361.3M396.1 1357.9V1361.3M397.3 1357.4V1361.3M398.6 1357.1V1361.3M399.8 1356.8V1361.3M401 1357V1361.3M402.2 1357.3V1361.3M403.4 1357.6V1361.3M404.6 1357.5V1361.3M405.8 1357.3V1361.3M407 1357.2V1361.3M408.2 1357.2V1361.3M409.4 1357.2V1361.3M410.6 1357.4V1361.3M411.8 1357.7V1361.3M413 1358V1361.3M414.2 1358.3V1361.3M415.4 1358.4V1361.3M416.7 1358.6V1361.3M417.9 1358.5V1361.3M419.1 1358.5V1361.3M420.3 1358.5V1361.3M421.5 1358.6V1361.3M422.7 1358.6V1361.3M423.9 1358.7V1361.3M425.1 1358.9V1361.3M426.3 1358.6V1361.3M427.5 1358.5V1361.3M428.7 1358.3V1361.3M429.9 1357.9V1361.3M431.1 1357.4V1361.3M432.3 1357.3V1361.3M433.5 1357.4V1361.3M434.8 1357.8V1361.3M436 1358.2V1361.3M437.2 1358.6V1361.3M438.4 1358.5V1361.3M439.6 1358.6V1361.3M440.8 1358.7V1361.3M442 1358.8V1361.3M443.2 1358.8V1361.3M444.4 1358.9V1361.3M445.6 1358.9V1361.3M446.8 1358.7V1361.3M448 1358.2V1361.3M449.2 1355.6V1361.3" stroke="#E8DEE4" stroke-width="6.8" stroke-linecap="round" fill="none"/>
<path d="M449.5 1358.9V1361.3M450.8 1356.1V1361.3M452 1358.8V1361.3M453.2 1358.4V1361.3M454.4 1358.4V1361.3M455.6 1358.4V1361.3M456.8 1358.5V1361.3M458.1 1358.8V1361.3M459.3 1358.9V1361.3M460.5 1359V1361.3M461.7 1358.8V1361.3M462.9 1358.7V1361.3M464.1 1358.2V1361.3M465.4 1357.8V1361.3M466.6 1357.1V1361.3M467.8 1356.8V1361.3M469 1356.9V1361.3M470.2 1357.5V1361.3M471.4 1357.3V1361.3M472.7 1357V1361.3M473.9 1357.1V1361.3M475.1 1357.5V1361.3M476.3 1358V1361.3M477.5 1358.4V1361.3M478.7 1358.5V1361.3M480 1358.2V1361.3M481.2 1357.9V1361.3M482.4 1357.7V1361.3M483.6 1357.5V1361.3M484.8 1357.4V1361.3M486 1357.6V1361.3M487.3 1357.7V1361.3M488.5 1358V1361.3M489.7 1358V1361.3M490.9 1357.8V1361.3M492.1 1358.1V1361.3M493.3 1358.3V1361.3M494.6 1358.6V1361.3M495.8 1358.7V1361.3M497 1358.6V1361.3M498.2 1358.6V1361.3M499.4 1358.7V1361.3M500.6 1358.6V1361.3M501.9 1358.5V1361.3M503.1 1357.7V1361.3M504.3 1357V1361.3M505.5 1357V1361.3M506.7 1357.8V1361.3M507.9 1358.6V1361.3M509.2 1358.5V1361.3M510.4 1358.3V1361.3M511.6 1358.3V1361.3M512.8 1358.4V1361.3M514 1358.6V1361.3M515.2 1358.2V1361.3M516.5 1358.1V1361.3M517.7 1358V1361.3M518.9 1358.1V1361.3M520.1 1358.1V1361.3M521.3 1357.9V1361.3M522.5 1357.7V1361.3M523.8 1357.6V1361.3M525 1357.7V1361.3M526.2 1357.9V1361.3M527.4 1358V1361.3M528.6 1358.2V1361.3M529.8 1358.3V1361.3M531.1 1358.4V1361.3" stroke="#F8EDF3" stroke-width="6.8" stroke-linecap="round" fill="none"/>
<path d="M531.2 1357V1361.3M532.4 1356.9V1361.3M533.6 1357.3V1361.3M534.8 1357.7V1361.3M536 1355.5V1361.3M537.2 1358.6V1361.3M538.4 1358.7V1361.3M539.6 1358.5V1361.3M540.8 1358.5V1361.3M542 1358.2V1361.3M543.3 1358.3V1361.3M544.5 1358V1361.3M545.7 1358.2V1361.3M546.9 1358.3V1361.3M548.1 1358.4V1361.3M549.3 1358.4V1361.3M550.5 1358.5V1361.3M551.7 1358.6V1361.3M552.9 1358.7V1361.3M554.1 1358.6V1361.3M555.3 1358.4V1361.3M556.5 1358.1V1361.3M557.7 1357.8V1361.3M558.9 1357.7V1361.3M560.1 1357.4V1361.3M561.4 1357.2V1361.3M562.6 1357.3V1361.3M563.8 1357.2V1361.3M565 1357.4V1361.3M566.2 1357.6V1361.3M567.4 1357.8V1361.3M568.6 1358V1361.3M569.8 1358.4V1361.3M571 1358.5V1361.3M572.2 1358.6V1361.3M573.4 1358.2V1361.3M574.6 1357.9V1361.3M575.8 1357.4V1361.3M577 1357.4V1361.3M578.2 1357.6V1361.3M579.5 1358V1361.3M580.7 1358.3V1361.3M581.9 1358.6V1361.3M583.1 1358.6V1361.3M584.3 1358.5V1361.3M585.5 1358.4V1361.3M586.7 1358.1V1361.3M587.9 1358.1V1361.3M589.1 1358V1361.3M590.3 1357.8V1361.3M591.5 1357.8V1361.3M592.7 1358V1361.3M593.9 1358V1361.3M595.1 1357.5V1361.3M596.3 1356.9V1361.3M597.6 1357.2V1361.3M598.8 1358V1361.3M600 1358.5V1361.3M601.2 1358.9V1361.3M602.4 1358.9V1361.3M603.6 1359V1361.3M604.8 1358.8V1361.3M606 1358.7V1361.3M607.2 1358.5V1361.3M608.4 1358.1V1361.3" stroke="#E8DEE4" stroke-width="6.8" stroke-linecap="round" fill="none"/>
<path d="M608.9 1358.4V1361.3M610.2 1358.5V1361.3M611.4 1358.5V1361.3M612.6 1358.4V1361.3M613.8 1358.4V1361.3M615 1358.4V1361.3M616.2 1358.4V1361.3M617.4 1358.4V1361.3M618.7 1358.5V1361.3M619.9 1358.7V1361.3M621.1 1358.7V1361.3M622.3 1358.6V1361.3M623.5 1358.5V1361.3M624.7 1358.2V1361.3M626 1358V1361.3M627.2 1358V1361.3M628.4 1358.1V1361.3M629.6 1358.4V1361.3M630.8 1356V1361.3M632 1358.7V1361.3M633.2 1358.7V1361.3M634.5 1358.7V1361.3M635.7 1358.5V1361.3M636.9 1358.5V1361.3M638.1 1358.4V1361.3M639.3 1358.4V1361.3M640.5 1358.3V1361.3M641.8 1358.5V1361.3M643 1358.5V1361.3M644.2 1358.4V1361.3M645.4 1358.4V1361.3M646.6 1358.2V1361.3M647.8 1358.2V1361.3M649 1358V1361.3M650.3 1357.4V1361.3M651.5 1357.1V1361.3M652.7 1357.2V1361.3M653.9 1357.7V1361.3M655.1 1358.2V1361.3M656.3 1358.7V1361.3M657.6 1358.5V1361.3M658.8 1358.4V1361.3M660 1358.1V1361.3M661.2 1358V1361.3M662.4 1357.7V1361.3M663.6 1357.8V1361.3M664.8 1357.7V1361.3M666.1 1357.8V1361.3M667.3 1357.7V1361.3M668.5 1357.2V1361.3M669.7 1357.3V1361.3M670.9 1357.7V1361.3M672.1 1358V1361.3M673.4 1358.4V1361.3M674.6 1358.6V1361.3M675.8 1358.3V1361.3M677 1358.1V1361.3M678.2 1358.1V1361.3M679.4 1358.2V1361.3M680.6 1358.4V1361.3M681.9 1358.8V1361.3" stroke="#F8EDF3" stroke-width="6.8" stroke-linecap="round" fill="none"/>
<path d="M682 1359V1361.3M683.3 1358.8V1361.3M684.5 1358.8V1361.3M685.7 1358.9V1361.3M686.9 1358.8V1361.3M688.1 1358.7V1361.3M689.3 1358.5V1361.3M690.5 1358.5V1361.3M691.7 1358.7V1361.3M693 1358.8V1361.3M694.2 1356.3V1361.3M695.4 1359V1361.3M696.6 1359V1361.3M697.8 1359V1361.3M699 1358.8V1361.3M700.2 1358.8V1361.3M701.4 1358.7V1361.3M702.7 1358.5V1361.3M703.9 1358.2V1361.3M705.1 1358V1361.3M706.3 1358.3V1361.3M707.5 1358.5V1361.3M708.7 1358.6V1361.3M709.9 1358.5V1361.3M711.1 1358.4V1361.3M712.4 1358.4V1361.3M713.6 1358.2V1361.3M714.8 1358.1V1361.3M716 1358V1361.3M717.2 1358V1361.3M718.4 1357.9V1361.3M719.6 1357.5V1361.3M720.9 1357.4V1361.3M722.1 1357.2V1361.3M723.3 1357.1V1361.3M724.5 1357.2V1361.3M725.7 1357.6V1361.3M726.9 1357.8V1361.3M728.1 1358.1V1361.3M729.3 1358.4V1361.3M730.6 1358.7V1361.3M731.8 1358.8V1361.3M733 1358.7V1361.3M734.2 1358.6V1361.3M735.4 1358.4V1361.3M736.6 1358.3V1361.3M737.8 1358.5V1361.3M739 1358.7V1361.3M740.3 1358.8V1361.3M741.5 1359V1361.3M742.7 1358.9V1361.3M743.9 1358.7V1361.3M745.1 1358.6V1361.3M746.3 1358.5V1361.3M747.5 1358.4V1361.3M748.7 1358.4V1361.3M750 1358.5V1361.3" stroke="#E8DEE4" stroke-width="6.8" stroke-linecap="round" fill="none"/>
<path d="M749.9 1358.8V1361.3M751.1 1358.7V1361.3M752.4 1358.7V1361.3M753.6 1358.6V1361.3M754.8 1358.4V1361.3M756 1358.4V1361.3M757.2 1358.2V1361.3M758.5 1358.2V1361.3M759.7 1358V1361.3M760.9 1358.1V1361.3M762.1 1358.2V1361.3M763.4 1358.4V1361.3M764.6 1358.4V1361.3M765.8 1358.7V1361.3M767 1358.8V1361.3M768.3 1358.8V1361.3M769.5 1358.9V1361.3M770.7 1358.7V1361.3M771.9 1358.6V1361.3M773.1 1358.5V1361.3M774.4 1358.6V1361.3M775.6 1358.6V1361.3M776.8 1358.8V1361.3M778 1358.8V1361.3M779.3 1358.9V1361.3M780.5 1359V1361.3M781.7 1358.9V1361.3M782.9 1359V1361.3M784.2 1359V1361.3M785.4 1358.9V1361.3M786.6 1358.9V1361.3M787.8 1358.8V1361.3M789.1 1358.7V1361.3M790.3 1358.7V1361.3M791.5 1358.7V1361.3M792.7 1358.9V1361.3M793.9 1358.9V1361.3M795.2 1358.8V1361.3M796.4 1358.9V1361.3M797.6 1358.8V1361.3M798.8 1358.9V1361.3M800.1 1358.6V1361.3M801.3 1358.2V1361.3M802.5 1357.6V1361.3M803.7 1357.3V1361.3M805 1357.7V1361.3M806.2 1358.4V1361.3M807.4 1358.7V1361.3M808.6 1358.8V1361.3M809.8 1358.8V1361.3M811.1 1358.6V1361.3M812.3 1358.3V1361.3" stroke="#F8EDF3" stroke-width="6.8" stroke-linecap="round" fill="none"/>
<path d="M811.5 1358.3V1361.3M812.8 1357.7V1361.3M814.1 1357V1361.3M815.3 1357.2V1361.3M816.6 1357.8V1361.3M817.9 1358.4V1361.3M819.1 1358.8V1361.3M820.4 1358.6V1361.3M821.7 1358.6V1361.3M822.9 1358.5V1361.3M824.2 1358.4V1361.3M825.5 1358.3V1361.3M826.7 1358.2V1361.3M828 1358.1V1361.3M841.7 1358.8V1361.3M843 1358.8V1361.3M844.2 1358.6V1361.3M845.5 1358.5V1361.3M846.7 1358.2V1361.3M848 1358V1361.3M849.2 1357.7V1361.3M850.5 1357.2V1361.3M851.7 1357.1V1361.3M853 1357.2V1361.3M854.2 1357.4V1361.3M855.5 1357.5V1361.3M856.7 1357.8V1361.3M858 1358.2V1361.3M859.2 1358.3V1361.3M860.5 1358.4V1361.3M861.7 1358.2V1361.3M862.9 1358V1361.3M864.2 1357.8V1361.3M865.4 1357.6V1361.3M866.7 1357.3V1361.3M867.9 1357.2V1361.3M869.2 1357.3V1361.3M870.4 1357.5V1361.3M871.7 1357.6V1361.3" stroke="#E8DEE4" stroke-width="6.8" stroke-linecap="round" fill="none"/>
<path d="M871.3 1358.9V1361.3M872.5 1358.9V1361.3M873.7 1358.9V1361.3M874.9 1358.9V1361.3M876.1 1358.7V1361.3M877.3 1358.7V1361.3M878.5 1358.6V1361.3M879.7 1358.5V1361.3M880.9 1358.4V1361.3M882.1 1358.3V1361.3M883.3 1358.3V1361.3M884.5 1358.3V1361.3M885.7 1358.2V1361.3M887 1358V1361.3M888.2 1358.1V1361.3M889.4 1358.2V1361.3M890.6 1358.3V1361.3M891.8 1358.4V1361.3M893 1358.4V1361.3M894.2 1358.3V1361.3M895.4 1357.9V1361.3M896.6 1357.7V1361.3M897.8 1357.4V1361.3M899 1357.3V1361.3M900.2 1357.4V1361.3M901.4 1357.7V1361.3M902.6 1358V1361.3M903.8 1358.3V1361.3M905 1358.5V1361.3M906.2 1358.6V1361.3M907.4 1358.8V1361.3M908.6 1358.6V1361.3M909.8 1358.4V1361.3M911 1358.1V1361.3M912.2 1357.7V1361.3M913.4 1357.4V1361.3M914.7 1357.4V1361.3M915.9 1357.7V1361.3M917.1 1358.1V1361.3M918.3 1358.4V1361.3M919.5 1358.5V1361.3M920.7 1358.6V1361.3M921.9 1358.7V1361.3M923.1 1358.7V1361.3M924.3 1358.8V1361.3M925.5 1359V1361.3M926.7 1358.9V1361.3M927.9 1358.8V1361.3M929.1 1358.5V1361.3" stroke="#F8EDF3" stroke-width="6.8" stroke-linecap="round" fill="none"/>
<path d="M928.9 1358.6V1361.3M930.2 1358.4V1361.3M931.4 1358V1361.3M932.6 1357.4V1361.3M933.8 1357V1361.3M935.1 1357.1V1361.3M936.3 1357.5V1361.3M937.5 1358.1V1361.3M938.7 1358.5V1361.3M940 1358.7V1361.3M941.2 1358.8V1361.3M942.4 1358.7V1361.3M943.6 1358.4V1361.3M944.9 1358V1361.3M946.1 1357.3V1361.3M947.3 1357.1V1361.3M948.5 1357.2V1361.3M949.7 1357.7V1361.3M951 1358.3V1361.3M952.2 1358.7V1361.3M953.4 1358.7V1361.3M954.6 1358.2V1361.3M955.9 1357.6V1361.3M957.1 1357.1V1361.3M958.3 1356.8V1361.3M959.5 1357V1361.3M960.8 1357.5V1361.3M962 1357.5V1361.3M963.2 1357.6V1361.3M964.4 1357.8V1361.3M965.7 1357.5V1361.3M966.9 1357.2V1361.3M968.1 1356.9V1361.3M969.3 1357.1V1361.3M970.5 1357.3V1361.3M971.8 1357.7V1361.3M973 1358.1V1361.3M974.2 1358.5V1361.3M975.4 1358.4V1361.3M976.7 1358.3V1361.3M977.9 1358.4V1361.3M979.1 1358.5V1361.3M980.3 1358.5V1361.3M981.6 1358.6V1361.3M982.8 1358.8V1361.3M984 1358.8V1361.3M985.2 1358.7V1361.3M986.5 1358.6V1361.3" stroke="#E8DEE4" stroke-width="6.8" stroke-linecap="round" fill="none"/>
<path d="M986.6 1358.8V1361.3M987.8 1358.8V1361.3M989 1358.7V1361.3M990.2 1358.4V1361.3M991.4 1357.9V1361.3M992.7 1357.2V1361.3M993.9 1356.9V1361.3M995.1 1357.5V1361.3M996.3 1358.1V1361.3M997.5 1358.7V1361.3M998.7 1358.7V1361.3M999.9 1358.7V1361.3M1001.1 1358.6V1361.3M1002.4 1358.8V1361.3M1003.6 1358.7V1361.3M1004.8 1358.6V1361.3M1006 1358.4V1361.3M1007.2 1357.8V1361.3M1008.4 1357.5V1361.3M1009.6 1357.1V1361.3M1010.9 1357.2V1361.3M1012.1 1357.8V1361.3M1013.3 1358.2V1361.3M1014.5 1358.5V1361.3M1015.7 1358.7V1361.3M1016.9 1358.8V1361.3M1018.1 1359V1361.3M1019.3 1358.9V1361.3M1020.6 1358.8V1361.3M1021.8 1358.6V1361.3M1023 1358.6V1361.3M1024.2 1358.7V1361.3M1025.4 1358.7V1361.3M1026.6 1358.8V1361.3M1027.8 1358.8V1361.3M1029.1 1358.8V1361.3M1030.3 1358.8V1361.3M1031.5 1358.5V1361.3M1032.7 1358.3V1361.3M1033.9 1358.1V1361.3M1035.1 1358.1V1361.3M1036.3 1358.1V1361.3M1037.5 1358.1V1361.3M1038.8 1358.3V1361.3M1040 1358.4V1361.3M1041.2 1358.2V1361.3M1042.4 1357.7V1361.3M1043.6 1357.6V1361.3" stroke="#F8EDF3" stroke-width="6.8" stroke-linecap="round" fill="none"/>
<path d="M1051.5 1358.5V1361.3M1052.7 1358.5V1361.3M1053.9 1358.6V1361.3M1055.1 1358.7V1361.3M1056.3 1358.7V1361.3M1057.5 1358.8V1361.3M1058.7 1358.8V1361.3M1059.9 1358.8V1361.3M1061.1 1358.5V1361.3M1062.3 1358.1V1361.3M1063.6 1357.6V1361.3M1064.8 1357.2V1361.3M1066 1356.9V1361.3M1067.2 1357.1V1361.3M1068.4 1357.5V1361.3M1069.6 1357.5V1361.3M1070.8 1357.3V1361.3M1072 1357.2V1361.3M1073.2 1357.4V1361.3M1074.4 1357.7V1361.3M1075.6 1358.1V1361.3M1076.8 1358.3V1361.3M1078 1357.9V1361.3M1079.2 1357.4V1361.3M1080.4 1357.1V1361.3M1081.7 1356.9V1361.3M1082.9 1357.1V1361.3M1084.1 1357.3V1361.3M1085.3 1357.8V1361.3M1086.5 1357.7V1361.3M1087.7 1357.6V1361.3M1088.9 1357.7V1361.3M1090.1 1357.9V1361.3M1091.3 1357.9V1361.3M1092.5 1358.3V1361.3" stroke="#E8DEE4" stroke-width="6.8" stroke-linecap="round" fill="none"/>
<path d="M1101.9 1358.8V1361.3M1103.1 1358.7V1361.3M1104.3 1358.5V1361.3M1105.5 1358.3V1361.3M1106.7 1358.2V1361.3M1107.9 1358.3V1361.3M1109.1 1356.5V1361.3M1110.3 1358.7V1361.3M1111.5 1358.8V1361.3M1112.7 1358.8V1361.3M1113.9 1358.8V1361.3M1115.1 1358.5V1361.3M1116.3 1358.2V1361.3M1117.5 1357.9V1361.3M1118.7 1357.9V1361.3M1119.9 1358.2V1361.3M1121.1 1358.5V1361.3M1122.3 1358.6V1361.3M1123.5 1358.7V1361.3M1124.7 1358.5V1361.3M1125.9 1358.6V1361.3M1127.1 1358.6V1361.3M1128.3 1358.7V1361.3M1129.5 1358.7V1361.3M1130.7 1358.8V1361.3M1131.9 1358.7V1361.3M1133.1 1358.7V1361.3M1134.3 1358.5V1361.3M1135.5 1358.5V1361.3M1136.7 1358.4V1361.3M1137.9 1358.4V1361.3M1139.1 1358.5V1361.3" stroke="#F8EDF3" stroke-width="6.8" stroke-linecap="round" fill="none"/>
<path d="M1147.4 1358.7V1361.3M1148.6 1358.5V1361.3M1149.8 1358.3V1361.3M1151 1358V1361.3M1152.2 1357.9V1361.3M1153.5 1357.9V1361.3M1154.7 1358.1V1361.3M1155.9 1358.5V1361.3M1157.1 1358.6V1361.3M1158.3 1358.8V1361.3M1159.5 1358.6V1361.3M1160.7 1358.6V1361.3M1162 1358.4V1361.3M1163.2 1358.4V1361.3M1164.4 1358.4V1361.3M1165.6 1358.4V1361.3M1166.8 1358.3V1361.3M1168 1358.4V1361.3M1169.3 1357.9V1361.3M1170.5 1357.3V1361.3M1171.7 1357.3V1361.3M1172.9 1357.6V1361.3M1174.1 1358.3V1361.3M1175.3 1358.8V1361.3M1176.5 1358.8V1361.3M1177.8 1358.8V1361.3M1179 1358.9V1361.3M1180.2 1358.8V1361.3M1181.4 1358.9V1361.3M1182.6 1358.7V1361.3" stroke="#E8DEE4" stroke-width="6.8" stroke-linecap="round" fill="none"/>
<path d="M1181.9 1358.3V1361.3M1183.1 1358.2V1361.3M1184.4 1358V1361.3M1185.6 1357.9V1361.3M1186.9 1357.7V1361.3M1188.1 1357.8V1361.3M1189.4 1357.9V1361.3M1190.6 1358V1361.3M1191.9 1358.1V1361.3M1193.1 1358.3V1361.3M1194.4 1358.2V1361.3M1195.6 1357.8V1361.3M1196.9 1357.4V1361.3M1201.7 1357.6V1361.3M1202.9 1357.2V1361.3M1204.2 1357.6V1361.3M1205.4 1358.2V1361.3M1206.7 1358.5V1361.3M1207.9 1358.8V1361.3M1209.1 1358.8V1361.3M1210.4 1358.7V1361.3M1211.6 1358.6V1361.3M1212.9 1358.6V1361.3M1214.1 1358.5V1361.3M1215.4 1358.5V1361.3M1216.6 1354V1361.3M1217.9 1358.7V1361.3M1219.1 1358.7V1361.3M1220.3 1358.7V1361.3" stroke="#F8EDF3" stroke-width="6.8" stroke-linecap="round" fill="none"/>
<path d="M1222.1 1358V1361.3M1223.3 1357.8V1361.3M1224.5 1357.9V1361.3M1225.8 1358.1V1361.3M1227 1358.2V1361.3M1228.3 1358.6V1361.3M1229.5 1358.7V1361.3M1230.7 1358.5V1361.3M1232 1358.3V1361.3M1233.2 1357.9V1361.3M1234.4 1357.7V1361.3M1235.7 1357.3V1361.3M1236.9 1357.3V1361.3M1238.2 1357.4V1361.3M1239.4 1357.7V1361.3M1240.6 1357.4V1361.3M1241.9 1357V1361.3M1243.1 1356.8V1361.3M1244.4 1356.7V1361.3M1245.6 1357V1361.3M1246.8 1357.1V1361.3M1248.1 1357.6V1361.3M1249.3 1358V1361.3M1250.5 1358.2V1361.3M1251.8 1358.4V1361.3M1253 1358.3V1361.3M1254.3 1358.5V1361.3M1255.5 1358.6V1361.3M1256.7 1358.4V1361.3" stroke="#E8DEE4" stroke-width="6.8" stroke-linecap="round" fill="none"/>
<path d="M1256.8 1358.8V1361.3M1258 1358.9V1361.3M1259.2 1358.7V1361.3M1260.5 1358.8V1361.3M1261.7 1358.6V1361.3M1262.9 1358.4V1361.3M1264.2 1358.1V1361.3M1265.4 1358.1V1361.3M1266.6 1358.1V1361.3M1267.9 1358.1V1361.3M1269.1 1358.2V1361.3M1270.3 1358.5V1361.3M1271.6 1358.6V1361.3M1272.8 1358.4V1361.3M1274 1358V1361.3M1275.2 1357.4V1361.3M1276.5 1357V1361.3M1277.7 1356.8V1361.3M1278.9 1356.9V1361.3M1280.2 1357.3V1361.3M1281.4 1357.7V1361.3M1282.6 1358.2V1361.3M1283.9 1358.4V1361.3M1285.1 1358.4V1361.3M1286.3 1358.7V1361.3M1287.6 1358.7V1361.3M1288.8 1358.8V1361.3M1290 1358.9V1361.3" stroke="#F8EDF3" stroke-width="6.8" stroke-linecap="round" fill="none"/>
<path d="M1290.1 1358.4V1361.3M1291.4 1358.1V1361.3M1292.6 1357.8V1361.3M1293.9 1357.6V1361.3M1295.2 1357.5V1361.3M1296.4 1357.5V1361.3M1297.7 1357.6V1361.3M1298.9 1357.7V1361.3M1300.2 1357.8V1361.3M1301.4 1358.2V1361.3M1302.7 1358.4V1361.3M1304 1358.6V1361.3M1305.2 1358.7V1361.3M1306.5 1356.5V1361.3M1307.7 1358.7V1361.3M1309 1358.3V1361.3M1310.2 1357.4V1361.3M1311.5 1356.7V1361.3M1312.8 1357.1V1361.3M1314 1357.9V1361.3M1315.3 1358.1V1361.3" stroke="#E8DEE4" stroke-width="6.8" stroke-linecap="round" fill="none"/>
<path d="M1315.8 1358.8V1361.3M1317 1358.8V1361.3M1318.2 1358.7V1361.3M1319.4 1358.5V1361.3M1320.7 1358.1V1361.3M1321.9 1357.5V1361.3M1323.1 1357.1V1361.3M1324.3 1356.8V1361.3M1325.5 1357V1361.3M1326.8 1357.4V1361.3M1328 1358V1361.3M1329.2 1358.4V1361.3M1330.4 1358.6V1361.3M1331.6 1358.6V1361.3M1332.9 1358.3V1361.3M1334.1 1358.1V1361.3M1335.3 1356.3V1361.3M1336.5 1357.9V1361.3M1337.7 1357.9V1361.3M1339 1357.9V1361.3M1340.2 1358.2V1361.3M1341.4 1358.4V1361.3M1342.6 1358.1V1361.3" stroke="#F8EDF3" stroke-width="6.8" stroke-linecap="round" fill="none"/>
<path d="M1348.8 1357.8V1361.3M1350.1 1357.3V1361.3M1351.4 1357.1V1361.3M1352.7 1357.3V1361.3M1354 1357.5V1361.3M1355.3 1357.9V1361.3M1356.5 1358.4V1361.3M1357.8 1358.5V1361.3M1359.1 1358.7V1361.3M1360.4 1358.8V1361.3M1361.7 1358.8V1361.3M1363 1358.8V1361.3" stroke="#E8DEE4" stroke-width="6.8" stroke-linecap="round" fill="none"/>
<path d="M1370.2 1358.9V1361.3M1371.4 1358.6V1361.3M1372.7 1358.3V1361.3M1373.9 1357.7V1361.3M1375.2 1357.3V1361.3M1376.4 1357.2V1361.3M1377.7 1357.6V1361.3M1379 1358.1V1361.3M1380.2 1358.6V1361.3M1381.5 1358.7V1361.3M1382.7 1358.4V1361.3M1384 1358.2V1361.3M1385.2 1358.1V1361.3" stroke="#F8EDF3" stroke-width="6.8" stroke-linecap="round" fill="none"/>
<path d="M221.9 1351.4V1360" stroke="#E8DEE4" stroke-width="6.8" stroke-linecap="round" fill="none"/>
<path d="M333.1 1353.4V1360M619.7 1353.4V1360M768 1349.4V1360M901 1352.9V1360M1007 1353.4V1360M1219.9 1355.4V1360" stroke="#F8EDF3" stroke-width="6.8" stroke-linecap="round" fill="none"/>
</g>
<rect x="94" y="1153.7" width="1351.8" height="216.5" fill="none" stroke="#333333" stroke-width="1.5"/>
<line x1="86.4" x2="94" y1="1363.3" y2="1363.3" stroke="#333333" stroke-width="2"/>
<text x="80.6" y="1371.7" font-size="23.5" fill="#4D4D4D" font-weight="normal" text-anchor="end" textLength="14.6" lengthAdjust="spacingAndGlyphs">0</text>
<line x1="86.4" x2="94" y1="1285" y2="1285" stroke="#333333" stroke-width="2"/>
<text x="80.6" y="1293.4" font-size="23.5" fill="#4D4D4D" font-weight="normal" text-anchor="end" textLength="29.2" lengthAdjust="spacingAndGlyphs">50</text>
<line x1="86.4" x2="94" y1="1206.7" y2="1206.7" stroke="#333333" stroke-width="2"/>
<text x="80.6" y="1215.1" font-size="23.5" fill="#4D4D4D" font-weight="normal" text-anchor="end" textLength="43.8" lengthAdjust="spacingAndGlyphs">100</text>
<text transform="translate(23.5 1262) rotate(-90)" font-size="28" fill="#000" text-anchor="middle" textLength="185" lengthAdjust="spacingAndGlyphs">-log10(P-Het)</text>
<text x="1111.7" y="450.9" font-size="25.5" fill="#000" font-weight="bold" text-anchor="start" textLength="88" lengthAdjust="spacingAndGlyphs">PIEZO1</text>
<text x="1265" y="533.2" font-size="25.5" fill="#000" font-weight="bold" text-anchor="start" textLength="66.4" lengthAdjust="spacingAndGlyphs">FN3K</text>
<text x="667.4" y="564.8" font-size="25.5" fill="#000" font-weight="bold" text-anchor="start" textLength="57.5" lengthAdjust="spacingAndGlyphs">GCK</text>
<text x="859.3" y="592.5" font-size="25.5" fill="#000" font-weight="bold" text-anchor="start" textLength="92.4" lengthAdjust="spacingAndGlyphs">TCF7L2</text>
<text x="957.6" y="632.2" font-size="25.5" fill="#000" font-weight="bold" text-anchor="start" textLength="105.2" lengthAdjust="spacingAndGlyphs">MTNR1B</text>
<text x="531" y="621.5" font-size="25.5" fill="#000" font-weight="bold" text-anchor="start" textLength="100" lengthAdjust="spacingAndGlyphs">CDKAL1</text>
<text x="283.5" y="632.6" font-size="25.5" fill="#000" font-weight="bold" text-anchor="start" textLength="85.2" lengthAdjust="spacingAndGlyphs">G6PC2</text>
<text x="836.9" y="1179.7" font-size="25.5" fill="#000" font-weight="bold" text-anchor="start" textLength="48.4" lengthAdjust="spacingAndGlyphs">HK1</text>
<text x="1173.1" y="1269.7" font-size="25.5" fill="#000" font-weight="bold" text-anchor="start" textLength="87.7" lengthAdjust="spacingAndGlyphs">PIEZO1</text>
<text x="246.9" y="1287.1" font-size="25.5" fill="#000" font-weight="bold" text-anchor="start" textLength="193.2" lengthAdjust="spacingAndGlyphs">G6PC2/ABCB11</text>
<text x="171.6" y="1321.1" font-size="25.5" fill="#000" font-weight="bold" text-anchor="start" textLength="78.5" lengthAdjust="spacingAndGlyphs">SPTA1</text>
<text x="601.1" y="1319.2" font-size="25.5" fill="#000" font-weight="bold" text-anchor="start" textLength="51.5" lengthAdjust="spacingAndGlyphs">HLA</text>
<text x="739.4" y="1325.7" font-size="25.5" fill="#000" font-weight="bold" text-anchor="start" textLength="67.6" lengthAdjust="spacingAndGlyphs">ANK1</text>
<line x1="208" x2="208" y1="1370.2" y2="1378.2" stroke="#333333" stroke-width="2.2"/>
<text transform="translate(224.9 1412) rotate(-90)" font-size="23.5" fill="#4D4D4D" textLength="13.9" lengthAdjust="spacingAndGlyphs">1</text>
<line x1="312.7" x2="312.7" y1="1370.2" y2="1378.2" stroke="#333333" stroke-width="2.2"/>
<text transform="translate(329.6 1412) rotate(-90)" font-size="23.5" fill="#4D4D4D" textLength="13.9" lengthAdjust="spacingAndGlyphs">2</text>
<line x1="407" x2="407" y1="1370.2" y2="1378.2" stroke="#333333" stroke-width="2.2"/>
<text transform="translate(423.9 1412) rotate(-90)" font-size="23.5" fill="#4D4D4D" textLength="13.9" lengthAdjust="spacingAndGlyphs">3</text>
<line x1="490.3" x2="490.3" y1="1370.2" y2="1378.2" stroke="#333333" stroke-width="2.2"/>
<text transform="translate(507.2 1412) rotate(-90)" font-size="23.5" fill="#4D4D4D" textLength="13.9" lengthAdjust="spacingAndGlyphs">4</text>
<line x1="569.8" x2="569.8" y1="1370.2" y2="1378.2" stroke="#333333" stroke-width="2.2"/>
<text transform="translate(586.7 1412) rotate(-90)" font-size="23.5" fill="#4D4D4D" textLength="13.9" lengthAdjust="spacingAndGlyphs">5</text>
<line x1="645.4" x2="645.4" y1="1370.2" y2="1378.2" stroke="#333333" stroke-width="2.2"/>
<text transform="translate(662.3 1412) rotate(-90)" font-size="23.5" fill="#4D4D4D" textLength="13.9" lengthAdjust="spacingAndGlyphs">6</text>
<line x1="716" x2="716" y1="1370.2" y2="1378.2" stroke="#333333" stroke-width="2.2"/>
<text transform="translate(732.9 1412) rotate(-90)" font-size="23.5" fill="#4D4D4D" textLength="13.9" lengthAdjust="spacingAndGlyphs">7</text>
<line x1="781.1" x2="781.1" y1="1370.2" y2="1378.2" stroke="#333333" stroke-width="2.2"/>
<text transform="translate(798 1412) rotate(-90)" font-size="23.5" fill="#4D4D4D" textLength="13.9" lengthAdjust="spacingAndGlyphs">8</text>
<line x1="841.6" x2="841.6" y1="1370.2" y2="1378.2" stroke="#333333" stroke-width="2.2"/>
<text transform="translate(858.5 1412) rotate(-90)" font-size="23.5" fill="#4D4D4D" textLength="13.9" lengthAdjust="spacingAndGlyphs">9</text>
<line x1="900.2" x2="900.2" y1="1370.2" y2="1378.2" stroke="#333333" stroke-width="2.2"/>
<text transform="translate(917.1 1412) rotate(-90)" font-size="23.5" fill="#4D4D4D" textLength="27.8" lengthAdjust="spacingAndGlyphs">10</text>
<line x1="957.7" x2="957.7" y1="1370.2" y2="1378.2" stroke="#333333" stroke-width="2.2"/>
<text transform="translate(974.6 1412) rotate(-90)" font-size="23.5" fill="#4D4D4D" textLength="27.8" lengthAdjust="spacingAndGlyphs">11</text>
<line x1="1015.1" x2="1015.1" y1="1370.2" y2="1378.2" stroke="#333333" stroke-width="2.2"/>
<text transform="translate(1032 1412) rotate(-90)" font-size="23.5" fill="#4D4D4D" textLength="27.8" lengthAdjust="spacingAndGlyphs">12</text>
<line x1="1072" x2="1072" y1="1370.2" y2="1378.2" stroke="#333333" stroke-width="2.2"/>
<text transform="translate(1088.9 1412) rotate(-90)" font-size="23.5" fill="#4D4D4D" textLength="27.8" lengthAdjust="spacingAndGlyphs">13</text>
<line x1="1120.5" x2="1120.5" y1="1370.2" y2="1378.2" stroke="#333333" stroke-width="2.2"/>
<text transform="translate(1137.4 1412) rotate(-90)" font-size="23.5" fill="#4D4D4D" textLength="27.8" lengthAdjust="spacingAndGlyphs">14</text>
<line x1="1165" x2="1165" y1="1370.2" y2="1378.2" stroke="#333333" stroke-width="2.2"/>
<text transform="translate(1181.9 1412) rotate(-90)" font-size="23.5" fill="#4D4D4D" textLength="27.8" lengthAdjust="spacingAndGlyphs">15</text>
<line x1="1201.1" x2="1201.1" y1="1370.2" y2="1378.2" stroke="#333333" stroke-width="2.2"/>
<text transform="translate(1218 1412) rotate(-90)" font-size="23.5" fill="#4D4D4D" textLength="27.8" lengthAdjust="spacingAndGlyphs">16</text>
<line x1="1239.4" x2="1239.4" y1="1370.2" y2="1378.2" stroke="#333333" stroke-width="2.2"/>
<text transform="translate(1256.3 1412) rotate(-90)" font-size="23.5" fill="#4D4D4D" textLength="27.8" lengthAdjust="spacingAndGlyphs">17</text>
<line x1="1273.4" x2="1273.4" y1="1370.2" y2="1378.2" stroke="#333333" stroke-width="2.2"/>
<text transform="translate(1290.3 1412) rotate(-90)" font-size="23.5" fill="#4D4D4D" textLength="27.8" lengthAdjust="spacingAndGlyphs">18</text>
<line x1="1302.7" x2="1302.7" y1="1370.2" y2="1378.2" stroke="#333333" stroke-width="2.2"/>
<text transform="translate(1319.6 1412) rotate(-90)" font-size="23.5" fill="#4D4D4D" textLength="27.8" lengthAdjust="spacingAndGlyphs">19</text>
<line x1="1329.2" x2="1329.2" y1="1370.2" y2="1378.2" stroke="#333333" stroke-width="2.2"/>
<text transform="translate(1346.1 1412) rotate(-90)" font-size="23.5" fill="#4D4D4D" textLength="27.8" lengthAdjust="spacingAndGlyphs">20</text>
<line x1="1355.9" x2="1355.9" y1="1370.2" y2="1378.2" stroke="#333333" stroke-width="2.2"/>
<text transform="translate(1372.8 1412) rotate(-90)" font-size="23.5" fill="#4D4D4D" textLength="27.8" lengthAdjust="spacingAndGlyphs">21</text>
<line x1="1377.7" x2="1377.7" y1="1370.2" y2="1378.2" stroke="#333333" stroke-width="2.2"/>
<text transform="translate(1394.6 1412) rotate(-90)" font-size="23.5" fill="#4D4D4D" textLength="27.8" lengthAdjust="spacingAndGlyphs">22</text>
<text x="676.4" y="1439.8" font-size="28" fill="#000" font-weight="normal" text-anchor="start" textLength="186.4" lengthAdjust="spacingAndGlyphs">Chromosome</text>
</svg></body></html>
